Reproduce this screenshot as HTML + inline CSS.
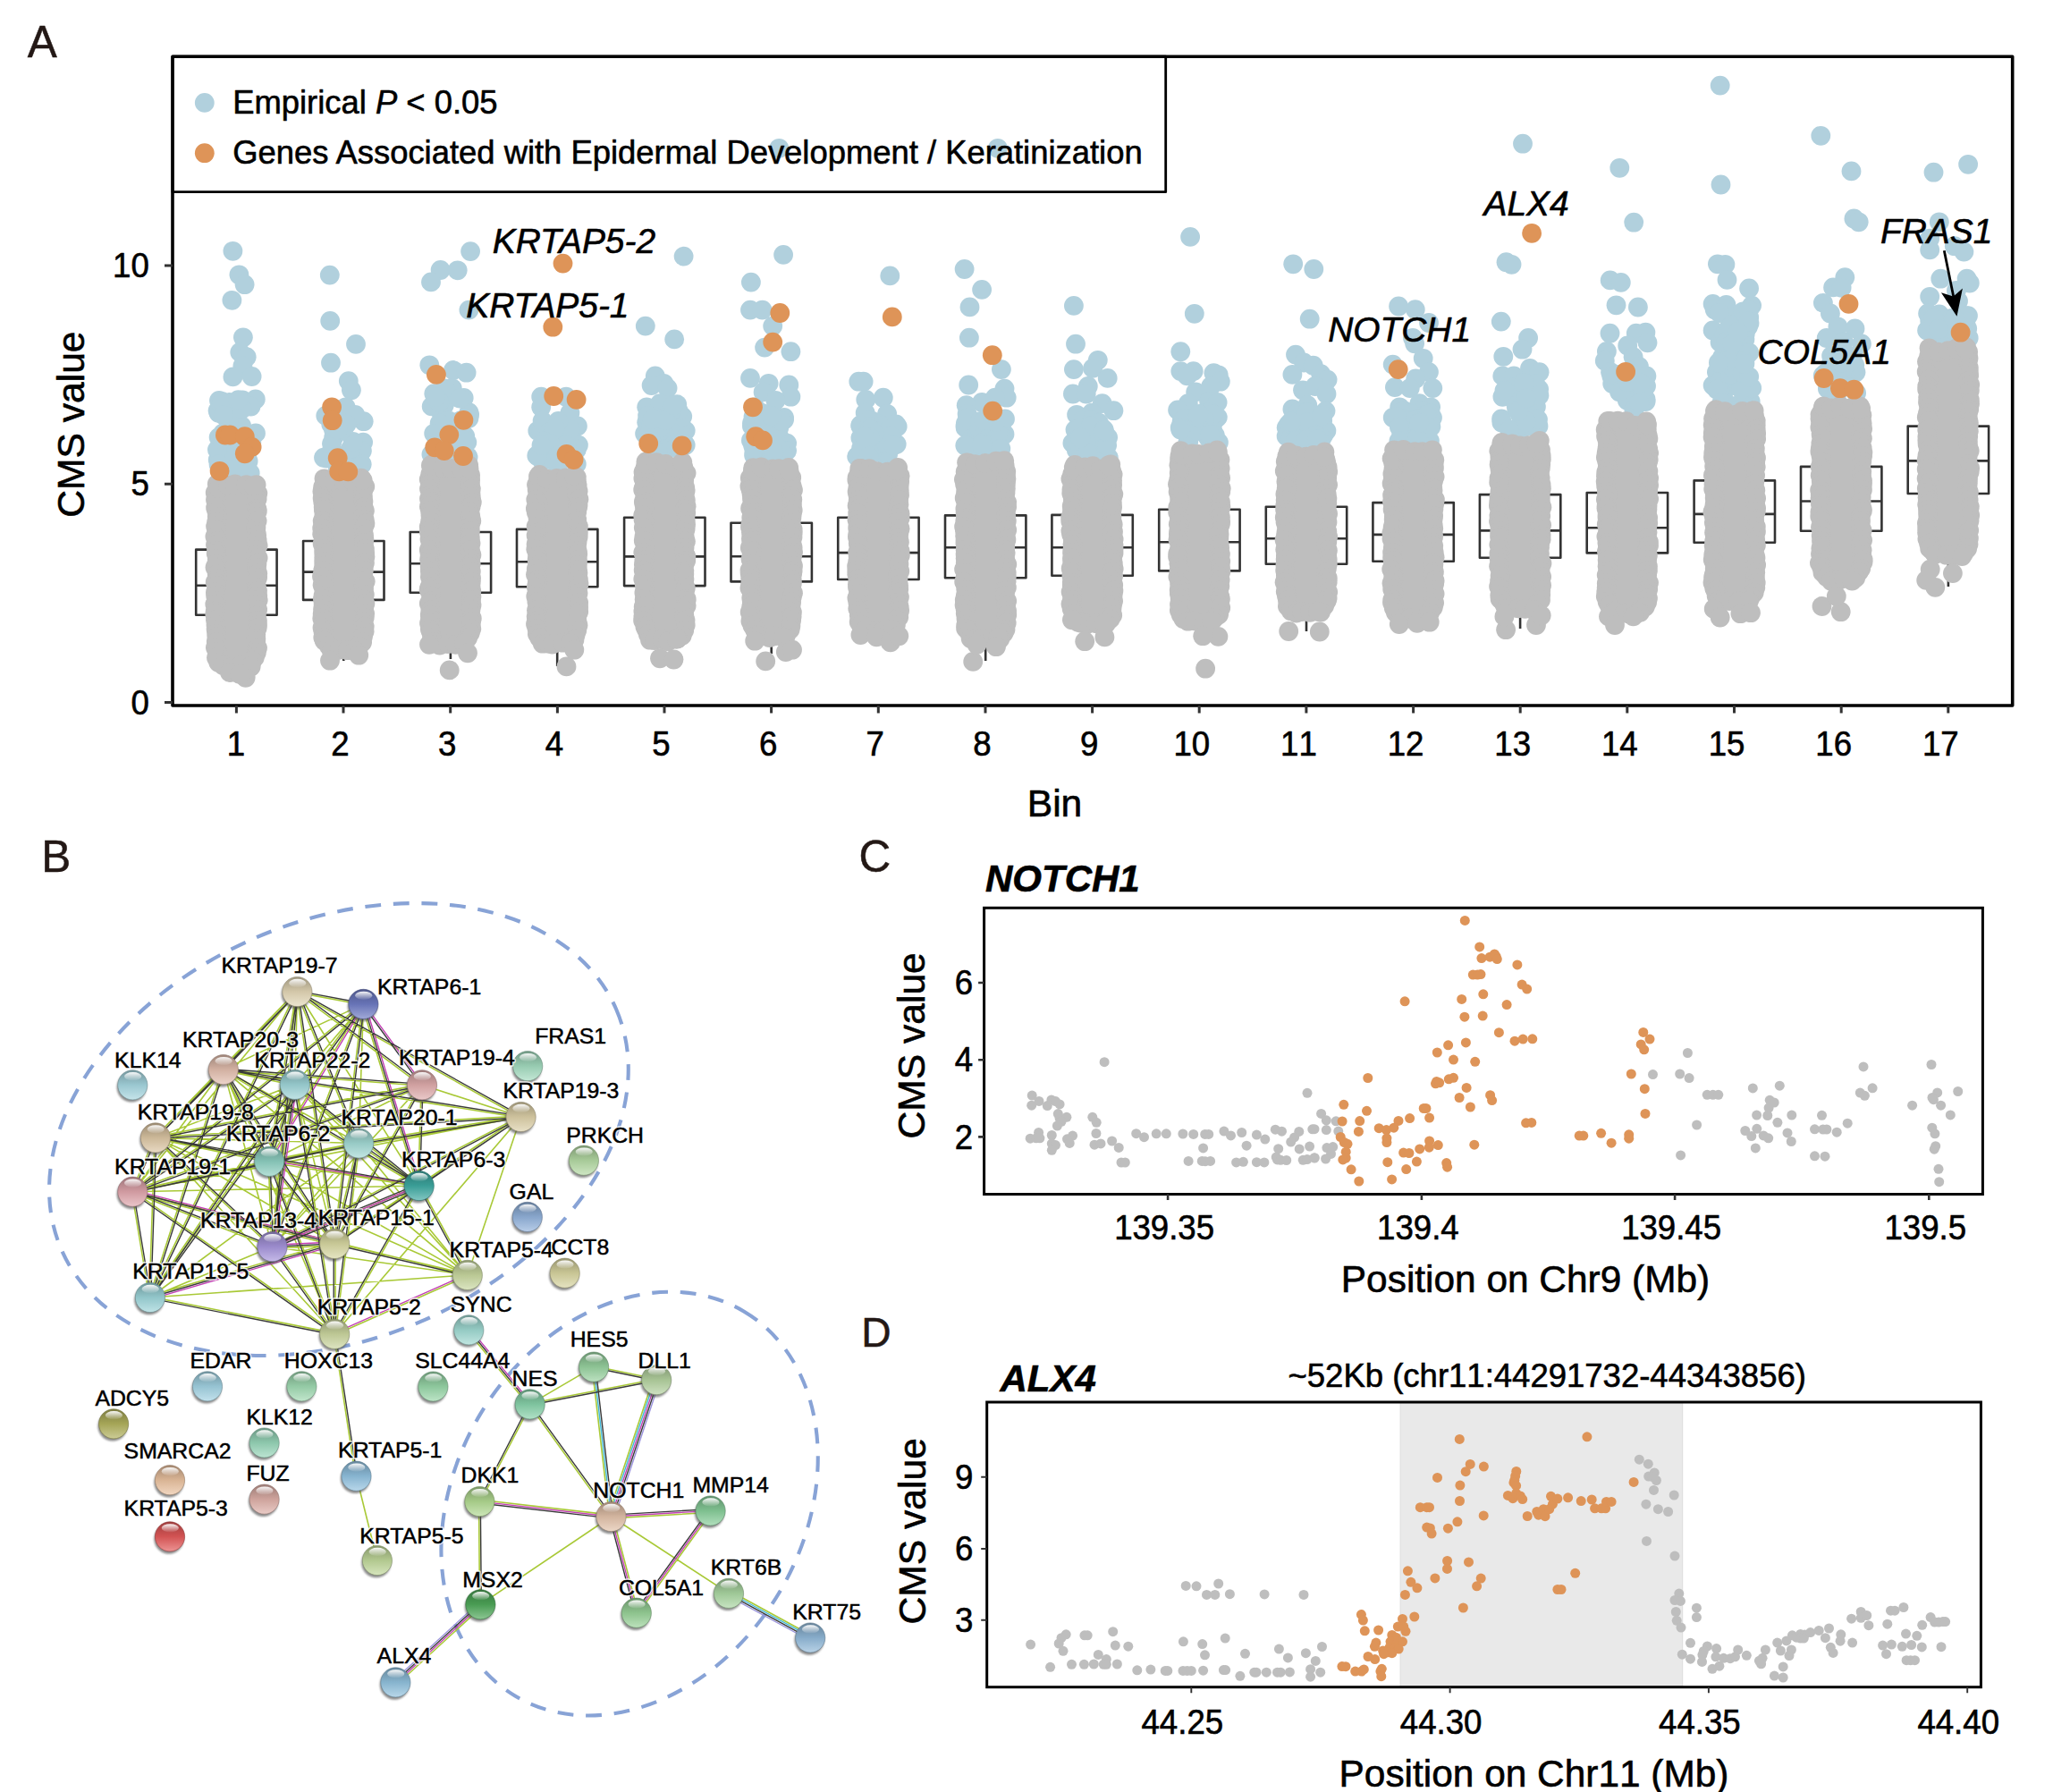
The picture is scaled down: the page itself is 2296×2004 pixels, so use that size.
<!DOCTYPE html>
<html><head><meta charset="utf-8"><title>Figure</title><style>html,body{margin:0;padding:0;background:#fff}svg{display:block}</style></head><body>
<svg width="2296" height="2004" viewBox="0 0 2296 2004" font-family='"Liberation Sans", sans-serif'>
<rect width="100%" height="100%" fill="#fff"/>
<g id="panelA" stroke-linejoin="round">
<g fill="none" stroke="#333333" stroke-width="2.6">
<rect x="219.2" y="614.6" width="90.4" height="73.2"/><path d="M219.2 654.7H309.6"/>
<path d="M264.4 687.8V760"/>
<rect x="339.1" y="605" width="90.4" height="65.9"/><path d="M339.1 639.6H429.5"/>
<path d="M384.3 670.9V739"/>
<rect x="458.7" y="595" width="90.4" height="67.8"/><path d="M458.7 630.3H549.1"/>
<path d="M503.9 662.8V737"/>
<rect x="578" y="591.9" width="90.4" height="64.4"/><path d="M578 628.2H668.4"/>
<path d="M623.2 656.3V745"/>
<rect x="698.1" y="578.8" width="90.4" height="76.3"/><path d="M698.1 622.4H788.5"/>
<rect x="817.5" y="584.7" width="90.4" height="65.7"/><path d="M817.5 622.2H907.9"/>
<path d="M862.7 650.4V731"/>
<rect x="937.2" y="578.8" width="90.4" height="69.2"/><path d="M937.2 618.1H1027.6"/>
<rect x="1057" y="576.4" width="90.4" height="69.9"/><path d="M1057 612.2H1147.4"/>
<path d="M1102.2 646.3V739"/>
<rect x="1176.4" y="575.9" width="90.4" height="67.8"/><path d="M1176.4 612.2H1266.8"/>
<rect x="1296.2" y="569.7" width="90.4" height="68.7"/><path d="M1296.2 606.2H1386.6"/>
<rect x="1415.8" y="566.8" width="90.4" height="64"/><path d="M1415.8 602.2H1506.2"/>
<path d="M1461 630.8V706"/>
<rect x="1535.4" y="562.1" width="90.4" height="65.6"/><path d="M1535.4 597.9H1625.8"/>
<rect x="1654.9" y="553.1" width="90.4" height="70.6"/><path d="M1654.9 593.4H1745.3"/>
<path d="M1700.1 623.7V703"/>
<rect x="1774.7" y="551" width="90.4" height="67.4"/><path d="M1774.7 590.2H1865.1"/>
<path d="M1819.9 618.4V697"/>
<rect x="1894.6" y="537.4" width="90.4" height="69.3"/><path d="M1894.6 574.9H1985"/>
<rect x="2014" y="521.9" width="90.4" height="71.9"/><path d="M2014 560.5H2104.4"/>
<rect x="2133.7" y="476.6" width="90.4" height="75.4"/><path d="M2133.7 515.4H2224.1"/>
<path d="M2178.9 552V656"/>
</g>
<g fill="#b1d0dd"><circle cx="260.4" cy="280.8" r="10.9"/><circle cx="267.4" cy="307.3" r="10.9"/><circle cx="273.6" cy="318.2" r="10.9"/><circle cx="259.4" cy="335.8" r="10.9"/><circle cx="271.9" cy="377.3" r="10.9"/><circle cx="268.3" cy="393.9" r="10.9"/><circle cx="275.7" cy="399.2" r="10.9"/><circle cx="271.4" cy="409.3" r="10.9"/><circle cx="260.4" cy="421.4" r="10.9"/><circle cx="281.6" cy="421" r="10.9"/><circle cx="368.8" cy="307.6" r="10.9"/><circle cx="369.2" cy="358.9" r="10.9"/><circle cx="398" cy="384.9" r="10.9"/><circle cx="370" cy="405.7" r="10.9"/><circle cx="389.8" cy="426.1" r="10.9"/><circle cx="392.9" cy="436.3" r="10.9"/><circle cx="386.6" cy="455.3" r="10.9"/><circle cx="364.3" cy="464.9" r="10.9"/><circle cx="406.7" cy="471.2" r="10.9"/><circle cx="397.2" cy="463.8" r="10.9"/><circle cx="382.3" cy="476.5" r="10.9"/><circle cx="406.1" cy="494.6" r="10.9"/><circle cx="526.1" cy="281.1" r="10.9"/><circle cx="492.6" cy="302" r="10.9"/><circle cx="511.7" cy="302.3" r="10.9"/><circle cx="482" cy="315.4" r="10.9"/><circle cx="524.4" cy="346.6" r="10.9"/><circle cx="480.3" cy="408.3" r="10.9"/><circle cx="507" cy="414" r="10.9"/><circle cx="521.6" cy="416.7" r="10.9"/><circle cx="605.2" cy="443.7" r="10.9"/><circle cx="633.1" cy="443.7" r="10.9"/><circle cx="605.2" cy="455.3" r="10.9"/><circle cx="637.4" cy="461.7" r="10.9"/><circle cx="645.9" cy="476.5" r="10.9"/><circle cx="623.6" cy="477.6" r="10.9"/><circle cx="601.3" cy="481.8" r="10.9"/><circle cx="605.6" cy="482.9" r="10.9"/><circle cx="646.9" cy="497.7" r="10.9"/><circle cx="610.9" cy="495.6" r="10.9"/><circle cx="627.8" cy="493.5" r="10.9"/><circle cx="600.3" cy="509.4" r="10.9"/><circle cx="615.1" cy="512.6" r="10.9"/><circle cx="644.8" cy="518.9" r="10.9"/><circle cx="764.6" cy="286.6" r="10.9"/><circle cx="721.8" cy="364.6" r="10.9"/><circle cx="754.2" cy="379.4" r="10.9"/><circle cx="732.8" cy="420.4" r="10.9"/><circle cx="742.3" cy="428.8" r="10.9"/><circle cx="728.6" cy="431" r="10.9"/><circle cx="746.6" cy="434.1" r="10.9"/><circle cx="723.2" cy="455.3" r="10.9"/><circle cx="738.1" cy="451.1" r="10.9"/><circle cx="757.2" cy="452.2" r="10.9"/><circle cx="729.6" cy="470.2" r="10.9"/><circle cx="757.2" cy="470.2" r="10.9"/><circle cx="723.2" cy="472.3" r="10.9"/><circle cx="766.7" cy="481.8" r="10.9"/><circle cx="721.1" cy="485" r="10.9"/><circle cx="742.3" cy="487.1" r="10.9"/><circle cx="766.7" cy="497.7" r="10.9"/><circle cx="876.1" cy="284.9" r="10.9"/><circle cx="839.9" cy="315.6" r="10.9"/><circle cx="839" cy="346.6" r="10.9"/><circle cx="852.6" cy="346.6" r="10.9"/><circle cx="864.2" cy="364.6" r="10.9"/><circle cx="855.1" cy="388.6" r="10.9"/><circle cx="884.4" cy="393.2" r="10.9"/><circle cx="839" cy="422.9" r="10.9"/><circle cx="859.6" cy="428.8" r="10.9"/><circle cx="882.3" cy="430.5" r="10.9"/><circle cx="853.6" cy="438.4" r="10.9"/><circle cx="884.4" cy="443.7" r="10.9"/><circle cx="867.4" cy="447.9" r="10.9"/><circle cx="844.1" cy="455.3" r="10.9"/><circle cx="877" cy="467" r="10.9"/><circle cx="840.9" cy="476.5" r="10.9"/><circle cx="863.2" cy="478.7" r="10.9"/><circle cx="871.7" cy="489.3" r="10.9"/><circle cx="839.9" cy="492.4" r="10.9"/><circle cx="880.1" cy="495.6" r="10.9"/><circle cx="844.1" cy="504.1" r="10.9"/><circle cx="865.3" cy="506.2" r="10.9"/><circle cx="880.1" cy="504.1" r="10.9"/><circle cx="995.3" cy="308.4" r="10.9"/><circle cx="960.3" cy="426.7" r="10.9"/><circle cx="965.6" cy="426.7" r="10.9"/><circle cx="968.3" cy="446.9" r="10.9"/><circle cx="987.8" cy="444.7" r="10.9"/><circle cx="967.7" cy="461.7" r="10.9"/><circle cx="992.1" cy="462.8" r="10.9"/><circle cx="962.4" cy="476.5" r="10.9"/><circle cx="983.6" cy="474.4" r="10.9"/><circle cx="1003.7" cy="477" r="10.9"/><circle cx="962.4" cy="489.7" r="10.9"/><circle cx="983.6" cy="489.3" r="10.9"/><circle cx="1002.7" cy="496.7" r="10.9"/><circle cx="958.2" cy="510.5" r="10.9"/><circle cx="975.1" cy="499.9" r="10.9"/><circle cx="993.1" cy="508.3" r="10.9"/><circle cx="1078.6" cy="301" r="10.9"/><circle cx="1098.1" cy="323.9" r="10.9"/><circle cx="1084.5" cy="343.4" r="10.9"/><circle cx="1083.9" cy="377.7" r="10.9"/><circle cx="1119.9" cy="413.1" r="10.9"/><circle cx="1083.2" cy="430.5" r="10.9"/><circle cx="1123.5" cy="434.6" r="10.9"/><circle cx="1125.7" cy="444.7" r="10.9"/><circle cx="1098.1" cy="450" r="10.9"/><circle cx="1080.7" cy="453.2" r="10.9"/><circle cx="1112.9" cy="444.7" r="10.9"/><circle cx="1200.9" cy="341.9" r="10.9"/><circle cx="1203" cy="384.7" r="10.9"/><circle cx="1227.8" cy="402.8" r="10.9"/><circle cx="1200.9" cy="413.1" r="10.9"/><circle cx="1222.1" cy="411.9" r="10.9"/><circle cx="1238.7" cy="422.9" r="10.9"/><circle cx="1216.8" cy="432" r="10.9"/><circle cx="1199.9" cy="440.5" r="10.9"/><circle cx="1214.7" cy="440.5" r="10.9"/><circle cx="1232.7" cy="451.1" r="10.9"/><circle cx="1245.4" cy="459.2" r="10.9"/><circle cx="1204.1" cy="463.8" r="10.9"/><circle cx="1221.1" cy="461.7" r="10.9"/><circle cx="1331.1" cy="264.9" r="10.9"/><circle cx="1335.8" cy="350.8" r="10.9"/><circle cx="1320.3" cy="393.2" r="10.9"/><circle cx="1320.3" cy="415.1" r="10.9"/><circle cx="1334.7" cy="415.1" r="10.9"/><circle cx="1327.7" cy="420.4" r="10.9"/><circle cx="1357.4" cy="417.2" r="10.9"/><circle cx="1362.7" cy="419.3" r="10.9"/><circle cx="1364.8" cy="426.7" r="10.9"/><circle cx="1337.2" cy="438.4" r="10.9"/><circle cx="1354.2" cy="432" r="10.9"/><circle cx="1328.8" cy="451.1" r="10.9"/><circle cx="1352.1" cy="449" r="10.9"/><circle cx="1361.6" cy="450" r="10.9"/><circle cx="1317.1" cy="458.5" r="10.9"/><circle cx="1446.2" cy="295.3" r="10.9"/><circle cx="1469.3" cy="301" r="10.9"/><circle cx="1464.7" cy="356.7" r="10.9"/><circle cx="1449" cy="396.6" r="10.9"/><circle cx="1458.1" cy="405.5" r="10.9"/><circle cx="1468.7" cy="408.7" r="10.9"/><circle cx="1445.4" cy="418.9" r="10.9"/><circle cx="1477.2" cy="418.2" r="10.9"/><circle cx="1484.6" cy="424.6" r="10.9"/><circle cx="1457" cy="436.3" r="10.9"/><circle cx="1470.8" cy="432" r="10.9"/><circle cx="1483.5" cy="440.5" r="10.9"/><circle cx="1445.4" cy="457.5" r="10.9"/><circle cx="1462.3" cy="453.2" r="10.9"/><circle cx="1482.5" cy="459.6" r="10.9"/><circle cx="1441.1" cy="474.4" r="10.9"/><circle cx="1564.1" cy="342.5" r="10.9"/><circle cx="1582.8" cy="346.1" r="10.9"/><circle cx="1598" cy="361" r="10.9"/><circle cx="1580" cy="377.9" r="10.9"/><circle cx="1582.1" cy="384.3" r="10.9"/><circle cx="1591.7" cy="400.8" r="10.9"/><circle cx="1557.7" cy="407.6" r="10.9"/><circle cx="1598" cy="416.1" r="10.9"/><circle cx="1583.2" cy="423.5" r="10.9"/><circle cx="1602.3" cy="434.1" r="10.9"/><circle cx="1559.9" cy="433.1" r="10.9"/><circle cx="1576.8" cy="434.1" r="10.9"/><circle cx="1565.2" cy="455.3" r="10.9"/><circle cx="1587.4" cy="451.1" r="10.9"/><circle cx="1600.1" cy="455.3" r="10.9"/><circle cx="1557.7" cy="467" r="10.9"/><circle cx="1703" cy="160.7" r="10.9"/><circle cx="1684.5" cy="293.2" r="10.9"/><circle cx="1690.5" cy="295.8" r="10.9"/><circle cx="1678.8" cy="359.6" r="10.9"/><circle cx="1709.1" cy="378" r="10.9"/><circle cx="1702.5" cy="390.7" r="10.9"/><circle cx="1681.3" cy="398.8" r="10.9"/><circle cx="1711" cy="411.9" r="10.9"/><circle cx="1721.6" cy="416.2" r="10.9"/><circle cx="1680.3" cy="420.4" r="10.9"/><circle cx="1693" cy="420.4" r="10.9"/><circle cx="1703.6" cy="428.9" r="10.9"/><circle cx="1811.3" cy="187.8" r="10.9"/><circle cx="1827.2" cy="248.7" r="10.9"/><circle cx="1800.7" cy="313.4" r="10.9"/><circle cx="1812.8" cy="315.9" r="10.9"/><circle cx="1807.5" cy="341.3" r="10.9"/><circle cx="1831.9" cy="343.5" r="10.9"/><circle cx="1800.5" cy="372.7" r="10.9"/><circle cx="1829.8" cy="372.7" r="10.9"/><circle cx="1840.4" cy="371.7" r="10.9"/><circle cx="1842.5" cy="383.3" r="10.9"/><circle cx="1820.2" cy="386.5" r="10.9"/><circle cx="1796.9" cy="392.9" r="10.9"/><circle cx="1826.6" cy="399.2" r="10.9"/><circle cx="1794.8" cy="403.5" r="10.9"/><circle cx="1801.1" cy="416.2" r="10.9"/><circle cx="1832.9" cy="409.8" r="10.9"/><circle cx="1841.4" cy="420.4" r="10.9"/><circle cx="1923.7" cy="95.6" r="10.9"/><circle cx="1924.5" cy="206.5" r="10.9"/><circle cx="1920.9" cy="295.3" r="10.9"/><circle cx="1929.4" cy="295.8" r="10.9"/><circle cx="1931.5" cy="312.9" r="10.9"/><circle cx="1956.1" cy="322.5" r="10.9"/><circle cx="1915.6" cy="339.9" r="10.9"/><circle cx="1930.5" cy="340.9" r="10.9"/><circle cx="1959.1" cy="341.6" r="10.9"/><circle cx="1917.7" cy="346.2" r="10.9"/><circle cx="1932.6" cy="353.6" r="10.9"/><circle cx="1949.5" cy="357.9" r="10.9"/><circle cx="1915.6" cy="369.5" r="10.9"/><circle cx="1951.7" cy="373.8" r="10.9"/><circle cx="1926.2" cy="384.4" r="10.9"/><circle cx="1947.4" cy="386.5" r="10.9"/><circle cx="1926.2" cy="399.2" r="10.9"/><circle cx="1947.4" cy="401.3" r="10.9"/><circle cx="1919.9" cy="416.2" r="10.9"/><circle cx="1936.8" cy="414.1" r="10.9"/><circle cx="1951.7" cy="418.3" r="10.9"/><circle cx="1915.6" cy="431" r="10.9"/><circle cx="1936.8" cy="431" r="10.9"/><circle cx="1955.9" cy="433.1" r="10.9"/><circle cx="2036.3" cy="151.8" r="10.9"/><circle cx="2070.5" cy="191.4" r="10.9"/><circle cx="2073.4" cy="244.5" r="10.9"/><circle cx="2078.7" cy="248.3" r="10.9"/><circle cx="2063.3" cy="310.2" r="10.9"/><circle cx="2050.1" cy="321.4" r="10.9"/><circle cx="2059.6" cy="321.8" r="10.9"/><circle cx="2038.9" cy="338.8" r="10.9"/><circle cx="2046.9" cy="350.5" r="10.9"/><circle cx="2055.4" cy="365.3" r="10.9"/><circle cx="2074.5" cy="367.4" r="10.9"/><circle cx="2042.7" cy="378" r="10.9"/><circle cx="2061.8" cy="382.3" r="10.9"/><circle cx="2081.9" cy="384.4" r="10.9"/><circle cx="2075.5" cy="416.2" r="10.9"/><circle cx="2066" cy="399.2" r="10.9"/><circle cx="2162.5" cy="192.7" r="10.9"/><circle cx="2201.1" cy="183.8" r="10.9"/><circle cx="2168.8" cy="248.3" r="10.9"/><circle cx="2158.2" cy="266.7" r="10.9"/><circle cx="2158.2" cy="279.4" r="10.9"/><circle cx="2185.8" cy="275.2" r="10.9"/><circle cx="2196.4" cy="281.6" r="10.9"/><circle cx="2170.3" cy="311.7" r="10.9"/><circle cx="2199.6" cy="311.7" r="10.9"/><circle cx="2202.8" cy="316.5" r="10.9"/><circle cx="2158.2" cy="331.8" r="10.9"/><circle cx="2187.9" cy="325" r="10.9"/><circle cx="2190" cy="336.7" r="10.9"/><circle cx="2156.1" cy="350.5" r="10.9"/><circle cx="2168.8" cy="351.5" r="10.9"/><circle cx="2182.6" cy="355.8" r="10.9"/><circle cx="2197.5" cy="364.2" r="10.9"/><circle cx="2155.1" cy="369.5" r="10.9"/><circle cx="2169.9" cy="367.4" r="10.9"/><circle cx="2201.7" cy="378" r="10.9"/><circle cx="256.5" cy="450" r="10.9"/><circle cx="271.2" cy="447.4" r="10.9"/><circle cx="266" cy="457.1" r="10.9"/><circle cx="244.5" cy="461.7" r="10.9"/><circle cx="243.6" cy="459.3" r="10.9"/><circle cx="245" cy="448" r="10.9"/><circle cx="261" cy="472.3" r="10.9"/><circle cx="247.5" cy="452.4" r="10.9"/><circle cx="270.1" cy="476.3" r="10.9"/><circle cx="267.9" cy="458.1" r="10.9"/><circle cx="285.8" cy="446.5" r="10.9"/><circle cx="280.5" cy="454.6" r="10.9"/><circle cx="248.4" cy="448.9" r="10.9"/><circle cx="255.8" cy="471.9" r="10.9"/><circle cx="250" cy="464.2" r="10.9"/><circle cx="270.7" cy="457.3" r="10.9"/><circle cx="266.5" cy="447.1" r="10.9"/><circle cx="244.6" cy="489.1" r="10.9"/><circle cx="272.5" cy="501.1" r="10.9"/><circle cx="256" cy="509.6" r="10.9"/><circle cx="262.3" cy="494.2" r="10.9"/><circle cx="277.6" cy="515.7" r="10.9"/><circle cx="252.9" cy="509" r="10.9"/><circle cx="265.5" cy="525.3" r="10.9"/><circle cx="274.7" cy="493.5" r="10.9"/><circle cx="286" cy="484.4" r="10.9"/><circle cx="260.7" cy="518.9" r="10.9"/><circle cx="248.7" cy="504.4" r="10.9"/><circle cx="243.7" cy="514.1" r="10.9"/><circle cx="276.3" cy="508.9" r="10.9"/><circle cx="281.3" cy="494.9" r="10.9"/><circle cx="273.2" cy="510.1" r="10.9"/><circle cx="268" cy="502.6" r="10.9"/><circle cx="279.7" cy="529" r="10.9"/><circle cx="263.2" cy="513.9" r="10.9"/><circle cx="244.6" cy="515.9" r="10.9"/><circle cx="271" cy="531.6" r="10.9"/><circle cx="278.9" cy="493.4" r="10.9"/><circle cx="259.3" cy="514.1" r="10.9"/><circle cx="242.9" cy="502.9" r="10.9"/><circle cx="249.5" cy="484.3" r="10.9"/><circle cx="244.6" cy="519.5" r="10.9"/><circle cx="247.7" cy="491.4" r="10.9"/><circle cx="259.5" cy="525.1" r="10.9"/><circle cx="365.4" cy="512.6" r="10.9"/><circle cx="386.5" cy="524.7" r="10.9"/><circle cx="398.7" cy="524.2" r="10.9"/><circle cx="374.3" cy="511.6" r="10.9"/><circle cx="377.9" cy="524.8" r="10.9"/><circle cx="404.9" cy="504.2" r="10.9"/><circle cx="369.7" cy="506.5" r="10.9"/><circle cx="372.3" cy="513.6" r="10.9"/><circle cx="388.3" cy="507.4" r="10.9"/><circle cx="362" cy="511.7" r="10.9"/><circle cx="378.4" cy="515.9" r="10.9"/><circle cx="404.7" cy="519.3" r="10.9"/><circle cx="385" cy="517.3" r="10.9"/><circle cx="392.2" cy="501.5" r="10.9"/><circle cx="402.3" cy="521.8" r="10.9"/><circle cx="394.8" cy="493.9" r="10.9"/><circle cx="381.3" cy="482" r="10.9"/><circle cx="373.2" cy="489" r="10.9"/><circle cx="372" cy="472" r="10.9"/><circle cx="376.1" cy="474.9" r="10.9"/><circle cx="379.8" cy="471.6" r="10.9"/><circle cx="370.3" cy="474.5" r="10.9"/><circle cx="373.1" cy="480.9" r="10.9"/><circle cx="371" cy="496.2" r="10.9"/><circle cx="387.5" cy="474.5" r="10.9"/><circle cx="377.4" cy="480.4" r="10.9"/><circle cx="497.8" cy="441.8" r="10.9"/><circle cx="519.6" cy="511.4" r="10.9"/><circle cx="502.4" cy="470.7" r="10.9"/><circle cx="485.3" cy="440.2" r="10.9"/><circle cx="496.8" cy="453.2" r="10.9"/><circle cx="518.7" cy="444.9" r="10.9"/><circle cx="482.4" cy="508.1" r="10.9"/><circle cx="505.2" cy="443.7" r="10.9"/><circle cx="505.8" cy="434.2" r="10.9"/><circle cx="505.2" cy="510.3" r="10.9"/><circle cx="520.2" cy="487.7" r="10.9"/><circle cx="493.2" cy="461.3" r="10.9"/><circle cx="488.9" cy="493.8" r="10.9"/><circle cx="505.4" cy="494.3" r="10.9"/><circle cx="496.2" cy="449.8" r="10.9"/><circle cx="517.9" cy="510.8" r="10.9"/><circle cx="519.8" cy="496.5" r="10.9"/><circle cx="518.2" cy="491.2" r="10.9"/><circle cx="491.6" cy="473.4" r="10.9"/><circle cx="497.4" cy="434.3" r="10.9"/><circle cx="482.7" cy="454.4" r="10.9"/><circle cx="493.1" cy="487.4" r="10.9"/><circle cx="524.4" cy="467.8" r="10.9"/><circle cx="523.6" cy="511" r="10.9"/><circle cx="524.4" cy="461.2" r="10.9"/><circle cx="491.3" cy="450.1" r="10.9"/><circle cx="490.3" cy="448.3" r="10.9"/><circle cx="509.5" cy="504" r="10.9"/><circle cx="519.2" cy="470.4" r="10.9"/><circle cx="510.8" cy="496" r="10.9"/><circle cx="485.2" cy="484.8" r="10.9"/><circle cx="522.3" cy="494.6" r="10.9"/><circle cx="515.2" cy="470.2" r="10.9"/><circle cx="489.4" cy="495.1" r="10.9"/><circle cx="496.4" cy="496.1" r="10.9"/><circle cx="525.1" cy="463.7" r="10.9"/><circle cx="499.5" cy="507.7" r="10.9"/><circle cx="514" cy="445.6" r="10.9"/><circle cx="487.1" cy="444.1" r="10.9"/><circle cx="641.4" cy="510.3" r="10.9"/><circle cx="607.3" cy="511.3" r="10.9"/><circle cx="644.8" cy="502.9" r="10.9"/><circle cx="616.5" cy="497.4" r="10.9"/><circle cx="606.6" cy="470.7" r="10.9"/><circle cx="644.4" cy="502.5" r="10.9"/><circle cx="624.4" cy="516.7" r="10.9"/><circle cx="620.2" cy="513.6" r="10.9"/><circle cx="637.9" cy="480.6" r="10.9"/><circle cx="612" cy="484.6" r="10.9"/><circle cx="611.5" cy="499.3" r="10.9"/><circle cx="612.4" cy="491" r="10.9"/><circle cx="606.6" cy="515.5" r="10.9"/><circle cx="616.6" cy="492.9" r="10.9"/><circle cx="627" cy="515.2" r="10.9"/><circle cx="619.6" cy="515.9" r="10.9"/><circle cx="623.3" cy="496.6" r="10.9"/><circle cx="624.3" cy="470.9" r="10.9"/><circle cx="620.5" cy="479.2" r="10.9"/><circle cx="600.9" cy="510" r="10.9"/><circle cx="608.5" cy="493.7" r="10.9"/><circle cx="633.3" cy="497.8" r="10.9"/><circle cx="615.4" cy="495.9" r="10.9"/><circle cx="625.7" cy="509.2" r="10.9"/><circle cx="605.5" cy="498" r="10.9"/><circle cx="732" cy="466.7" r="10.9"/><circle cx="755.6" cy="478.9" r="10.9"/><circle cx="746.1" cy="492.3" r="10.9"/><circle cx="761.9" cy="475.5" r="10.9"/><circle cx="748.4" cy="478.8" r="10.9"/><circle cx="743.8" cy="488.7" r="10.9"/><circle cx="741.2" cy="480.3" r="10.9"/><circle cx="742.3" cy="501.9" r="10.9"/><circle cx="752.3" cy="498.5" r="10.9"/><circle cx="763.2" cy="465.8" r="10.9"/><circle cx="746" cy="502" r="10.9"/><circle cx="758.6" cy="459.3" r="10.9"/><circle cx="726.3" cy="475.4" r="10.9"/><circle cx="724.1" cy="464.8" r="10.9"/><circle cx="724.1" cy="487.5" r="10.9"/><circle cx="756.1" cy="499.5" r="10.9"/><circle cx="727.8" cy="490" r="10.9"/><circle cx="750.5" cy="459.6" r="10.9"/><circle cx="760.5" cy="503.3" r="10.9"/><circle cx="730.7" cy="502.5" r="10.9"/><circle cx="738.7" cy="477.8" r="10.9"/><circle cx="765.3" cy="496.1" r="10.9"/><circle cx="728.1" cy="474.9" r="10.9"/><circle cx="744" cy="470" r="10.9"/><circle cx="729.6" cy="468.9" r="10.9"/><circle cx="753.3" cy="453" r="10.9"/><circle cx="865.1" cy="479.2" r="10.9"/><circle cx="841" cy="473.2" r="10.9"/><circle cx="868.3" cy="483.2" r="10.9"/><circle cx="843.1" cy="509.2" r="10.9"/><circle cx="875.7" cy="508.4" r="10.9"/><circle cx="844.9" cy="469.6" r="10.9"/><circle cx="842" cy="497.8" r="10.9"/><circle cx="852.4" cy="462.1" r="10.9"/><circle cx="859.2" cy="505.1" r="10.9"/><circle cx="877.1" cy="469.2" r="10.9"/><circle cx="846.9" cy="505.6" r="10.9"/><circle cx="865.9" cy="493.5" r="10.9"/><circle cx="844.2" cy="458.2" r="10.9"/><circle cx="871.2" cy="478.4" r="10.9"/><circle cx="843.5" cy="506.6" r="10.9"/><circle cx="868.7" cy="499.1" r="10.9"/><circle cx="844" cy="502.1" r="10.9"/><circle cx="843.2" cy="502.5" r="10.9"/><circle cx="860.6" cy="473.7" r="10.9"/><circle cx="865.1" cy="506" r="10.9"/><circle cx="852.3" cy="462.1" r="10.9"/><circle cx="863.9" cy="468.1" r="10.9"/><circle cx="845.1" cy="463.9" r="10.9"/><circle cx="842.5" cy="466.1" r="10.9"/><circle cx="854.2" cy="471.8" r="10.9"/><circle cx="874.4" cy="470.9" r="10.9"/><circle cx="862.7" cy="464.8" r="10.9"/><circle cx="975.5" cy="470.8" r="10.9"/><circle cx="971.2" cy="470.6" r="10.9"/><circle cx="992.9" cy="493.1" r="10.9"/><circle cx="968.4" cy="489.9" r="10.9"/><circle cx="1002" cy="474.5" r="10.9"/><circle cx="996.8" cy="488.2" r="10.9"/><circle cx="982.2" cy="505.1" r="10.9"/><circle cx="977.6" cy="491.3" r="10.9"/><circle cx="990.8" cy="511.3" r="10.9"/><circle cx="975.3" cy="505" r="10.9"/><circle cx="991.7" cy="496.7" r="10.9"/><circle cx="978.1" cy="484.6" r="10.9"/><circle cx="962.3" cy="475.5" r="10.9"/><circle cx="963.1" cy="501.1" r="10.9"/><circle cx="971.4" cy="476.9" r="10.9"/><circle cx="963.7" cy="505.3" r="10.9"/><circle cx="999.1" cy="498.2" r="10.9"/><circle cx="972.6" cy="480.2" r="10.9"/><circle cx="973.1" cy="489.3" r="10.9"/><circle cx="967" cy="488.7" r="10.9"/><circle cx="971.7" cy="510.4" r="10.9"/><circle cx="1123.5" cy="485.5" r="10.9"/><circle cx="1090.7" cy="503.5" r="10.9"/><circle cx="1093.6" cy="477.3" r="10.9"/><circle cx="1079.7" cy="478.4" r="10.9"/><circle cx="1101.1" cy="483.6" r="10.9"/><circle cx="1088.7" cy="483.7" r="10.9"/><circle cx="1079.9" cy="473.4" r="10.9"/><circle cx="1083.7" cy="479.2" r="10.9"/><circle cx="1081.6" cy="463" r="10.9"/><circle cx="1093.4" cy="472" r="10.9"/><circle cx="1106.1" cy="484.8" r="10.9"/><circle cx="1113.5" cy="490.3" r="10.9"/><circle cx="1111.9" cy="499.8" r="10.9"/><circle cx="1097.2" cy="476" r="10.9"/><circle cx="1124" cy="468.4" r="10.9"/><circle cx="1112.3" cy="489.7" r="10.9"/><circle cx="1081.7" cy="497.9" r="10.9"/><circle cx="1119.8" cy="489" r="10.9"/><circle cx="1112.7" cy="496.9" r="10.9"/><circle cx="1086" cy="484.5" r="10.9"/><circle cx="1102.4" cy="497.9" r="10.9"/><circle cx="1115.9" cy="497.5" r="10.9"/><circle cx="1225.4" cy="505.7" r="10.9"/><circle cx="1229.8" cy="497.7" r="10.9"/><circle cx="1209.4" cy="471.2" r="10.9"/><circle cx="1205.1" cy="484.4" r="10.9"/><circle cx="1203.8" cy="503.4" r="10.9"/><circle cx="1224.2" cy="495.1" r="10.9"/><circle cx="1227.3" cy="497.2" r="10.9"/><circle cx="1221.1" cy="470.1" r="10.9"/><circle cx="1235" cy="499.9" r="10.9"/><circle cx="1221.7" cy="491.4" r="10.9"/><circle cx="1228.8" cy="472.6" r="10.9"/><circle cx="1232.3" cy="480.1" r="10.9"/><circle cx="1202.5" cy="480.6" r="10.9"/><circle cx="1231.9" cy="478.2" r="10.9"/><circle cx="1232.4" cy="509" r="10.9"/><circle cx="1221.3" cy="485.3" r="10.9"/><circle cx="1220.7" cy="497.3" r="10.9"/><circle cx="1233.6" cy="494.7" r="10.9"/><circle cx="1228" cy="473.1" r="10.9"/><circle cx="1205.7" cy="480.2" r="10.9"/><circle cx="1232.5" cy="482.2" r="10.9"/><circle cx="1344.4" cy="462.4" r="10.9"/><circle cx="1321.6" cy="471.4" r="10.9"/><circle cx="1349.1" cy="486.2" r="10.9"/><circle cx="1349.3" cy="472.2" r="10.9"/><circle cx="1342.1" cy="478.3" r="10.9"/><circle cx="1339.9" cy="466.1" r="10.9"/><circle cx="1359.1" cy="469" r="10.9"/><circle cx="1362.9" cy="494.8" r="10.9"/><circle cx="1319.7" cy="478.1" r="10.9"/><circle cx="1355.8" cy="495.9" r="10.9"/><circle cx="1339.1" cy="471.4" r="10.9"/><circle cx="1328.3" cy="495.1" r="10.9"/><circle cx="1328.4" cy="482.4" r="10.9"/><circle cx="1325.3" cy="480.3" r="10.9"/><circle cx="1361.8" cy="466.6" r="10.9"/><circle cx="1355.8" cy="479.8" r="10.9"/><circle cx="1358.8" cy="486.6" r="10.9"/><circle cx="1329.3" cy="493.4" r="10.9"/><circle cx="1460.4" cy="460.9" r="10.9"/><circle cx="1438.7" cy="478.2" r="10.9"/><circle cx="1458.8" cy="471.2" r="10.9"/><circle cx="1444.8" cy="472.7" r="10.9"/><circle cx="1452.7" cy="491.1" r="10.9"/><circle cx="1438.6" cy="487.8" r="10.9"/><circle cx="1476.3" cy="464.4" r="10.9"/><circle cx="1480.2" cy="486.4" r="10.9"/><circle cx="1479.1" cy="470.7" r="10.9"/><circle cx="1455.2" cy="474.5" r="10.9"/><circle cx="1483.4" cy="481.8" r="10.9"/><circle cx="1454.7" cy="475.8" r="10.9"/><circle cx="1450.9" cy="461.8" r="10.9"/><circle cx="1443.1" cy="490.9" r="10.9"/><circle cx="1451.4" cy="494.6" r="10.9"/><circle cx="1449.7" cy="469.8" r="10.9"/><circle cx="1461.5" cy="467" r="10.9"/><circle cx="1455.3" cy="495.4" r="10.9"/><circle cx="1478.3" cy="490" r="10.9"/><circle cx="1586.5" cy="490" r="10.9"/><circle cx="1600.4" cy="477.2" r="10.9"/><circle cx="1590.5" cy="459.7" r="10.9"/><circle cx="1591.1" cy="473.8" r="10.9"/><circle cx="1592" cy="480.6" r="10.9"/><circle cx="1571" cy="459.7" r="10.9"/><circle cx="1599.8" cy="462.5" r="10.9"/><circle cx="1579.3" cy="470" r="10.9"/><circle cx="1571.5" cy="483.9" r="10.9"/><circle cx="1602" cy="467.1" r="10.9"/><circle cx="1587.6" cy="468.5" r="10.9"/><circle cx="1583.2" cy="471.8" r="10.9"/><circle cx="1565.6" cy="463.7" r="10.9"/><circle cx="1567.5" cy="489.7" r="10.9"/><circle cx="1580.5" cy="465.7" r="10.9"/><circle cx="1598.9" cy="492.9" r="10.9"/><circle cx="1578.3" cy="462.9" r="10.9"/><circle cx="1566.8" cy="461.2" r="10.9"/><circle cx="1693" cy="433.2" r="10.9"/><circle cx="1688.4" cy="442.7" r="10.9"/><circle cx="1703.2" cy="478.6" r="10.9"/><circle cx="1711.3" cy="451.5" r="10.9"/><circle cx="1696.2" cy="457.9" r="10.9"/><circle cx="1694.6" cy="447.3" r="10.9"/><circle cx="1680.4" cy="443.8" r="10.9"/><circle cx="1721.1" cy="435.2" r="10.9"/><circle cx="1700.3" cy="463.9" r="10.9"/><circle cx="1716.4" cy="440.3" r="10.9"/><circle cx="1689.8" cy="442.2" r="10.9"/><circle cx="1695.6" cy="453.4" r="10.9"/><circle cx="1720.5" cy="476.4" r="10.9"/><circle cx="1716.9" cy="429.2" r="10.9"/><circle cx="1679.1" cy="468.4" r="10.9"/><circle cx="1717.9" cy="455" r="10.9"/><circle cx="1704" cy="428" r="10.9"/><circle cx="1695.2" cy="480.8" r="10.9"/><circle cx="1714.8" cy="476.8" r="10.9"/><circle cx="1721.4" cy="442.2" r="10.9"/><circle cx="1682.5" cy="436.8" r="10.9"/><circle cx="1701.1" cy="466.9" r="10.9"/><circle cx="1720" cy="469.1" r="10.9"/><circle cx="1706.7" cy="471.6" r="10.9"/><circle cx="1698.2" cy="459.4" r="10.9"/><circle cx="1679.4" cy="472.6" r="10.9"/><circle cx="1688.1" cy="480.4" r="10.9"/><circle cx="1706.6" cy="445.3" r="10.9"/><circle cx="1803.2" cy="429.1" r="10.9"/><circle cx="1826" cy="448.7" r="10.9"/><circle cx="1802.4" cy="421.1" r="10.9"/><circle cx="1821" cy="443.6" r="10.9"/><circle cx="1814.9" cy="427.8" r="10.9"/><circle cx="1824.4" cy="418.5" r="10.9"/><circle cx="1811" cy="438.3" r="10.9"/><circle cx="1840.6" cy="446.4" r="10.9"/><circle cx="1837.2" cy="438.9" r="10.9"/><circle cx="1808" cy="428.9" r="10.9"/><circle cx="1840.6" cy="449" r="10.9"/><circle cx="1811.2" cy="419" r="10.9"/><circle cx="1819.8" cy="447.7" r="10.9"/><circle cx="1816.3" cy="429.3" r="10.9"/><circle cx="1827.4" cy="458.7" r="10.9"/><circle cx="1807.6" cy="419.5" r="10.9"/><circle cx="1812.6" cy="436.5" r="10.9"/><circle cx="1828.1" cy="426.7" r="10.9"/><circle cx="1833.3" cy="450.5" r="10.9"/><circle cx="1820.1" cy="427" r="10.9"/><circle cx="1841" cy="431.7" r="10.9"/><circle cx="1834.3" cy="428.2" r="10.9"/><circle cx="1927.3" cy="445.5" r="10.9"/><circle cx="1930.6" cy="450.7" r="10.9"/><circle cx="1939.6" cy="430.1" r="10.9"/><circle cx="1927.3" cy="436.3" r="10.9"/><circle cx="1947.2" cy="450.6" r="10.9"/><circle cx="1923.9" cy="435.6" r="10.9"/><circle cx="1926.9" cy="451.3" r="10.9"/><circle cx="1923.7" cy="426.4" r="10.9"/><circle cx="1920" cy="435.6" r="10.9"/><circle cx="1957.7" cy="448.9" r="10.9"/><circle cx="1950.3" cy="451.9" r="10.9"/><circle cx="1959.2" cy="433.9" r="10.9"/><circle cx="1925.6" cy="450.3" r="10.9"/><circle cx="1950.9" cy="425.9" r="10.9"/><circle cx="1947.2" cy="435.2" r="10.9"/><circle cx="1935.3" cy="371.5" r="10.9"/><circle cx="1927.9" cy="345.2" r="10.9"/><circle cx="1931.9" cy="373.1" r="10.9"/><circle cx="1956.2" cy="354.9" r="10.9"/><circle cx="1956.5" cy="361.6" r="10.9"/><circle cx="1934.6" cy="410.7" r="10.9"/><circle cx="1951.4" cy="379.6" r="10.9"/><circle cx="1923.6" cy="382.9" r="10.9"/><circle cx="1935.2" cy="418.6" r="10.9"/><circle cx="1928.7" cy="374.1" r="10.9"/><circle cx="1954.1" cy="347.4" r="10.9"/><circle cx="1936.6" cy="409.9" r="10.9"/><circle cx="1949.4" cy="348.3" r="10.9"/><circle cx="1923.1" cy="350" r="10.9"/><circle cx="1954.9" cy="365.6" r="10.9"/><circle cx="1948.7" cy="416.9" r="10.9"/><circle cx="1934" cy="366.8" r="10.9"/><circle cx="1956.3" cy="394.4" r="10.9"/><circle cx="1931.2" cy="402.3" r="10.9"/><circle cx="1933.2" cy="367.1" r="10.9"/><circle cx="1921.9" cy="405.5" r="10.9"/><circle cx="1954.8" cy="395.7" r="10.9"/><circle cx="1955.8" cy="346.9" r="10.9"/><circle cx="1930.2" cy="383" r="10.9"/><circle cx="1956.2" cy="421.3" r="10.9"/><circle cx="1935.7" cy="365.1" r="10.9"/><circle cx="1937.3" cy="384.5" r="10.9"/><circle cx="1955.2" cy="359.6" r="10.9"/><circle cx="1950.7" cy="404.1" r="10.9"/><circle cx="1951.4" cy="406.8" r="10.9"/><circle cx="1943.7" cy="371.2" r="10.9"/><circle cx="2051.3" cy="411.3" r="10.9"/><circle cx="2071.6" cy="398.6" r="10.9"/><circle cx="2045.9" cy="428.9" r="10.9"/><circle cx="2048.1" cy="397.9" r="10.9"/><circle cx="2038.7" cy="419.9" r="10.9"/><circle cx="2051.5" cy="439.1" r="10.9"/><circle cx="2076.1" cy="439.5" r="10.9"/><circle cx="2048.9" cy="398.8" r="10.9"/><circle cx="2041.4" cy="417.4" r="10.9"/><circle cx="2068.4" cy="415.1" r="10.9"/><circle cx="2047.5" cy="413.8" r="10.9"/><circle cx="2064.5" cy="425.3" r="10.9"/><circle cx="2070.1" cy="433.1" r="10.9"/><circle cx="2066.4" cy="400.5" r="10.9"/><circle cx="2074.2" cy="408.2" r="10.9"/><circle cx="2062.1" cy="411.8" r="10.9"/><circle cx="2069.7" cy="404" r="10.9"/><circle cx="2048.1" cy="406" r="10.9"/><circle cx="2043.9" cy="434.8" r="10.9"/><circle cx="2062.6" cy="409.7" r="10.9"/><circle cx="2054.6" cy="439.7" r="10.9"/><circle cx="2059.5" cy="405.4" r="10.9"/><circle cx="2192.8" cy="369.6" r="10.9"/><circle cx="2201" cy="353.1" r="10.9"/><circle cx="2177.8" cy="374.6" r="10.9"/><circle cx="2194.2" cy="377.4" r="10.9"/><circle cx="2158.2" cy="358.8" r="10.9"/><circle cx="2161.8" cy="355.7" r="10.9"/><circle cx="2200.2" cy="367.5" r="10.9"/><circle cx="2198.3" cy="361.2" r="10.9"/><circle cx="2195.4" cy="363.5" r="10.9"/><circle cx="2168.1" cy="373.3" r="10.9"/><circle cx="2199" cy="353.2" r="10.9"/><circle cx="2183.2" cy="368.6" r="10.9"/><circle cx="2166.2" cy="361.1" r="10.9"/><circle cx="2162.8" cy="356.1" r="10.9"/><circle cx="2167.9" cy="368" r="10.9"/><circle cx="2185.7" cy="356.1" r="10.9"/><circle cx="1079.5" cy="476.3" r="10.9"/><circle cx="1110.6" cy="470.9" r="10.9"/><circle cx="1093.6" cy="471.6" r="10.9"/><circle cx="1116.1" cy="484.7" r="10.9"/><circle cx="1082" cy="467.7" r="10.9"/><circle cx="1097.4" cy="484.8" r="10.9"/><circle cx="1108.8" cy="467.3" r="10.9"/><circle cx="1086.6" cy="490.4" r="10.9"/><circle cx="1098.1" cy="474.6" r="10.9"/><circle cx="1093.4" cy="500.2" r="10.9"/><circle cx="1093.6" cy="485.4" r="10.9"/><circle cx="1095.7" cy="479.7" r="10.9"/><circle cx="1119.3" cy="501.8" r="10.9"/><circle cx="1096" cy="471.3" r="10.9"/><circle cx="1113" cy="471.6" r="10.9"/><circle cx="1079.3" cy="498.2" r="10.9"/><circle cx="1098.8" cy="495.1" r="10.9"/><circle cx="1098" cy="497.5" r="10.9"/><circle cx="1100.5" cy="470" r="10.9"/><circle cx="1199.4" cy="495.5" r="10.9"/><circle cx="1226.6" cy="509.1" r="10.9"/><circle cx="1202.7" cy="498.2" r="10.9"/><circle cx="1214.9" cy="493.7" r="10.9"/><circle cx="1205.1" cy="485.2" r="10.9"/><circle cx="1221.4" cy="509.7" r="10.9"/><circle cx="1203.5" cy="493.1" r="10.9"/><circle cx="1233.8" cy="511.3" r="10.9"/><circle cx="1207.4" cy="479.2" r="10.9"/><circle cx="1239.8" cy="511.6" r="10.9"/><circle cx="1219.8" cy="476.5" r="10.9"/><circle cx="1239.1" cy="489.2" r="10.9"/><circle cx="1238.1" cy="498.1" r="10.9"/><circle cx="1234.6" cy="480.5" r="10.9"/><circle cx="1233" cy="482.9" r="10.9"/><circle cx="1216.4" cy="506.7" r="10.9"/><circle cx="1234.8" cy="481.4" r="10.9"/><circle cx="1208.3" cy="489.7" r="10.9"/><circle cx="1342.3" cy="472.6" r="10.9"/><circle cx="1324.7" cy="468" r="10.9"/><circle cx="1351.5" cy="490" r="10.9"/><circle cx="1321.1" cy="478.7" r="10.9"/><circle cx="1352.9" cy="460.9" r="10.9"/><circle cx="1356.5" cy="463.6" r="10.9"/><circle cx="1345.9" cy="478.2" r="10.9"/><circle cx="1347.1" cy="470" r="10.9"/><circle cx="1337.9" cy="479.3" r="10.9"/><circle cx="1338.2" cy="481.9" r="10.9"/><circle cx="1339.1" cy="474.4" r="10.9"/><circle cx="1320.3" cy="480.6" r="10.9"/><circle cx="1341" cy="467.6" r="10.9"/><circle cx="1353.2" cy="486" r="10.9"/><circle cx="1339.6" cy="465.7" r="10.9"/><circle cx="1340.3" cy="463.2" r="10.9"/><circle cx="1446.3" cy="474.2" r="10.9"/><circle cx="1444.8" cy="474.6" r="10.9"/><circle cx="1461.7" cy="461" r="10.9"/><circle cx="1466.8" cy="462.4" r="10.9"/><circle cx="1470.7" cy="486" r="10.9"/><circle cx="1461.7" cy="461.4" r="10.9"/><circle cx="1461.4" cy="472.4" r="10.9"/><circle cx="1479.4" cy="464.2" r="10.9"/><circle cx="1475.7" cy="493.4" r="10.9"/><circle cx="1470.6" cy="487.2" r="10.9"/><circle cx="1448.9" cy="492.9" r="10.9"/><circle cx="1460.9" cy="492" r="10.9"/><circle cx="1478" cy="465.2" r="10.9"/><circle cx="1472.9" cy="491.1" r="10.9"/><circle cx="1443.8" cy="471.5" r="10.9"/><circle cx="1592.7" cy="465" r="10.9"/><circle cx="1598.8" cy="468.9" r="10.9"/><circle cx="1595.3" cy="464.4" r="10.9"/><circle cx="1581.7" cy="490.8" r="10.9"/><circle cx="1568.9" cy="468.5" r="10.9"/><circle cx="1581.8" cy="470.4" r="10.9"/><circle cx="1561.5" cy="465.8" r="10.9"/><circle cx="1566.9" cy="491.3" r="10.9"/><circle cx="1589.4" cy="489.9" r="10.9"/><circle cx="1567.2" cy="486.2" r="10.9"/><circle cx="1564.9" cy="477.6" r="10.9"/><circle cx="1587.5" cy="471.8" r="10.9"/><circle cx="1597.8" cy="478.4" r="10.9"/><circle cx="1585.1" cy="489.5" r="10.9"/><circle cx="1564.4" cy="493.3" r="10.9"/><circle cx="1587.2" cy="472.9" r="10.9"/><circle cx="871.3" cy="165.8" r="10.9"/><circle cx="1115.9" cy="165.8" r="10.9"/></g>
<g fill="#bebebe"><rect x="239.4" y="537.9" width="50" height="208.2"/><circle cx="242.8" cy="541.2" r="10.9"/><circle cx="286.6" cy="542.1" r="10.9"/><circle cx="244" cy="547.9" r="10.9"/><circle cx="285" cy="546.1" r="10.9"/><circle cx="240.7" cy="550.9" r="10.9"/><circle cx="288.3" cy="551.6" r="10.9"/><circle cx="241" cy="559" r="10.9"/><circle cx="287.6" cy="558" r="10.9"/><circle cx="241.9" cy="561.2" r="10.9"/><circle cx="286.1" cy="561.6" r="10.9"/><circle cx="241.1" cy="567.7" r="10.9"/><circle cx="287.4" cy="569.1" r="10.9"/><circle cx="242.4" cy="572.3" r="10.9"/><circle cx="287.8" cy="571.7" r="10.9"/><circle cx="242.8" cy="577.9" r="10.9"/><circle cx="286.3" cy="577.9" r="10.9"/><circle cx="242.2" cy="583.8" r="10.9"/><circle cx="287.6" cy="582.6" r="10.9"/><circle cx="241.1" cy="588.6" r="10.9"/><circle cx="286.4" cy="590" r="10.9"/><circle cx="242.1" cy="592.8" r="10.9"/><circle cx="286.3" cy="594.3" r="10.9"/><circle cx="240.4" cy="599.9" r="10.9"/><circle cx="287.1" cy="598.4" r="10.9"/><circle cx="242.8" cy="604.7" r="10.9"/><circle cx="287.6" cy="603.9" r="10.9"/><circle cx="241" cy="609.3" r="10.9"/><circle cx="288.6" cy="610.2" r="10.9"/><circle cx="242.1" cy="615.9" r="10.9"/><circle cx="286.1" cy="614.8" r="10.9"/><circle cx="241.7" cy="619.1" r="10.9"/><circle cx="286.2" cy="620.7" r="10.9"/><circle cx="242.8" cy="625.3" r="10.9"/><circle cx="288.6" cy="624" r="10.9"/><circle cx="242.2" cy="630.6" r="10.9"/><circle cx="287.4" cy="630.7" r="10.9"/><circle cx="240.5" cy="634.5" r="10.9"/><circle cx="286.9" cy="634.9" r="10.9"/><circle cx="242.7" cy="641.9" r="10.9"/><circle cx="288.2" cy="641.3" r="10.9"/><circle cx="242.8" cy="646.9" r="10.9"/><circle cx="288.1" cy="645.8" r="10.9"/><circle cx="240.7" cy="651" r="10.9"/><circle cx="286.6" cy="649.9" r="10.9"/><circle cx="242.1" cy="654.9" r="10.9"/><circle cx="286.9" cy="657" r="10.9"/><circle cx="240.9" cy="662.5" r="10.9"/><circle cx="288" cy="660.8" r="10.9"/><circle cx="241.2" cy="666.5" r="10.9"/><circle cx="288.2" cy="666.8" r="10.9"/><circle cx="242.1" cy="672.3" r="10.9"/><circle cx="288.7" cy="671.1" r="10.9"/><circle cx="240.3" cy="675.6" r="10.9"/><circle cx="286.7" cy="676.3" r="10.9"/><circle cx="240.7" cy="683.6" r="10.9"/><circle cx="288.1" cy="681.8" r="10.9"/><circle cx="240.3" cy="687" r="10.9"/><circle cx="286.7" cy="688.7" r="10.9"/><circle cx="241" cy="693.3" r="10.9"/><circle cx="287.9" cy="694.1" r="10.9"/><circle cx="241.5" cy="698.9" r="10.9"/><circle cx="288" cy="699" r="10.9"/><circle cx="241.6" cy="703.8" r="10.9"/><circle cx="287.6" cy="702.5" r="10.9"/><circle cx="242.2" cy="708.7" r="10.9"/><circle cx="286.2" cy="709.5" r="10.9"/><circle cx="242.4" cy="712.1" r="10.9"/><circle cx="286.3" cy="714.8" r="10.9"/><circle cx="241.8" cy="717.6" r="10.9"/><circle cx="286.1" cy="717.3" r="10.9"/><circle cx="240.9" cy="724.3" r="10.9"/><circle cx="288" cy="724.6" r="10.9"/><circle cx="242.8" cy="729.4" r="10.9"/><circle cx="286.8" cy="730.1" r="10.9"/><circle cx="242" cy="735.5" r="10.9"/><circle cx="284.7" cy="735.4" r="10.9"/><circle cx="244.3" cy="740.8" r="10.9"/><circle cx="282.3" cy="738.6" r="10.9"/><circle cx="250.3" cy="743.3" r="10.9"/><circle cx="280.6" cy="745.6" r="10.9"/><circle cx="244.9" cy="545.9" r="10.9"/><circle cx="254.9" cy="542.6" r="10.9"/><circle cx="262.8" cy="541.5" r="10.9"/><circle cx="275.4" cy="542.1" r="10.9"/><circle cx="283.7" cy="543.4" r="10.9"/><circle cx="249.5" cy="744.1" r="10.9"/><circle cx="259.5" cy="746" r="10.9"/><circle cx="268.9" cy="744.4" r="10.9"/><circle cx="280.3" cy="745.1" r="10.9"/><circle cx="274.7" cy="757.8" r="10.9"/><circle cx="257" cy="752" r="10.9"/><circle cx="268" cy="754" r="10.9"/><rect x="359.3" y="530.9" width="50" height="196.2"/><circle cx="362.5" cy="535.3" r="10.9"/><circle cx="403.8" cy="534.6" r="10.9"/><circle cx="363.7" cy="540.9" r="10.9"/><circle cx="404.7" cy="540.7" r="10.9"/><circle cx="361.2" cy="544.4" r="10.9"/><circle cx="408.3" cy="544.1" r="10.9"/><circle cx="360.4" cy="549.5" r="10.9"/><circle cx="405.9" cy="549.6" r="10.9"/><circle cx="360.6" cy="557.1" r="10.9"/><circle cx="405.9" cy="555.7" r="10.9"/><circle cx="361.3" cy="561.8" r="10.9"/><circle cx="406.4" cy="560.9" r="10.9"/><circle cx="361.7" cy="567.1" r="10.9"/><circle cx="406.6" cy="567.4" r="10.9"/><circle cx="361.9" cy="570.4" r="10.9"/><circle cx="407.9" cy="571.3" r="10.9"/><circle cx="362.4" cy="576.9" r="10.9"/><circle cx="406.1" cy="577.4" r="10.9"/><circle cx="360.7" cy="582.6" r="10.9"/><circle cx="407.7" cy="581.3" r="10.9"/><circle cx="361.6" cy="586.6" r="10.9"/><circle cx="408.4" cy="585.7" r="10.9"/><circle cx="360.2" cy="590.7" r="10.9"/><circle cx="406.5" cy="591.4" r="10.9"/><circle cx="360.2" cy="597.3" r="10.9"/><circle cx="407" cy="598.5" r="10.9"/><circle cx="362" cy="602.4" r="10.9"/><circle cx="407.4" cy="603.3" r="10.9"/><circle cx="360.6" cy="608.1" r="10.9"/><circle cx="406.9" cy="607.2" r="10.9"/><circle cx="362.3" cy="613.9" r="10.9"/><circle cx="407.8" cy="613.6" r="10.9"/><circle cx="362.2" cy="617.9" r="10.9"/><circle cx="408.1" cy="618.3" r="10.9"/><circle cx="362.3" cy="623.2" r="10.9"/><circle cx="408.4" cy="622.5" r="10.9"/><circle cx="362.2" cy="627.9" r="10.9"/><circle cx="407.9" cy="629.5" r="10.9"/><circle cx="362.3" cy="632.7" r="10.9"/><circle cx="406.6" cy="633.2" r="10.9"/><circle cx="361.2" cy="637.9" r="10.9"/><circle cx="406.8" cy="638" r="10.9"/><circle cx="360" cy="644.8" r="10.9"/><circle cx="406.2" cy="645.5" r="10.9"/><circle cx="362.4" cy="649" r="10.9"/><circle cx="408.7" cy="650.2" r="10.9"/><circle cx="360.6" cy="654.3" r="10.9"/><circle cx="406.4" cy="654.9" r="10.9"/><circle cx="362.4" cy="658.8" r="10.9"/><circle cx="407" cy="658.3" r="10.9"/><circle cx="361.6" cy="665.8" r="10.9"/><circle cx="407.8" cy="664.9" r="10.9"/><circle cx="360.9" cy="670" r="10.9"/><circle cx="406.3" cy="670.4" r="10.9"/><circle cx="361.6" cy="676" r="10.9"/><circle cx="408.4" cy="675.1" r="10.9"/><circle cx="361.1" cy="681.2" r="10.9"/><circle cx="407.1" cy="679.7" r="10.9"/><circle cx="360.7" cy="686.8" r="10.9"/><circle cx="408.1" cy="686.3" r="10.9"/><circle cx="360.3" cy="691.4" r="10.9"/><circle cx="407.7" cy="690.8" r="10.9"/><circle cx="361.8" cy="696.5" r="10.9"/><circle cx="406.2" cy="695.9" r="10.9"/><circle cx="360.5" cy="701.9" r="10.9"/><circle cx="407.7" cy="700.6" r="10.9"/><circle cx="361.5" cy="706.4" r="10.9"/><circle cx="407.6" cy="706.2" r="10.9"/><circle cx="361.3" cy="713" r="10.9"/><circle cx="405.9" cy="712.2" r="10.9"/><circle cx="362.7" cy="716.6" r="10.9"/><circle cx="405.1" cy="718.3" r="10.9"/><circle cx="367.7" cy="722.2" r="10.9"/><circle cx="401.3" cy="722.9" r="10.9"/><circle cx="366.1" cy="537" r="10.9"/><circle cx="372.7" cy="537.3" r="10.9"/><circle cx="384.5" cy="538.2" r="10.9"/><circle cx="394.3" cy="537.7" r="10.9"/><circle cx="405.6" cy="537" r="10.9"/><circle cx="370.9" cy="727.9" r="10.9"/><circle cx="379.1" cy="726.8" r="10.9"/><circle cx="388.9" cy="727.2" r="10.9"/><circle cx="396.8" cy="728" r="10.9"/><circle cx="369" cy="738.7" r="10.9"/><circle cx="401.2" cy="732.7" r="10.9"/><rect x="478.9" y="516.4" width="50" height="205.7"/><circle cx="483.5" cy="519.1" r="10.9"/><circle cx="524.1" cy="520.1" r="10.9"/><circle cx="484.5" cy="525.4" r="10.9"/><circle cx="524.5" cy="526.2" r="10.9"/><circle cx="481.3" cy="530.1" r="10.9"/><circle cx="526.1" cy="531.5" r="10.9"/><circle cx="479.7" cy="536.1" r="10.9"/><circle cx="526.1" cy="536.9" r="10.9"/><circle cx="481.2" cy="540.3" r="10.9"/><circle cx="525.9" cy="542" r="10.9"/><circle cx="480" cy="546.8" r="10.9"/><circle cx="526.8" cy="546.6" r="10.9"/><circle cx="481.7" cy="553" r="10.9"/><circle cx="526.5" cy="552" r="10.9"/><circle cx="480" cy="557.7" r="10.9"/><circle cx="526.8" cy="556.2" r="10.9"/><circle cx="480.8" cy="560.9" r="10.9"/><circle cx="527.8" cy="561.6" r="10.9"/><circle cx="479.9" cy="566.5" r="10.9"/><circle cx="526.6" cy="566.5" r="10.9"/><circle cx="481.1" cy="571.5" r="10.9"/><circle cx="525.5" cy="573.1" r="10.9"/><circle cx="481.5" cy="576.8" r="10.9"/><circle cx="526.3" cy="577.5" r="10.9"/><circle cx="481.1" cy="583.2" r="10.9"/><circle cx="527.3" cy="582.4" r="10.9"/><circle cx="479.7" cy="589.1" r="10.9"/><circle cx="525.7" cy="589" r="10.9"/><circle cx="479.8" cy="594.1" r="10.9"/><circle cx="525.9" cy="594.2" r="10.9"/><circle cx="480.5" cy="596.9" r="10.9"/><circle cx="525.5" cy="599.8" r="10.9"/><circle cx="480.5" cy="602.9" r="10.9"/><circle cx="525.8" cy="602.5" r="10.9"/><circle cx="481.6" cy="609.6" r="10.9"/><circle cx="526.5" cy="607.8" r="10.9"/><circle cx="479.8" cy="614.9" r="10.9"/><circle cx="526" cy="615.2" r="10.9"/><circle cx="480.6" cy="620" r="10.9"/><circle cx="527.4" cy="620.4" r="10.9"/><circle cx="480.1" cy="625.4" r="10.9"/><circle cx="526.1" cy="625" r="10.9"/><circle cx="480.8" cy="630.3" r="10.9"/><circle cx="526.7" cy="630.7" r="10.9"/><circle cx="480.7" cy="634.1" r="10.9"/><circle cx="526.2" cy="633.7" r="10.9"/><circle cx="480.9" cy="638.7" r="10.9"/><circle cx="526.8" cy="638.9" r="10.9"/><circle cx="480.9" cy="645.2" r="10.9"/><circle cx="527" cy="646.3" r="10.9"/><circle cx="482.3" cy="651.4" r="10.9"/><circle cx="526.8" cy="650.6" r="10.9"/><circle cx="480.4" cy="656.6" r="10.9"/><circle cx="526.5" cy="655.4" r="10.9"/><circle cx="479.6" cy="659.5" r="10.9"/><circle cx="527.3" cy="661.2" r="10.9"/><circle cx="482.2" cy="666.3" r="10.9"/><circle cx="527.4" cy="667.3" r="10.9"/><circle cx="481.4" cy="672.6" r="10.9"/><circle cx="526.9" cy="671.2" r="10.9"/><circle cx="479.8" cy="675" r="10.9"/><circle cx="527.5" cy="676.8" r="10.9"/><circle cx="481.4" cy="682.7" r="10.9"/><circle cx="526.5" cy="681.5" r="10.9"/><circle cx="480.8" cy="687.6" r="10.9"/><circle cx="526.1" cy="686.6" r="10.9"/><circle cx="481.1" cy="692.2" r="10.9"/><circle cx="527.8" cy="691.4" r="10.9"/><circle cx="480" cy="696.9" r="10.9"/><circle cx="526.9" cy="696.5" r="10.9"/><circle cx="480.9" cy="703.8" r="10.9"/><circle cx="527.3" cy="703.3" r="10.9"/><circle cx="482.1" cy="707.1" r="10.9"/><circle cx="525.7" cy="707.9" r="10.9"/><circle cx="483.1" cy="713.7" r="10.9"/><circle cx="523" cy="713.5" r="10.9"/><circle cx="485.5" cy="718.1" r="10.9"/><circle cx="520" cy="717.4" r="10.9"/><circle cx="481.9" cy="520.5" r="10.9"/><circle cx="495.6" cy="523.1" r="10.9"/><circle cx="504.5" cy="524.1" r="10.9"/><circle cx="515.5" cy="523.1" r="10.9"/><circle cx="524.4" cy="523.2" r="10.9"/><circle cx="491.7" cy="721.5" r="10.9"/><circle cx="500.6" cy="720" r="10.9"/><circle cx="509.6" cy="720.9" r="10.9"/><circle cx="519" cy="719.5" r="10.9"/><circle cx="502.7" cy="749.4" r="10.9"/><circle cx="480" cy="720.8" r="10.9"/><circle cx="523" cy="730.3" r="10.9"/><rect x="598.2" y="528.4" width="50" height="192.7"/><circle cx="603.3" cy="531" r="10.9"/><circle cx="644.8" cy="533.6" r="10.9"/><circle cx="602" cy="537.2" r="10.9"/><circle cx="644.9" cy="538.5" r="10.9"/><circle cx="600" cy="542.1" r="10.9"/><circle cx="645.6" cy="542.6" r="10.9"/><circle cx="600.7" cy="547.8" r="10.9"/><circle cx="646.6" cy="549.3" r="10.9"/><circle cx="601.4" cy="553.4" r="10.9"/><circle cx="644.9" cy="552.1" r="10.9"/><circle cx="599.3" cy="558.6" r="10.9"/><circle cx="647.4" cy="558.2" r="10.9"/><circle cx="601.6" cy="563.3" r="10.9"/><circle cx="646.5" cy="564.9" r="10.9"/><circle cx="598.9" cy="568.7" r="10.9"/><circle cx="646" cy="567.6" r="10.9"/><circle cx="599.8" cy="573.1" r="10.9"/><circle cx="645.2" cy="572.5" r="10.9"/><circle cx="601.6" cy="579.8" r="10.9"/><circle cx="645.1" cy="580.6" r="10.9"/><circle cx="601.4" cy="585.5" r="10.9"/><circle cx="645.2" cy="583" r="10.9"/><circle cx="599.6" cy="588.8" r="10.9"/><circle cx="646.9" cy="588.7" r="10.9"/><circle cx="601.5" cy="595.6" r="10.9"/><circle cx="646.8" cy="595.9" r="10.9"/><circle cx="599.6" cy="598.8" r="10.9"/><circle cx="646.6" cy="600.6" r="10.9"/><circle cx="600.3" cy="606.5" r="10.9"/><circle cx="645.5" cy="606.6" r="10.9"/><circle cx="599.6" cy="608.9" r="10.9"/><circle cx="644.8" cy="610.9" r="10.9"/><circle cx="599.3" cy="614.3" r="10.9"/><circle cx="645.7" cy="616.3" r="10.9"/><circle cx="601.1" cy="621.9" r="10.9"/><circle cx="646.2" cy="619.5" r="10.9"/><circle cx="600.6" cy="626.2" r="10.9"/><circle cx="646" cy="626.5" r="10.9"/><circle cx="601.2" cy="632.1" r="10.9"/><circle cx="645.8" cy="631.6" r="10.9"/><circle cx="599.8" cy="636.2" r="10.9"/><circle cx="645.9" cy="637.3" r="10.9"/><circle cx="599" cy="642.5" r="10.9"/><circle cx="646.4" cy="641" r="10.9"/><circle cx="601.4" cy="648.2" r="10.9"/><circle cx="646.8" cy="647.8" r="10.9"/><circle cx="600.7" cy="652.3" r="10.9"/><circle cx="647.5" cy="653" r="10.9"/><circle cx="599.9" cy="656.6" r="10.9"/><circle cx="646" cy="658.4" r="10.9"/><circle cx="600.5" cy="663" r="10.9"/><circle cx="646.5" cy="663.6" r="10.9"/><circle cx="599.3" cy="666.9" r="10.9"/><circle cx="644.8" cy="666.9" r="10.9"/><circle cx="600.4" cy="673.1" r="10.9"/><circle cx="647.1" cy="674" r="10.9"/><circle cx="601.5" cy="679" r="10.9"/><circle cx="647.1" cy="679.1" r="10.9"/><circle cx="600" cy="682.5" r="10.9"/><circle cx="647.2" cy="684.1" r="10.9"/><circle cx="599.7" cy="689.6" r="10.9"/><circle cx="645.8" cy="687.2" r="10.9"/><circle cx="600" cy="694.5" r="10.9"/><circle cx="645.4" cy="694.4" r="10.9"/><circle cx="599" cy="698" r="10.9"/><circle cx="646.5" cy="699.3" r="10.9"/><circle cx="600.5" cy="703.1" r="10.9"/><circle cx="645.3" cy="704.8" r="10.9"/><circle cx="600.9" cy="709.1" r="10.9"/><circle cx="643.6" cy="710.1" r="10.9"/><circle cx="603.4" cy="713.6" r="10.9"/><circle cx="642.4" cy="715.6" r="10.9"/><circle cx="606.8" cy="719.7" r="10.9"/><circle cx="638.4" cy="719.9" r="10.9"/><circle cx="602" cy="532.6" r="10.9"/><circle cx="611.9" cy="535.6" r="10.9"/><circle cx="622.7" cy="534.8" r="10.9"/><circle cx="632.8" cy="534.5" r="10.9"/><circle cx="641.8" cy="531.7" r="10.9"/><circle cx="612.2" cy="719.6" r="10.9"/><circle cx="617.6" cy="720.6" r="10.9"/><circle cx="629.3" cy="718.7" r="10.9"/><circle cx="637.6" cy="719.5" r="10.9"/><circle cx="633.5" cy="745.4" r="10.9"/><circle cx="642.3" cy="726.7" r="10.9"/><rect x="718.3" y="513.9" width="50" height="203.2"/><circle cx="722.4" cy="516.5" r="10.9"/><circle cx="762.8" cy="519.4" r="10.9"/><circle cx="721.5" cy="523.1" r="10.9"/><circle cx="764.3" cy="522.4" r="10.9"/><circle cx="719.5" cy="528.1" r="10.9"/><circle cx="767.6" cy="529.1" r="10.9"/><circle cx="719.4" cy="534.9" r="10.9"/><circle cx="765.6" cy="532.1" r="10.9"/><circle cx="721.1" cy="537.7" r="10.9"/><circle cx="765.1" cy="537.4" r="10.9"/><circle cx="720.1" cy="545" r="10.9"/><circle cx="766.2" cy="545.2" r="10.9"/><circle cx="719.2" cy="547.8" r="10.9"/><circle cx="766.6" cy="548.8" r="10.9"/><circle cx="721.4" cy="555.7" r="10.9"/><circle cx="765.6" cy="554.5" r="10.9"/><circle cx="719.9" cy="560.9" r="10.9"/><circle cx="766.8" cy="559.2" r="10.9"/><circle cx="720.4" cy="563.7" r="10.9"/><circle cx="767.6" cy="566.2" r="10.9"/><circle cx="721.1" cy="568.5" r="10.9"/><circle cx="765.6" cy="569.5" r="10.9"/><circle cx="719.2" cy="576.3" r="10.9"/><circle cx="767.2" cy="573.7" r="10.9"/><circle cx="719.5" cy="580.9" r="10.9"/><circle cx="766.7" cy="581.8" r="10.9"/><circle cx="721.5" cy="584.4" r="10.9"/><circle cx="767" cy="586.8" r="10.9"/><circle cx="719.8" cy="590.1" r="10.9"/><circle cx="766.6" cy="591.5" r="10.9"/><circle cx="721.4" cy="595.4" r="10.9"/><circle cx="765.6" cy="594.8" r="10.9"/><circle cx="720.4" cy="600.1" r="10.9"/><circle cx="765.6" cy="600" r="10.9"/><circle cx="719.8" cy="604.8" r="10.9"/><circle cx="766.9" cy="605.4" r="10.9"/><circle cx="721.6" cy="612.8" r="10.9"/><circle cx="765.5" cy="612.8" r="10.9"/><circle cx="719.3" cy="617.9" r="10.9"/><circle cx="765.3" cy="616.5" r="10.9"/><circle cx="721.4" cy="623.2" r="10.9"/><circle cx="767.3" cy="622.3" r="10.9"/><circle cx="720.4" cy="626.6" r="10.9"/><circle cx="767.2" cy="627" r="10.9"/><circle cx="719.9" cy="631.2" r="10.9"/><circle cx="765.5" cy="631" r="10.9"/><circle cx="719.7" cy="637.7" r="10.9"/><circle cx="765.3" cy="638.6" r="10.9"/><circle cx="721" cy="642.4" r="10.9"/><circle cx="765.3" cy="642" r="10.9"/><circle cx="719.3" cy="647.4" r="10.9"/><circle cx="765.4" cy="647.9" r="10.9"/><circle cx="720.8" cy="654.3" r="10.9"/><circle cx="765.2" cy="654.5" r="10.9"/><circle cx="721.5" cy="659.5" r="10.9"/><circle cx="766.8" cy="657.4" r="10.9"/><circle cx="720.4" cy="662.9" r="10.9"/><circle cx="765.6" cy="662.6" r="10.9"/><circle cx="720.7" cy="670.2" r="10.9"/><circle cx="767.7" cy="670" r="10.9"/><circle cx="721.4" cy="673.3" r="10.9"/><circle cx="767.4" cy="672.6" r="10.9"/><circle cx="719.7" cy="678.5" r="10.9"/><circle cx="767.6" cy="677.6" r="10.9"/><circle cx="719.4" cy="683.8" r="10.9"/><circle cx="765.3" cy="682.8" r="10.9"/><circle cx="719.4" cy="689.6" r="10.9"/><circle cx="765.4" cy="689.3" r="10.9"/><circle cx="719.1" cy="693.9" r="10.9"/><circle cx="766.5" cy="693.6" r="10.9"/><circle cx="721.4" cy="700.7" r="10.9"/><circle cx="766.7" cy="699" r="10.9"/><circle cx="722.9" cy="703.9" r="10.9"/><circle cx="765.2" cy="705.1" r="10.9"/><circle cx="724.9" cy="709.4" r="10.9"/><circle cx="762.7" cy="710.9" r="10.9"/><circle cx="727" cy="715.7" r="10.9"/><circle cx="757.8" cy="714.2" r="10.9"/><circle cx="724.2" cy="519.3" r="10.9"/><circle cx="734.2" cy="517.2" r="10.9"/><circle cx="744.5" cy="518.9" r="10.9"/><circle cx="754.7" cy="522.1" r="10.9"/><circle cx="763.3" cy="517" r="10.9"/><circle cx="731.9" cy="716" r="10.9"/><circle cx="740.8" cy="715.2" r="10.9"/><circle cx="747" cy="717.4" r="10.9"/><circle cx="756.8" cy="714.8" r="10.9"/><circle cx="738" cy="736.3" r="10.9"/><circle cx="753.5" cy="737.5" r="10.9"/><rect x="837.7" y="518.9" width="50" height="194.2"/><circle cx="842.3" cy="523.2" r="10.9"/><circle cx="882.1" cy="523" r="10.9"/><circle cx="842.1" cy="528.1" r="10.9"/><circle cx="882.4" cy="528.7" r="10.9"/><circle cx="838.8" cy="534.4" r="10.9"/><circle cx="885.2" cy="533.9" r="10.9"/><circle cx="840" cy="539.3" r="10.9"/><circle cx="884.5" cy="539.6" r="10.9"/><circle cx="838.4" cy="543.7" r="10.9"/><circle cx="885.7" cy="543.8" r="10.9"/><circle cx="839.6" cy="547.5" r="10.9"/><circle cx="887" cy="548.1" r="10.9"/><circle cx="840.6" cy="552.9" r="10.9"/><circle cx="885" cy="555.1" r="10.9"/><circle cx="841" cy="558.1" r="10.9"/><circle cx="886.3" cy="558.4" r="10.9"/><circle cx="841.1" cy="564.8" r="10.9"/><circle cx="885.9" cy="564.6" r="10.9"/><circle cx="839.1" cy="568.5" r="10.9"/><circle cx="886.7" cy="570.4" r="10.9"/><circle cx="841" cy="573.8" r="10.9"/><circle cx="885.7" cy="574.9" r="10.9"/><circle cx="840.3" cy="579" r="10.9"/><circle cx="885.4" cy="579" r="10.9"/><circle cx="839.4" cy="586.4" r="10.9"/><circle cx="884.7" cy="585.5" r="10.9"/><circle cx="839" cy="589.5" r="10.9"/><circle cx="886.6" cy="591.8" r="10.9"/><circle cx="840" cy="595.5" r="10.9"/><circle cx="886.7" cy="595.8" r="10.9"/><circle cx="840" cy="602.2" r="10.9"/><circle cx="886.5" cy="600.4" r="10.9"/><circle cx="840.4" cy="605.6" r="10.9"/><circle cx="885.5" cy="607.5" r="10.9"/><circle cx="838.8" cy="612.5" r="10.9"/><circle cx="886.6" cy="612.3" r="10.9"/><circle cx="841" cy="616.6" r="10.9"/><circle cx="887" cy="617.8" r="10.9"/><circle cx="840.4" cy="621.5" r="10.9"/><circle cx="886.1" cy="621.3" r="10.9"/><circle cx="839.6" cy="625.6" r="10.9"/><circle cx="885.5" cy="626.9" r="10.9"/><circle cx="841" cy="631" r="10.9"/><circle cx="887" cy="632.9" r="10.9"/><circle cx="838.5" cy="637.7" r="10.9"/><circle cx="886.6" cy="638.5" r="10.9"/><circle cx="838.6" cy="641.1" r="10.9"/><circle cx="886.1" cy="641.8" r="10.9"/><circle cx="839.2" cy="647" r="10.9"/><circle cx="885.8" cy="649" r="10.9"/><circle cx="839.4" cy="652.2" r="10.9"/><circle cx="885.8" cy="652.7" r="10.9"/><circle cx="838.4" cy="657.5" r="10.9"/><circle cx="885.2" cy="658.5" r="10.9"/><circle cx="840.8" cy="663.6" r="10.9"/><circle cx="887" cy="663.3" r="10.9"/><circle cx="840.3" cy="668.4" r="10.9"/><circle cx="885.8" cy="667.4" r="10.9"/><circle cx="840.8" cy="672.6" r="10.9"/><circle cx="885.1" cy="673.4" r="10.9"/><circle cx="840.3" cy="678.1" r="10.9"/><circle cx="884.5" cy="679" r="10.9"/><circle cx="838.7" cy="684.4" r="10.9"/><circle cx="885.9" cy="684.6" r="10.9"/><circle cx="840.5" cy="689.9" r="10.9"/><circle cx="885.6" cy="689.4" r="10.9"/><circle cx="839.4" cy="694.4" r="10.9"/><circle cx="885.1" cy="693.7" r="10.9"/><circle cx="841.5" cy="699.7" r="10.9"/><circle cx="884.4" cy="700" r="10.9"/><circle cx="844.2" cy="704.5" r="10.9"/><circle cx="883.6" cy="704.1" r="10.9"/><circle cx="846" cy="710.1" r="10.9"/><circle cx="878.6" cy="711.6" r="10.9"/><circle cx="841.9" cy="526.5" r="10.9"/><circle cx="851.3" cy="522.3" r="10.9"/><circle cx="864.2" cy="524.5" r="10.9"/><circle cx="870.9" cy="524.2" r="10.9"/><circle cx="882.5" cy="526.3" r="10.9"/><circle cx="848.1" cy="711" r="10.9"/><circle cx="860.5" cy="713.1" r="10.9"/><circle cx="866.3" cy="711.4" r="10.9"/><circle cx="876.1" cy="712.8" r="10.9"/><circle cx="844.2" cy="716.7" r="10.9"/><circle cx="856.2" cy="739.4" r="10.9"/><circle cx="878.8" cy="729.1" r="10.9"/><circle cx="886" cy="726.7" r="10.9"/><rect x="957.4" y="518.9" width="50" height="187.2"/><circle cx="961.3" cy="523.9" r="10.9"/><circle cx="1004.1" cy="523" r="10.9"/><circle cx="960.9" cy="528.8" r="10.9"/><circle cx="1003.9" cy="528" r="10.9"/><circle cx="958.6" cy="533.9" r="10.9"/><circle cx="1006.6" cy="532.2" r="10.9"/><circle cx="958.4" cy="537" r="10.9"/><circle cx="1006.1" cy="538.8" r="10.9"/><circle cx="959.4" cy="545.1" r="10.9"/><circle cx="1005.6" cy="543.5" r="10.9"/><circle cx="958.6" cy="550" r="10.9"/><circle cx="1005.7" cy="548.5" r="10.9"/><circle cx="959.5" cy="554" r="10.9"/><circle cx="1006" cy="553.5" r="10.9"/><circle cx="959.7" cy="559.5" r="10.9"/><circle cx="1005.1" cy="558.8" r="10.9"/><circle cx="958.6" cy="565.5" r="10.9"/><circle cx="1005.4" cy="564.3" r="10.9"/><circle cx="960.3" cy="569.1" r="10.9"/><circle cx="1004.4" cy="569.9" r="10.9"/><circle cx="959.2" cy="573.7" r="10.9"/><circle cx="1006.6" cy="574.4" r="10.9"/><circle cx="958.4" cy="581.1" r="10.9"/><circle cx="1006.7" cy="579.2" r="10.9"/><circle cx="959.6" cy="586.5" r="10.9"/><circle cx="1004" cy="583.9" r="10.9"/><circle cx="959.2" cy="590.5" r="10.9"/><circle cx="1006.6" cy="591.3" r="10.9"/><circle cx="959.3" cy="597.2" r="10.9"/><circle cx="1005.4" cy="595.8" r="10.9"/><circle cx="958.9" cy="600.6" r="10.9"/><circle cx="1005" cy="601.2" r="10.9"/><circle cx="959.8" cy="607.4" r="10.9"/><circle cx="1005.9" cy="606.2" r="10.9"/><circle cx="960.5" cy="610.9" r="10.9"/><circle cx="1005.1" cy="611.5" r="10.9"/><circle cx="959.2" cy="617.6" r="10.9"/><circle cx="1006.7" cy="616.5" r="10.9"/><circle cx="959.6" cy="622.1" r="10.9"/><circle cx="1006.8" cy="621.2" r="10.9"/><circle cx="959.3" cy="627.8" r="10.9"/><circle cx="1004.5" cy="626.4" r="10.9"/><circle cx="958.1" cy="633.1" r="10.9"/><circle cx="1005.4" cy="630.9" r="10.9"/><circle cx="958.3" cy="637.9" r="10.9"/><circle cx="1006.3" cy="638.8" r="10.9"/><circle cx="958.3" cy="642.3" r="10.9"/><circle cx="1004.4" cy="641.9" r="10.9"/><circle cx="959.4" cy="647.7" r="10.9"/><circle cx="1004.5" cy="646.7" r="10.9"/><circle cx="959" cy="653.2" r="10.9"/><circle cx="1005" cy="654.4" r="10.9"/><circle cx="959" cy="656.7" r="10.9"/><circle cx="1005.2" cy="659" r="10.9"/><circle cx="959.9" cy="663.9" r="10.9"/><circle cx="1004" cy="662.7" r="10.9"/><circle cx="958.4" cy="668.8" r="10.9"/><circle cx="1005.9" cy="667.6" r="10.9"/><circle cx="959.4" cy="673.9" r="10.9"/><circle cx="1004.7" cy="674.1" r="10.9"/><circle cx="959.3" cy="680.4" r="10.9"/><circle cx="1005.6" cy="678.6" r="10.9"/><circle cx="960.5" cy="683.1" r="10.9"/><circle cx="1006.1" cy="682.9" r="10.9"/><circle cx="960.8" cy="688.3" r="10.9"/><circle cx="1005.2" cy="690.3" r="10.9"/><circle cx="960.7" cy="695.4" r="10.9"/><circle cx="1002.6" cy="693" r="10.9"/><circle cx="962.8" cy="699.2" r="10.9"/><circle cx="1001.8" cy="699.3" r="10.9"/><circle cx="968.3" cy="704.2" r="10.9"/><circle cx="996.3" cy="706.1" r="10.9"/><circle cx="962.7" cy="524" r="10.9"/><circle cx="972.2" cy="524.2" r="10.9"/><circle cx="980.6" cy="527.2" r="10.9"/><circle cx="992.7" cy="527.7" r="10.9"/><circle cx="1002.2" cy="525.6" r="10.9"/><circle cx="968.4" cy="703.3" r="10.9"/><circle cx="980.1" cy="706.5" r="10.9"/><circle cx="986.7" cy="706.7" r="10.9"/><circle cx="997.7" cy="704.3" r="10.9"/><circle cx="962.4" cy="710" r="10.9"/><circle cx="980.3" cy="712.4" r="10.9"/><circle cx="995.8" cy="718.4" r="10.9"/><circle cx="1005.3" cy="711.2" r="10.9"/><rect x="1077.2" y="511.9" width="50" height="203.2"/><circle cx="1081.1" cy="517.3" r="10.9"/><circle cx="1123" cy="517.2" r="10.9"/><circle cx="1082.1" cy="520.8" r="10.9"/><circle cx="1123.6" cy="520.3" r="10.9"/><circle cx="1079.7" cy="527.4" r="10.9"/><circle cx="1125.2" cy="527.2" r="10.9"/><circle cx="1079.9" cy="530.5" r="10.9"/><circle cx="1124.8" cy="530.6" r="10.9"/><circle cx="1077.9" cy="536.1" r="10.9"/><circle cx="1125.4" cy="535.5" r="10.9"/><circle cx="1079.1" cy="541.6" r="10.9"/><circle cx="1124.9" cy="540.6" r="10.9"/><circle cx="1080.3" cy="548.1" r="10.9"/><circle cx="1124.8" cy="546.3" r="10.9"/><circle cx="1080.1" cy="551.7" r="10.9"/><circle cx="1124.5" cy="550.9" r="10.9"/><circle cx="1078.7" cy="557" r="10.9"/><circle cx="1124.2" cy="558.1" r="10.9"/><circle cx="1080.3" cy="562" r="10.9"/><circle cx="1126.1" cy="561.6" r="10.9"/><circle cx="1079.4" cy="568.9" r="10.9"/><circle cx="1126.1" cy="566.9" r="10.9"/><circle cx="1079.6" cy="573.8" r="10.9"/><circle cx="1124.9" cy="574.5" r="10.9"/><circle cx="1080" cy="579.7" r="10.9"/><circle cx="1125.2" cy="577.5" r="10.9"/><circle cx="1079.3" cy="582.4" r="10.9"/><circle cx="1125.8" cy="582.8" r="10.9"/><circle cx="1078.1" cy="589" r="10.9"/><circle cx="1124.8" cy="587.9" r="10.9"/><circle cx="1078.9" cy="593" r="10.9"/><circle cx="1126.2" cy="592.8" r="10.9"/><circle cx="1079.2" cy="599.2" r="10.9"/><circle cx="1124.6" cy="599.9" r="10.9"/><circle cx="1079.5" cy="604.8" r="10.9"/><circle cx="1125.4" cy="603.7" r="10.9"/><circle cx="1079.5" cy="608.3" r="10.9"/><circle cx="1124.3" cy="610.6" r="10.9"/><circle cx="1079.7" cy="615.2" r="10.9"/><circle cx="1124.1" cy="614.9" r="10.9"/><circle cx="1079.6" cy="619.9" r="10.9"/><circle cx="1124.6" cy="618.6" r="10.9"/><circle cx="1079.7" cy="624.3" r="10.9"/><circle cx="1124.2" cy="625.8" r="10.9"/><circle cx="1079.8" cy="630" r="10.9"/><circle cx="1126.3" cy="631.1" r="10.9"/><circle cx="1078.1" cy="636.6" r="10.9"/><circle cx="1124.2" cy="634.8" r="10.9"/><circle cx="1080.5" cy="641.2" r="10.9"/><circle cx="1125.7" cy="640.3" r="10.9"/><circle cx="1079.4" cy="646.4" r="10.9"/><circle cx="1125.8" cy="645.1" r="10.9"/><circle cx="1078.2" cy="650.7" r="10.9"/><circle cx="1125.6" cy="650.1" r="10.9"/><circle cx="1080.3" cy="657.5" r="10.9"/><circle cx="1125.9" cy="656.9" r="10.9"/><circle cx="1080.5" cy="660.1" r="10.9"/><circle cx="1124.3" cy="660.6" r="10.9"/><circle cx="1079.8" cy="666.3" r="10.9"/><circle cx="1123.9" cy="666.1" r="10.9"/><circle cx="1078.8" cy="670.9" r="10.9"/><circle cx="1126.2" cy="672.1" r="10.9"/><circle cx="1078.6" cy="676.4" r="10.9"/><circle cx="1125" cy="677.7" r="10.9"/><circle cx="1079.6" cy="680.8" r="10.9"/><circle cx="1126.1" cy="683.1" r="10.9"/><circle cx="1079.8" cy="686.1" r="10.9"/><circle cx="1126.2" cy="687.8" r="10.9"/><circle cx="1080.5" cy="691.9" r="10.9"/><circle cx="1124.1" cy="693.6" r="10.9"/><circle cx="1080.2" cy="699.1" r="10.9"/><circle cx="1125.7" cy="696.7" r="10.9"/><circle cx="1080.1" cy="702.8" r="10.9"/><circle cx="1124.5" cy="704.1" r="10.9"/><circle cx="1083.7" cy="707.1" r="10.9"/><circle cx="1122.5" cy="708.1" r="10.9"/><circle cx="1085.6" cy="714.1" r="10.9"/><circle cx="1118.3" cy="714.5" r="10.9"/><circle cx="1082.7" cy="517.6" r="10.9"/><circle cx="1090.4" cy="519.1" r="10.9"/><circle cx="1101.9" cy="518" r="10.9"/><circle cx="1113.9" cy="515.7" r="10.9"/><circle cx="1123.2" cy="515.2" r="10.9"/><circle cx="1090" cy="715.3" r="10.9"/><circle cx="1097.2" cy="714.3" r="10.9"/><circle cx="1109.1" cy="714.7" r="10.9"/><circle cx="1116.4" cy="713.1" r="10.9"/><circle cx="1088.2" cy="739.9" r="10.9"/><circle cx="1092.5" cy="720.8" r="10.9"/><circle cx="1114" cy="723.2" r="10.9"/><rect x="1196.6" y="516.4" width="50" height="181.7"/><circle cx="1202" cy="520" r="10.9"/><circle cx="1242.2" cy="519.5" r="10.9"/><circle cx="1201.3" cy="524.5" r="10.9"/><circle cx="1243" cy="526.1" r="10.9"/><circle cx="1199.3" cy="530" r="10.9"/><circle cx="1244.6" cy="530.6" r="10.9"/><circle cx="1197.4" cy="535.6" r="10.9"/><circle cx="1244" cy="537.2" r="10.9"/><circle cx="1199.6" cy="541.4" r="10.9"/><circle cx="1244.1" cy="542.1" r="10.9"/><circle cx="1198.5" cy="547.2" r="10.9"/><circle cx="1243.7" cy="546.9" r="10.9"/><circle cx="1198.3" cy="551.5" r="10.9"/><circle cx="1245.3" cy="552.6" r="10.9"/><circle cx="1199.7" cy="556.2" r="10.9"/><circle cx="1244.2" cy="555.9" r="10.9"/><circle cx="1199.8" cy="561.3" r="10.9"/><circle cx="1243.8" cy="562.6" r="10.9"/><circle cx="1198.7" cy="566" r="10.9"/><circle cx="1244.1" cy="567.1" r="10.9"/><circle cx="1199" cy="571.4" r="10.9"/><circle cx="1243.4" cy="570.9" r="10.9"/><circle cx="1197.2" cy="578.4" r="10.9"/><circle cx="1243.4" cy="578.3" r="10.9"/><circle cx="1197.3" cy="583" r="10.9"/><circle cx="1243.5" cy="582.8" r="10.9"/><circle cx="1198.8" cy="587.1" r="10.9"/><circle cx="1244.7" cy="586.5" r="10.9"/><circle cx="1197.4" cy="593.6" r="10.9"/><circle cx="1245" cy="594.5" r="10.9"/><circle cx="1198.2" cy="597.7" r="10.9"/><circle cx="1243.9" cy="597.3" r="10.9"/><circle cx="1199.9" cy="604.4" r="10.9"/><circle cx="1245.6" cy="603" r="10.9"/><circle cx="1199.5" cy="609.2" r="10.9"/><circle cx="1245.6" cy="610.1" r="10.9"/><circle cx="1199.5" cy="614.9" r="10.9"/><circle cx="1245.5" cy="614.7" r="10.9"/><circle cx="1199.1" cy="618.3" r="10.9"/><circle cx="1245.5" cy="618.7" r="10.9"/><circle cx="1199" cy="624.6" r="10.9"/><circle cx="1244.2" cy="625.4" r="10.9"/><circle cx="1199.3" cy="628.2" r="10.9"/><circle cx="1244.8" cy="630" r="10.9"/><circle cx="1197.7" cy="635.4" r="10.9"/><circle cx="1245.7" cy="636.1" r="10.9"/><circle cx="1198.6" cy="640" r="10.9"/><circle cx="1243.6" cy="639.4" r="10.9"/><circle cx="1198.4" cy="643.9" r="10.9"/><circle cx="1245.1" cy="644.2" r="10.9"/><circle cx="1198.8" cy="651.8" r="10.9"/><circle cx="1243.5" cy="649" r="10.9"/><circle cx="1198.8" cy="654.7" r="10.9"/><circle cx="1245.2" cy="654.1" r="10.9"/><circle cx="1197.6" cy="661.9" r="10.9"/><circle cx="1245.4" cy="660.6" r="10.9"/><circle cx="1199.2" cy="666.5" r="10.9"/><circle cx="1244.6" cy="665.8" r="10.9"/><circle cx="1199.1" cy="671" r="10.9"/><circle cx="1245.1" cy="672.2" r="10.9"/><circle cx="1197.5" cy="675.4" r="10.9"/><circle cx="1244" cy="676.2" r="10.9"/><circle cx="1198.7" cy="681.1" r="10.9"/><circle cx="1243.5" cy="680.4" r="10.9"/><circle cx="1200.8" cy="686.7" r="10.9"/><circle cx="1244.2" cy="688" r="10.9"/><circle cx="1201.9" cy="693.4" r="10.9"/><circle cx="1241.5" cy="692.4" r="10.9"/><circle cx="1205.9" cy="695.9" r="10.9"/><circle cx="1236.9" cy="697.5" r="10.9"/><circle cx="1200.8" cy="522.8" r="10.9"/><circle cx="1213.4" cy="522.3" r="10.9"/><circle cx="1222.2" cy="521.2" r="10.9"/><circle cx="1231" cy="524.7" r="10.9"/><circle cx="1239.7" cy="520.5" r="10.9"/><circle cx="1209.3" cy="696.9" r="10.9"/><circle cx="1215.9" cy="697.7" r="10.9"/><circle cx="1226.1" cy="697.4" r="10.9"/><circle cx="1235.3" cy="697.2" r="10.9"/><circle cx="1213.2" cy="717.2" r="10.9"/><circle cx="1235.4" cy="712.4" r="10.9"/><circle cx="1198.9" cy="693.3" r="10.9"/><rect x="1316.4" y="500.4" width="50" height="195.7"/><circle cx="1320.4" cy="504.1" r="10.9"/><circle cx="1361.1" cy="503.4" r="10.9"/><circle cx="1319.5" cy="509.7" r="10.9"/><circle cx="1361.1" cy="510.7" r="10.9"/><circle cx="1319.1" cy="513.6" r="10.9"/><circle cx="1364.5" cy="514.1" r="10.9"/><circle cx="1318.4" cy="520.2" r="10.9"/><circle cx="1363.6" cy="520.2" r="10.9"/><circle cx="1319.5" cy="525.2" r="10.9"/><circle cx="1364.6" cy="523.9" r="10.9"/><circle cx="1318.7" cy="529.1" r="10.9"/><circle cx="1364.2" cy="531.5" r="10.9"/><circle cx="1318.3" cy="536.2" r="10.9"/><circle cx="1365.1" cy="534.4" r="10.9"/><circle cx="1317" cy="541.5" r="10.9"/><circle cx="1363.3" cy="541.8" r="10.9"/><circle cx="1318.7" cy="545" r="10.9"/><circle cx="1365.7" cy="546.2" r="10.9"/><circle cx="1317.6" cy="550.1" r="10.9"/><circle cx="1365.2" cy="549.9" r="10.9"/><circle cx="1319.1" cy="556" r="10.9"/><circle cx="1363" cy="556.7" r="10.9"/><circle cx="1319.2" cy="561" r="10.9"/><circle cx="1365" cy="561.4" r="10.9"/><circle cx="1317.3" cy="567.2" r="10.9"/><circle cx="1365.4" cy="567" r="10.9"/><circle cx="1317.2" cy="573.1" r="10.9"/><circle cx="1363.5" cy="572.7" r="10.9"/><circle cx="1318.8" cy="578" r="10.9"/><circle cx="1364.9" cy="578.2" r="10.9"/><circle cx="1319.5" cy="582" r="10.9"/><circle cx="1365.1" cy="583.7" r="10.9"/><circle cx="1317.8" cy="586.2" r="10.9"/><circle cx="1364.7" cy="586.4" r="10.9"/><circle cx="1318.3" cy="593.7" r="10.9"/><circle cx="1363.3" cy="594.1" r="10.9"/><circle cx="1317.9" cy="597.3" r="10.9"/><circle cx="1363.5" cy="597.8" r="10.9"/><circle cx="1317.5" cy="603.4" r="10.9"/><circle cx="1363.3" cy="601.8" r="10.9"/><circle cx="1319.5" cy="609.3" r="10.9"/><circle cx="1363.5" cy="608.6" r="10.9"/><circle cx="1319" cy="614.2" r="10.9"/><circle cx="1364.1" cy="612.5" r="10.9"/><circle cx="1317.3" cy="618.9" r="10.9"/><circle cx="1364.9" cy="619.7" r="10.9"/><circle cx="1317.1" cy="622.5" r="10.9"/><circle cx="1364" cy="623" r="10.9"/><circle cx="1318.4" cy="630.3" r="10.9"/><circle cx="1365.2" cy="627.8" r="10.9"/><circle cx="1319.3" cy="635.4" r="10.9"/><circle cx="1364.9" cy="634.1" r="10.9"/><circle cx="1318.5" cy="638.6" r="10.9"/><circle cx="1365.4" cy="639.3" r="10.9"/><circle cx="1317.4" cy="645.1" r="10.9"/><circle cx="1363.2" cy="644.3" r="10.9"/><circle cx="1319.2" cy="651.2" r="10.9"/><circle cx="1364.6" cy="648.6" r="10.9"/><circle cx="1319.3" cy="654.8" r="10.9"/><circle cx="1364.3" cy="655.4" r="10.9"/><circle cx="1318.7" cy="660" r="10.9"/><circle cx="1363" cy="660.6" r="10.9"/><circle cx="1318.9" cy="664.2" r="10.9"/><circle cx="1364.3" cy="667.1" r="10.9"/><circle cx="1319.7" cy="669.7" r="10.9"/><circle cx="1364.9" cy="670.1" r="10.9"/><circle cx="1319" cy="676" r="10.9"/><circle cx="1363.7" cy="676.2" r="10.9"/><circle cx="1318.9" cy="682.6" r="10.9"/><circle cx="1365.2" cy="679.8" r="10.9"/><circle cx="1320.6" cy="687.2" r="10.9"/><circle cx="1363.1" cy="687.2" r="10.9"/><circle cx="1323.4" cy="692" r="10.9"/><circle cx="1358.6" cy="690.9" r="10.9"/><circle cx="1322.6" cy="508.6" r="10.9"/><circle cx="1333.2" cy="507.5" r="10.9"/><circle cx="1340.6" cy="508" r="10.9"/><circle cx="1352.4" cy="506.5" r="10.9"/><circle cx="1361.9" cy="505.5" r="10.9"/><circle cx="1328.6" cy="694.7" r="10.9"/><circle cx="1335.6" cy="694.4" r="10.9"/><circle cx="1345.7" cy="697.1" r="10.9"/><circle cx="1355.3" cy="694.6" r="10.9"/><circle cx="1348.1" cy="747.7" r="10.9"/><circle cx="1362.4" cy="711.9" r="10.9"/><circle cx="1345.2" cy="711.2" r="10.9"/><rect x="1436" y="502.5" width="50" height="183.6"/><circle cx="1440.9" cy="505.7" r="10.9"/><circle cx="1481.4" cy="505.4" r="10.9"/><circle cx="1441.6" cy="512.8" r="10.9"/><circle cx="1481.7" cy="511.5" r="10.9"/><circle cx="1437.8" cy="516.3" r="10.9"/><circle cx="1483.1" cy="515.6" r="10.9"/><circle cx="1438.6" cy="521.5" r="10.9"/><circle cx="1484.6" cy="522.3" r="10.9"/><circle cx="1436.8" cy="526.8" r="10.9"/><circle cx="1485.2" cy="527.6" r="10.9"/><circle cx="1439.2" cy="531.5" r="10.9"/><circle cx="1484.2" cy="534" r="10.9"/><circle cx="1438.4" cy="538.5" r="10.9"/><circle cx="1483.8" cy="538.8" r="10.9"/><circle cx="1439.2" cy="542.9" r="10.9"/><circle cx="1485.1" cy="542.2" r="10.9"/><circle cx="1438.7" cy="546.7" r="10.9"/><circle cx="1483.1" cy="547.4" r="10.9"/><circle cx="1437.4" cy="552.5" r="10.9"/><circle cx="1483.7" cy="552.4" r="10.9"/><circle cx="1437.7" cy="559.6" r="10.9"/><circle cx="1484.4" cy="557.6" r="10.9"/><circle cx="1437.3" cy="565.1" r="10.9"/><circle cx="1484.3" cy="562.4" r="10.9"/><circle cx="1437.1" cy="570" r="10.9"/><circle cx="1483.6" cy="567.8" r="10.9"/><circle cx="1438.9" cy="574.2" r="10.9"/><circle cx="1485.1" cy="574.5" r="10.9"/><circle cx="1436.8" cy="578.4" r="10.9"/><circle cx="1483.5" cy="580" r="10.9"/><circle cx="1437.6" cy="584.2" r="10.9"/><circle cx="1484.5" cy="584" r="10.9"/><circle cx="1439.2" cy="589.4" r="10.9"/><circle cx="1482.7" cy="590.1" r="10.9"/><circle cx="1438.5" cy="594.9" r="10.9"/><circle cx="1484.3" cy="594.2" r="10.9"/><circle cx="1438.1" cy="598.6" r="10.9"/><circle cx="1485.2" cy="600.3" r="10.9"/><circle cx="1436.6" cy="604" r="10.9"/><circle cx="1484.3" cy="606" r="10.9"/><circle cx="1438.5" cy="609.3" r="10.9"/><circle cx="1483" cy="609.4" r="10.9"/><circle cx="1437.3" cy="614.5" r="10.9"/><circle cx="1484.9" cy="615.5" r="10.9"/><circle cx="1437.9" cy="621.2" r="10.9"/><circle cx="1484.2" cy="621.4" r="10.9"/><circle cx="1437.7" cy="625.6" r="10.9"/><circle cx="1484.7" cy="625.4" r="10.9"/><circle cx="1437.4" cy="632.1" r="10.9"/><circle cx="1484.8" cy="630.7" r="10.9"/><circle cx="1437.2" cy="637.9" r="10.9"/><circle cx="1483.9" cy="635.8" r="10.9"/><circle cx="1437.9" cy="643" r="10.9"/><circle cx="1483" cy="640.2" r="10.9"/><circle cx="1438.1" cy="647.4" r="10.9"/><circle cx="1484.8" cy="646.5" r="10.9"/><circle cx="1436.6" cy="651.3" r="10.9"/><circle cx="1484.7" cy="650.9" r="10.9"/><circle cx="1439.3" cy="656.2" r="10.9"/><circle cx="1482.8" cy="657.3" r="10.9"/><circle cx="1437.8" cy="661.5" r="10.9"/><circle cx="1485.2" cy="662.1" r="10.9"/><circle cx="1439" cy="666.7" r="10.9"/><circle cx="1484.6" cy="669" r="10.9"/><circle cx="1440" cy="671.5" r="10.9"/><circle cx="1483.7" cy="672.1" r="10.9"/><circle cx="1439.9" cy="678.1" r="10.9"/><circle cx="1481.1" cy="677.6" r="10.9"/><circle cx="1443.8" cy="683.2" r="10.9"/><circle cx="1476.9" cy="684.5" r="10.9"/><circle cx="1439.4" cy="509.9" r="10.9"/><circle cx="1449.3" cy="509.4" r="10.9"/><circle cx="1460.6" cy="510.7" r="10.9"/><circle cx="1469.2" cy="508.9" r="10.9"/><circle cx="1480.6" cy="511" r="10.9"/><circle cx="1449.8" cy="685.6" r="10.9"/><circle cx="1455.9" cy="684.1" r="10.9"/><circle cx="1465" cy="684.8" r="10.9"/><circle cx="1473.9" cy="683.9" r="10.9"/><circle cx="1441.2" cy="706" r="10.9"/><circle cx="1475.8" cy="706.5" r="10.9"/><rect x="1555.6" y="498.9" width="50" height="193.2"/><circle cx="1559.1" cy="503.3" r="10.9"/><circle cx="1600.8" cy="504.4" r="10.9"/><circle cx="1560.6" cy="508.3" r="10.9"/><circle cx="1600.4" cy="509.2" r="10.9"/><circle cx="1556.6" cy="512.6" r="10.9"/><circle cx="1604.3" cy="514.3" r="10.9"/><circle cx="1558.2" cy="518" r="10.9"/><circle cx="1603.6" cy="519.7" r="10.9"/><circle cx="1558.5" cy="524.2" r="10.9"/><circle cx="1603.9" cy="523.6" r="10.9"/><circle cx="1557.4" cy="530" r="10.9"/><circle cx="1602.8" cy="530.1" r="10.9"/><circle cx="1558" cy="534.9" r="10.9"/><circle cx="1604.6" cy="533.1" r="10.9"/><circle cx="1556.6" cy="540.8" r="10.9"/><circle cx="1603" cy="537.9" r="10.9"/><circle cx="1558.7" cy="545.9" r="10.9"/><circle cx="1602.2" cy="545.7" r="10.9"/><circle cx="1558.6" cy="550.4" r="10.9"/><circle cx="1602.5" cy="548.7" r="10.9"/><circle cx="1557.1" cy="553.7" r="10.9"/><circle cx="1603.2" cy="556.2" r="10.9"/><circle cx="1557" cy="561.2" r="10.9"/><circle cx="1604.9" cy="558.7" r="10.9"/><circle cx="1558.3" cy="566.2" r="10.9"/><circle cx="1604.1" cy="563.9" r="10.9"/><circle cx="1557.6" cy="569.7" r="10.9"/><circle cx="1603.4" cy="569.3" r="10.9"/><circle cx="1558.9" cy="577.2" r="10.9"/><circle cx="1603.1" cy="576.8" r="10.9"/><circle cx="1558.7" cy="580.9" r="10.9"/><circle cx="1602.6" cy="580.7" r="10.9"/><circle cx="1558.5" cy="586.7" r="10.9"/><circle cx="1602.6" cy="586.8" r="10.9"/><circle cx="1557.6" cy="590.1" r="10.9"/><circle cx="1603.2" cy="591.3" r="10.9"/><circle cx="1556.4" cy="596" r="10.9"/><circle cx="1602.8" cy="597.9" r="10.9"/><circle cx="1556.5" cy="602.4" r="10.9"/><circle cx="1603" cy="600.7" r="10.9"/><circle cx="1558.3" cy="605.6" r="10.9"/><circle cx="1602.3" cy="606.9" r="10.9"/><circle cx="1557.9" cy="612.3" r="10.9"/><circle cx="1603.2" cy="610.6" r="10.9"/><circle cx="1557.1" cy="617.8" r="10.9"/><circle cx="1603.7" cy="617.4" r="10.9"/><circle cx="1557.1" cy="623.9" r="10.9"/><circle cx="1604.6" cy="623.2" r="10.9"/><circle cx="1557.9" cy="627.2" r="10.9"/><circle cx="1603.4" cy="629.1" r="10.9"/><circle cx="1557.9" cy="632.6" r="10.9"/><circle cx="1603.3" cy="631.8" r="10.9"/><circle cx="1556.2" cy="636.6" r="10.9"/><circle cx="1603.9" cy="639.4" r="10.9"/><circle cx="1558.3" cy="643.6" r="10.9"/><circle cx="1603.3" cy="642.5" r="10.9"/><circle cx="1558.4" cy="647.3" r="10.9"/><circle cx="1604.6" cy="649.4" r="10.9"/><circle cx="1556.5" cy="652.3" r="10.9"/><circle cx="1604.1" cy="653.2" r="10.9"/><circle cx="1557.2" cy="659" r="10.9"/><circle cx="1603.1" cy="660.3" r="10.9"/><circle cx="1559" cy="664.8" r="10.9"/><circle cx="1604.6" cy="664.1" r="10.9"/><circle cx="1557.3" cy="670.8" r="10.9"/><circle cx="1602.9" cy="669.7" r="10.9"/><circle cx="1557" cy="674.1" r="10.9"/><circle cx="1604.1" cy="674.2" r="10.9"/><circle cx="1558.8" cy="680" r="10.9"/><circle cx="1602.8" cy="679.2" r="10.9"/><circle cx="1560.9" cy="685" r="10.9"/><circle cx="1599.1" cy="685.2" r="10.9"/><circle cx="1565.5" cy="691.3" r="10.9"/><circle cx="1596.2" cy="690.8" r="10.9"/><circle cx="1560.7" cy="504.8" r="10.9"/><circle cx="1569.5" cy="502.8" r="10.9"/><circle cx="1582.3" cy="505.1" r="10.9"/><circle cx="1590.7" cy="505.1" r="10.9"/><circle cx="1601.9" cy="503.3" r="10.9"/><circle cx="1566.3" cy="692.4" r="10.9"/><circle cx="1576.4" cy="691.7" r="10.9"/><circle cx="1586.9" cy="692.7" r="10.9"/><circle cx="1596.1" cy="689.3" r="10.9"/><circle cx="1564.8" cy="698.1" r="10.9"/><circle cx="1584.9" cy="696.9" r="10.9"/><circle cx="1598.7" cy="695.7" r="10.9"/><rect x="1675.1" y="489.9" width="50" height="193.2"/><circle cx="1679.6" cy="494.9" r="10.9"/><circle cx="1721.8" cy="492.8" r="10.9"/><circle cx="1680.3" cy="498.4" r="10.9"/><circle cx="1719.8" cy="498.7" r="10.9"/><circle cx="1676.3" cy="504.4" r="10.9"/><circle cx="1723" cy="503.1" r="10.9"/><circle cx="1677.4" cy="511" r="10.9"/><circle cx="1723.6" cy="509.3" r="10.9"/><circle cx="1677.2" cy="515.6" r="10.9"/><circle cx="1723.8" cy="513.6" r="10.9"/><circle cx="1676.6" cy="519.5" r="10.9"/><circle cx="1723.2" cy="519.1" r="10.9"/><circle cx="1677.5" cy="524.6" r="10.9"/><circle cx="1722.8" cy="523.7" r="10.9"/><circle cx="1677.9" cy="530.5" r="10.9"/><circle cx="1721.9" cy="529.3" r="10.9"/><circle cx="1676.5" cy="534.8" r="10.9"/><circle cx="1722.6" cy="534.7" r="10.9"/><circle cx="1676.2" cy="539.5" r="10.9"/><circle cx="1723.5" cy="541.8" r="10.9"/><circle cx="1677.9" cy="545.7" r="10.9"/><circle cx="1723.9" cy="546.3" r="10.9"/><circle cx="1677.5" cy="549.7" r="10.9"/><circle cx="1722.9" cy="550.7" r="10.9"/><circle cx="1676.5" cy="555.7" r="10.9"/><circle cx="1722.8" cy="556.7" r="10.9"/><circle cx="1676.2" cy="561.1" r="10.9"/><circle cx="1722.8" cy="561.7" r="10.9"/><circle cx="1675.9" cy="565.8" r="10.9"/><circle cx="1724.4" cy="567.3" r="10.9"/><circle cx="1677.5" cy="572.4" r="10.9"/><circle cx="1722.6" cy="570.6" r="10.9"/><circle cx="1676.4" cy="576.7" r="10.9"/><circle cx="1723.2" cy="577.1" r="10.9"/><circle cx="1676" cy="583.1" r="10.9"/><circle cx="1721.8" cy="582.6" r="10.9"/><circle cx="1677.2" cy="587.4" r="10.9"/><circle cx="1724.1" cy="587.2" r="10.9"/><circle cx="1677.2" cy="593.9" r="10.9"/><circle cx="1722.9" cy="592.7" r="10.9"/><circle cx="1677.1" cy="598.9" r="10.9"/><circle cx="1723.6" cy="598.6" r="10.9"/><circle cx="1677.4" cy="601.7" r="10.9"/><circle cx="1723.6" cy="603.3" r="10.9"/><circle cx="1676.3" cy="609.1" r="10.9"/><circle cx="1722" cy="607.5" r="10.9"/><circle cx="1678.3" cy="614.5" r="10.9"/><circle cx="1722" cy="612.3" r="10.9"/><circle cx="1676.4" cy="618.9" r="10.9"/><circle cx="1721.9" cy="619.2" r="10.9"/><circle cx="1676.5" cy="623.8" r="10.9"/><circle cx="1721.9" cy="624.5" r="10.9"/><circle cx="1677.3" cy="629.4" r="10.9"/><circle cx="1724.5" cy="630.1" r="10.9"/><circle cx="1676.1" cy="633.2" r="10.9"/><circle cx="1722.6" cy="634.4" r="10.9"/><circle cx="1678.5" cy="641" r="10.9"/><circle cx="1722.5" cy="638.8" r="10.9"/><circle cx="1677.6" cy="644" r="10.9"/><circle cx="1724.1" cy="644.9" r="10.9"/><circle cx="1677.1" cy="649.7" r="10.9"/><circle cx="1721.8" cy="649.3" r="10.9"/><circle cx="1676.1" cy="656" r="10.9"/><circle cx="1724.1" cy="654.4" r="10.9"/><circle cx="1677.9" cy="659" r="10.9"/><circle cx="1723.2" cy="659.9" r="10.9"/><circle cx="1677.3" cy="665.5" r="10.9"/><circle cx="1723.2" cy="665.1" r="10.9"/><circle cx="1677.6" cy="669.8" r="10.9"/><circle cx="1723" cy="670.9" r="10.9"/><circle cx="1682" cy="675.3" r="10.9"/><circle cx="1719.5" cy="675.6" r="10.9"/><circle cx="1684.2" cy="680.6" r="10.9"/><circle cx="1715.2" cy="682" r="10.9"/><circle cx="1679.3" cy="497.2" r="10.9"/><circle cx="1691.3" cy="496.5" r="10.9"/><circle cx="1699.9" cy="498.5" r="10.9"/><circle cx="1709.9" cy="498.2" r="10.9"/><circle cx="1718.3" cy="495.5" r="10.9"/><circle cx="1687.7" cy="680.3" r="10.9"/><circle cx="1697.6" cy="680.4" r="10.9"/><circle cx="1705.5" cy="680.8" r="10.9"/><circle cx="1715.8" cy="682.3" r="10.9"/><circle cx="1684.1" cy="704.2" r="10.9"/><circle cx="1718" cy="699" r="10.9"/><circle cx="1682.4" cy="689.4" r="10.9"/><circle cx="1723.7" cy="688.3" r="10.9"/><rect x="1794.9" y="466.9" width="50" height="218.2"/><circle cx="1798.3" cy="470.9" r="10.9"/><circle cx="1841.2" cy="471.4" r="10.9"/><circle cx="1799.7" cy="475.2" r="10.9"/><circle cx="1841.6" cy="475" r="10.9"/><circle cx="1795.7" cy="480.4" r="10.9"/><circle cx="1841.8" cy="480.1" r="10.9"/><circle cx="1796.1" cy="487.9" r="10.9"/><circle cx="1842.7" cy="487" r="10.9"/><circle cx="1797.6" cy="492.9" r="10.9"/><circle cx="1843.4" cy="490.7" r="10.9"/><circle cx="1798.1" cy="497.5" r="10.9"/><circle cx="1841.6" cy="497.9" r="10.9"/><circle cx="1797.5" cy="501.3" r="10.9"/><circle cx="1843.1" cy="501.6" r="10.9"/><circle cx="1796.7" cy="506.3" r="10.9"/><circle cx="1844.1" cy="506.8" r="10.9"/><circle cx="1795.9" cy="511.5" r="10.9"/><circle cx="1843.7" cy="513.9" r="10.9"/><circle cx="1797.2" cy="516.3" r="10.9"/><circle cx="1842.6" cy="518.1" r="10.9"/><circle cx="1797.7" cy="523" r="10.9"/><circle cx="1841.8" cy="522.8" r="10.9"/><circle cx="1796.3" cy="527.9" r="10.9"/><circle cx="1843.4" cy="526.9" r="10.9"/><circle cx="1796" cy="532.2" r="10.9"/><circle cx="1844.1" cy="534.8" r="10.9"/><circle cx="1795.7" cy="538.6" r="10.9"/><circle cx="1842.3" cy="538" r="10.9"/><circle cx="1796.2" cy="543.7" r="10.9"/><circle cx="1844.1" cy="542.5" r="10.9"/><circle cx="1796.9" cy="550" r="10.9"/><circle cx="1843.2" cy="549" r="10.9"/><circle cx="1798.1" cy="553" r="10.9"/><circle cx="1842.3" cy="555.3" r="10.9"/><circle cx="1795.9" cy="558.5" r="10.9"/><circle cx="1844.1" cy="557.9" r="10.9"/><circle cx="1796.6" cy="565.9" r="10.9"/><circle cx="1842.5" cy="565.8" r="10.9"/><circle cx="1796.5" cy="568.4" r="10.9"/><circle cx="1842.4" cy="569.5" r="10.9"/><circle cx="1797.6" cy="575.6" r="10.9"/><circle cx="1842" cy="575.8" r="10.9"/><circle cx="1797.5" cy="578.8" r="10.9"/><circle cx="1843.1" cy="578.9" r="10.9"/><circle cx="1796.8" cy="586.2" r="10.9"/><circle cx="1843.2" cy="585.2" r="10.9"/><circle cx="1798.2" cy="590.5" r="10.9"/><circle cx="1841.8" cy="590.9" r="10.9"/><circle cx="1797.9" cy="595.9" r="10.9"/><circle cx="1842.5" cy="595.3" r="10.9"/><circle cx="1796.4" cy="599.9" r="10.9"/><circle cx="1842" cy="602.2" r="10.9"/><circle cx="1797.4" cy="607.1" r="10.9"/><circle cx="1843.9" cy="606" r="10.9"/><circle cx="1797.9" cy="610.1" r="10.9"/><circle cx="1844" cy="610.2" r="10.9"/><circle cx="1796.9" cy="616.6" r="10.9"/><circle cx="1841.8" cy="616.4" r="10.9"/><circle cx="1797.8" cy="621.8" r="10.9"/><circle cx="1842.9" cy="621.3" r="10.9"/><circle cx="1797.7" cy="626.6" r="10.9"/><circle cx="1842.1" cy="625.8" r="10.9"/><circle cx="1797.6" cy="633.2" r="10.9"/><circle cx="1842.9" cy="633.3" r="10.9"/><circle cx="1798.3" cy="638.6" r="10.9"/><circle cx="1842.9" cy="638.2" r="10.9"/><circle cx="1796.7" cy="643.1" r="10.9"/><circle cx="1842.1" cy="643.3" r="10.9"/><circle cx="1797.9" cy="647" r="10.9"/><circle cx="1841.6" cy="647.4" r="10.9"/><circle cx="1796.8" cy="652.3" r="10.9"/><circle cx="1844" cy="651.7" r="10.9"/><circle cx="1796.7" cy="657.3" r="10.9"/><circle cx="1843.2" cy="659" r="10.9"/><circle cx="1796.3" cy="662" r="10.9"/><circle cx="1842.2" cy="663.6" r="10.9"/><circle cx="1795.8" cy="667.1" r="10.9"/><circle cx="1843" cy="669.1" r="10.9"/><circle cx="1797.7" cy="673.2" r="10.9"/><circle cx="1842.1" cy="673.6" r="10.9"/><circle cx="1800" cy="677.4" r="10.9"/><circle cx="1839.8" cy="678.6" r="10.9"/><circle cx="1805.3" cy="682.9" r="10.9"/><circle cx="1834.1" cy="684.8" r="10.9"/><circle cx="1800.6" cy="470.8" r="10.9"/><circle cx="1809.3" cy="470.7" r="10.9"/><circle cx="1818.7" cy="471.2" r="10.9"/><circle cx="1829.2" cy="475.8" r="10.9"/><circle cx="1841.9" cy="474.6" r="10.9"/><circle cx="1806.8" cy="684.1" r="10.9"/><circle cx="1817" cy="685.7" r="10.9"/><circle cx="1825.9" cy="684.6" r="10.9"/><circle cx="1832.7" cy="684.6" r="10.9"/><circle cx="1799" cy="689.4" r="10.9"/><circle cx="1806" cy="699" r="10.9"/><circle cx="1826.6" cy="689.4" r="10.9"/><rect x="1914.8" y="454.9" width="50" height="219.2"/><circle cx="1918" cy="459.8" r="10.9"/><circle cx="1959.5" cy="459.6" r="10.9"/><circle cx="1919.4" cy="463.1" r="10.9"/><circle cx="1961.9" cy="464.6" r="10.9"/><circle cx="1916.1" cy="468.2" r="10.9"/><circle cx="1963.7" cy="470.6" r="10.9"/><circle cx="1915.7" cy="475.2" r="10.9"/><circle cx="1963.7" cy="475.4" r="10.9"/><circle cx="1916.5" cy="479.5" r="10.9"/><circle cx="1963.7" cy="480.6" r="10.9"/><circle cx="1915.8" cy="484.3" r="10.9"/><circle cx="1964.1" cy="485" r="10.9"/><circle cx="1915.6" cy="488.9" r="10.9"/><circle cx="1964.1" cy="491" r="10.9"/><circle cx="1917.5" cy="496.3" r="10.9"/><circle cx="1962" cy="494.4" r="10.9"/><circle cx="1916.9" cy="499.7" r="10.9"/><circle cx="1962.8" cy="501.7" r="10.9"/><circle cx="1916.3" cy="506.3" r="10.9"/><circle cx="1962.5" cy="506.6" r="10.9"/><circle cx="1916" cy="511.4" r="10.9"/><circle cx="1964" cy="511.9" r="10.9"/><circle cx="1917.1" cy="514.9" r="10.9"/><circle cx="1963.2" cy="517.1" r="10.9"/><circle cx="1917.2" cy="521.6" r="10.9"/><circle cx="1963.7" cy="522.2" r="10.9"/><circle cx="1918.2" cy="526.5" r="10.9"/><circle cx="1961.4" cy="525.3" r="10.9"/><circle cx="1915.9" cy="531.5" r="10.9"/><circle cx="1963.1" cy="531.6" r="10.9"/><circle cx="1917.3" cy="536" r="10.9"/><circle cx="1962.4" cy="537.9" r="10.9"/><circle cx="1916.5" cy="541.5" r="10.9"/><circle cx="1961.6" cy="541.4" r="10.9"/><circle cx="1916.2" cy="547.1" r="10.9"/><circle cx="1963.3" cy="548.2" r="10.9"/><circle cx="1917.9" cy="553" r="10.9"/><circle cx="1961.5" cy="553.5" r="10.9"/><circle cx="1917.7" cy="557" r="10.9"/><circle cx="1964.1" cy="557.3" r="10.9"/><circle cx="1917.6" cy="564.1" r="10.9"/><circle cx="1963.1" cy="564.1" r="10.9"/><circle cx="1917.1" cy="568.1" r="10.9"/><circle cx="1964.1" cy="568.1" r="10.9"/><circle cx="1915.4" cy="572.4" r="10.9"/><circle cx="1963.7" cy="572.3" r="10.9"/><circle cx="1916.7" cy="577" r="10.9"/><circle cx="1961.9" cy="579.8" r="10.9"/><circle cx="1916.9" cy="584.6" r="10.9"/><circle cx="1962.1" cy="583.3" r="10.9"/><circle cx="1917.9" cy="589.1" r="10.9"/><circle cx="1963.8" cy="588.9" r="10.9"/><circle cx="1917.1" cy="595.4" r="10.9"/><circle cx="1963.9" cy="594.6" r="10.9"/><circle cx="1918" cy="599.7" r="10.9"/><circle cx="1962.6" cy="600.7" r="10.9"/><circle cx="1917.2" cy="605" r="10.9"/><circle cx="1963.2" cy="604.1" r="10.9"/><circle cx="1916.7" cy="610.2" r="10.9"/><circle cx="1963.9" cy="609.7" r="10.9"/><circle cx="1917.2" cy="616.3" r="10.9"/><circle cx="1961.6" cy="615.9" r="10.9"/><circle cx="1916.3" cy="620.3" r="10.9"/><circle cx="1962.7" cy="620.9" r="10.9"/><circle cx="1915.7" cy="626" r="10.9"/><circle cx="1963.5" cy="623.9" r="10.9"/><circle cx="1917.3" cy="629.4" r="10.9"/><circle cx="1964.1" cy="631.7" r="10.9"/><circle cx="1917.8" cy="636" r="10.9"/><circle cx="1963" cy="634.3" r="10.9"/><circle cx="1917.1" cy="641.6" r="10.9"/><circle cx="1963.2" cy="640.2" r="10.9"/><circle cx="1916.1" cy="645.5" r="10.9"/><circle cx="1962.9" cy="645.9" r="10.9"/><circle cx="1915.5" cy="651.7" r="10.9"/><circle cx="1963.7" cy="651.8" r="10.9"/><circle cx="1917.3" cy="657.9" r="10.9"/><circle cx="1963.3" cy="657.1" r="10.9"/><circle cx="1918.7" cy="660.7" r="10.9"/><circle cx="1961.7" cy="662.7" r="10.9"/><circle cx="1919.7" cy="666.4" r="10.9"/><circle cx="1958.1" cy="666.9" r="10.9"/><circle cx="1923" cy="671.1" r="10.9"/><circle cx="1956.2" cy="671.1" r="10.9"/><circle cx="1919" cy="458.2" r="10.9"/><circle cx="1929" cy="460.2" r="10.9"/><circle cx="1941.7" cy="463.7" r="10.9"/><circle cx="1948.5" cy="459.8" r="10.9"/><circle cx="1961.6" cy="459.1" r="10.9"/><circle cx="1926.1" cy="672.9" r="10.9"/><circle cx="1934.2" cy="672.1" r="10.9"/><circle cx="1944.4" cy="672.6" r="10.9"/><circle cx="1955.7" cy="672.2" r="10.9"/><circle cx="1916.7" cy="680.9" r="10.9"/><circle cx="1923.7" cy="690.5" r="10.9"/><circle cx="1946.4" cy="686.2" r="10.9"/><circle cx="1958" cy="685.2" r="10.9"/><rect x="2034.2" y="449.3" width="50" height="199.8"/><circle cx="2039.2" cy="454.5" r="10.9"/><circle cx="2079.9" cy="454.3" r="10.9"/><circle cx="2038" cy="459.3" r="10.9"/><circle cx="2079.5" cy="457.5" r="10.9"/><circle cx="2035.5" cy="463.6" r="10.9"/><circle cx="2082.4" cy="464.2" r="10.9"/><circle cx="2035.5" cy="468.2" r="10.9"/><circle cx="2081.8" cy="470.2" r="10.9"/><circle cx="2036.1" cy="473.5" r="10.9"/><circle cx="2082.6" cy="473.4" r="10.9"/><circle cx="2035.4" cy="477.9" r="10.9"/><circle cx="2083.1" cy="479.5" r="10.9"/><circle cx="2036.6" cy="485.8" r="10.9"/><circle cx="2081.5" cy="483.7" r="10.9"/><circle cx="2037.4" cy="489.8" r="10.9"/><circle cx="2082.9" cy="490.2" r="10.9"/><circle cx="2036.4" cy="495.8" r="10.9"/><circle cx="2081.1" cy="494.3" r="10.9"/><circle cx="2035.8" cy="501.5" r="10.9"/><circle cx="2082.6" cy="500.7" r="10.9"/><circle cx="2035.4" cy="505" r="10.9"/><circle cx="2083.4" cy="506" r="10.9"/><circle cx="2036.6" cy="510.2" r="10.9"/><circle cx="2083.1" cy="510" r="10.9"/><circle cx="2037.1" cy="516.8" r="10.9"/><circle cx="2082.3" cy="515.8" r="10.9"/><circle cx="2035.7" cy="522.1" r="10.9"/><circle cx="2081.2" cy="520.4" r="10.9"/><circle cx="2037.4" cy="525.8" r="10.9"/><circle cx="2082.2" cy="527.2" r="10.9"/><circle cx="2035.7" cy="531.5" r="10.9"/><circle cx="2081.9" cy="531.5" r="10.9"/><circle cx="2036.8" cy="537.5" r="10.9"/><circle cx="2083" cy="537.5" r="10.9"/><circle cx="2037.2" cy="542.2" r="10.9"/><circle cx="2082.9" cy="541.7" r="10.9"/><circle cx="2035.1" cy="548.1" r="10.9"/><circle cx="2082.9" cy="547.9" r="10.9"/><circle cx="2035.8" cy="553.2" r="10.9"/><circle cx="2081.2" cy="552.7" r="10.9"/><circle cx="2035.6" cy="557.6" r="10.9"/><circle cx="2081.6" cy="556" r="10.9"/><circle cx="2035.9" cy="563.5" r="10.9"/><circle cx="2081.6" cy="561.6" r="10.9"/><circle cx="2037" cy="566.5" r="10.9"/><circle cx="2082.7" cy="569.1" r="10.9"/><circle cx="2035.4" cy="572.5" r="10.9"/><circle cx="2082.8" cy="571.6" r="10.9"/><circle cx="2035.3" cy="577.6" r="10.9"/><circle cx="2080.8" cy="578.5" r="10.9"/><circle cx="2037.2" cy="582.6" r="10.9"/><circle cx="2081" cy="583.1" r="10.9"/><circle cx="2036" cy="589.4" r="10.9"/><circle cx="2080.9" cy="589.5" r="10.9"/><circle cx="2037.3" cy="592.9" r="10.9"/><circle cx="2082.6" cy="593.2" r="10.9"/><circle cx="2036.7" cy="599.1" r="10.9"/><circle cx="2081.4" cy="599.8" r="10.9"/><circle cx="2037" cy="605.1" r="10.9"/><circle cx="2083.1" cy="604.2" r="10.9"/><circle cx="2037.5" cy="610.1" r="10.9"/><circle cx="2080.9" cy="609.3" r="10.9"/><circle cx="2036.4" cy="613.2" r="10.9"/><circle cx="2082.6" cy="615.2" r="10.9"/><circle cx="2036" cy="619.4" r="10.9"/><circle cx="2082.2" cy="620" r="10.9"/><circle cx="2037" cy="626" r="10.9"/><circle cx="2083.6" cy="625.8" r="10.9"/><circle cx="2034.9" cy="629.6" r="10.9"/><circle cx="2083.5" cy="628.8" r="10.9"/><circle cx="2037.1" cy="634.2" r="10.9"/><circle cx="2081.2" cy="635.8" r="10.9"/><circle cx="2038.5" cy="640.4" r="10.9"/><circle cx="2078.8" cy="639.6" r="10.9"/><circle cx="2042.7" cy="645" r="10.9"/><circle cx="2075.1" cy="646.4" r="10.9"/><circle cx="2039.3" cy="454.9" r="10.9"/><circle cx="2048" cy="456.5" r="10.9"/><circle cx="2058" cy="453.9" r="10.9"/><circle cx="2069.4" cy="456.5" r="10.9"/><circle cx="2081.1" cy="456.8" r="10.9"/><circle cx="2048" cy="649.8" r="10.9"/><circle cx="2056.1" cy="649" r="10.9"/><circle cx="2062.5" cy="646.9" r="10.9"/><circle cx="2071.3" cy="649.6" r="10.9"/><circle cx="2037.5" cy="678" r="10.9"/><circle cx="2058.7" cy="684.2" r="10.9"/><circle cx="2053.8" cy="666.8" r="10.9"/><rect x="2153.9" y="384.9" width="50" height="236.2"/><circle cx="2157.5" cy="389.3" r="10.9"/><circle cx="2199" cy="388.5" r="10.9"/><circle cx="2159" cy="394.5" r="10.9"/><circle cx="2201.1" cy="393.5" r="10.9"/><circle cx="2157.2" cy="398.3" r="10.9"/><circle cx="2201.5" cy="400.5" r="10.9"/><circle cx="2155" cy="404.4" r="10.9"/><circle cx="2200.8" cy="403.3" r="10.9"/><circle cx="2156.9" cy="410.5" r="10.9"/><circle cx="2201.8" cy="411.2" r="10.9"/><circle cx="2154.7" cy="415.8" r="10.9"/><circle cx="2201.8" cy="415.9" r="10.9"/><circle cx="2156.9" cy="418.9" r="10.9"/><circle cx="2202.1" cy="420.1" r="10.9"/><circle cx="2156.7" cy="424.6" r="10.9"/><circle cx="2200.6" cy="426.5" r="10.9"/><circle cx="2155.3" cy="431.8" r="10.9"/><circle cx="2203.2" cy="430.3" r="10.9"/><circle cx="2155.2" cy="435.4" r="10.9"/><circle cx="2202.8" cy="436.7" r="10.9"/><circle cx="2156.9" cy="439.4" r="10.9"/><circle cx="2201.1" cy="441.2" r="10.9"/><circle cx="2156.2" cy="444.6" r="10.9"/><circle cx="2202.8" cy="447" r="10.9"/><circle cx="2156" cy="449.9" r="10.9"/><circle cx="2203" cy="451.4" r="10.9"/><circle cx="2157.1" cy="456" r="10.9"/><circle cx="2202.2" cy="457.7" r="10.9"/><circle cx="2155.9" cy="462.1" r="10.9"/><circle cx="2201.1" cy="460.9" r="10.9"/><circle cx="2154.8" cy="466.5" r="10.9"/><circle cx="2200.8" cy="467.2" r="10.9"/><circle cx="2156.9" cy="471.2" r="10.9"/><circle cx="2201.8" cy="472.4" r="10.9"/><circle cx="2155.5" cy="477.9" r="10.9"/><circle cx="2201.7" cy="476" r="10.9"/><circle cx="2155.3" cy="481.2" r="10.9"/><circle cx="2201.8" cy="482.2" r="10.9"/><circle cx="2155.4" cy="488.3" r="10.9"/><circle cx="2201.2" cy="488.1" r="10.9"/><circle cx="2155.4" cy="492.8" r="10.9"/><circle cx="2200.9" cy="494.1" r="10.9"/><circle cx="2155.6" cy="496.8" r="10.9"/><circle cx="2201.2" cy="499.6" r="10.9"/><circle cx="2156.7" cy="503" r="10.9"/><circle cx="2202.7" cy="504.3" r="10.9"/><circle cx="2155.5" cy="509.2" r="10.9"/><circle cx="2200.6" cy="507.3" r="10.9"/><circle cx="2154.6" cy="514.6" r="10.9"/><circle cx="2200.6" cy="512.3" r="10.9"/><circle cx="2156.6" cy="520.2" r="10.9"/><circle cx="2201.1" cy="519.4" r="10.9"/><circle cx="2154.7" cy="524.5" r="10.9"/><circle cx="2203.1" cy="523.4" r="10.9"/><circle cx="2156.9" cy="527.9" r="10.9"/><circle cx="2202.6" cy="528.1" r="10.9"/><circle cx="2154.6" cy="535.1" r="10.9"/><circle cx="2201" cy="535.4" r="10.9"/><circle cx="2156.8" cy="539.7" r="10.9"/><circle cx="2200.8" cy="540.6" r="10.9"/><circle cx="2154.8" cy="546.1" r="10.9"/><circle cx="2200.5" cy="546" r="10.9"/><circle cx="2155.7" cy="551.1" r="10.9"/><circle cx="2201.9" cy="550.5" r="10.9"/><circle cx="2155.6" cy="556.2" r="10.9"/><circle cx="2200.7" cy="554" r="10.9"/><circle cx="2155.8" cy="559.9" r="10.9"/><circle cx="2201.6" cy="559" r="10.9"/><circle cx="2155.2" cy="564.3" r="10.9"/><circle cx="2202.8" cy="566.6" r="10.9"/><circle cx="2156" cy="569.8" r="10.9"/><circle cx="2202.3" cy="570" r="10.9"/><circle cx="2156.1" cy="574.9" r="10.9"/><circle cx="2203.2" cy="576.2" r="10.9"/><circle cx="2156.3" cy="580.1" r="10.9"/><circle cx="2202.5" cy="582.3" r="10.9"/><circle cx="2154.9" cy="585.3" r="10.9"/><circle cx="2201.5" cy="585.9" r="10.9"/><circle cx="2155.2" cy="590.6" r="10.9"/><circle cx="2202.2" cy="593.1" r="10.9"/><circle cx="2155.1" cy="595.4" r="10.9"/><circle cx="2200.7" cy="595.7" r="10.9"/><circle cx="2155.4" cy="602.4" r="10.9"/><circle cx="2201.9" cy="602" r="10.9"/><circle cx="2157" cy="607.6" r="10.9"/><circle cx="2201.5" cy="608.5" r="10.9"/><circle cx="2158.2" cy="613.4" r="10.9"/><circle cx="2200.1" cy="613.5" r="10.9"/><circle cx="2161.5" cy="616.3" r="10.9"/><circle cx="2196.2" cy="618.7" r="10.9"/><circle cx="2158.6" cy="393.2" r="10.9"/><circle cx="2167.6" cy="393.6" r="10.9"/><circle cx="2178.7" cy="392.1" r="10.9"/><circle cx="2187.9" cy="389.7" r="10.9"/><circle cx="2198.3" cy="389.8" r="10.9"/><circle cx="2164.3" cy="619.9" r="10.9"/><circle cx="2176.8" cy="620.7" r="10.9"/><circle cx="2185.6" cy="621.1" r="10.9"/><circle cx="2194.2" cy="622.1" r="10.9"/><circle cx="2154.2" cy="648.9" r="10.9"/><circle cx="2164.3" cy="656.8" r="10.9"/><circle cx="2183.9" cy="641.1" r="10.9"/><circle cx="2158.7" cy="636.7" r="10.9"/></g>
<g fill="#de9458"><circle cx="251.9" cy="486.5" r="10.9"/><circle cx="257.2" cy="486.5" r="10.9"/><circle cx="273.8" cy="488.2" r="10.9"/><circle cx="281.6" cy="499.9" r="10.9"/><circle cx="273.8" cy="507.3" r="10.9"/><circle cx="245.6" cy="526.8" r="10.9"/><circle cx="371.1" cy="455.3" r="10.9"/><circle cx="371.7" cy="470.2" r="10.9"/><circle cx="377.7" cy="512.2" r="10.9"/><circle cx="379.2" cy="527.4" r="10.9"/><circle cx="389.3" cy="527.4" r="10.9"/><circle cx="487.9" cy="418.9" r="10.9"/><circle cx="518.4" cy="469.8" r="10.9"/><circle cx="502.3" cy="486.1" r="10.9"/><circle cx="486.2" cy="500.3" r="10.9"/><circle cx="496.8" cy="504.1" r="10.9"/><circle cx="518" cy="510" r="10.9"/><circle cx="629.5" cy="294.6" r="10.9"/><circle cx="618.3" cy="365.7" r="10.9"/><circle cx="619.2" cy="443" r="10.9"/><circle cx="644.6" cy="446.9" r="10.9"/><circle cx="633.6" cy="507.9" r="10.9"/><circle cx="641.6" cy="514.1" r="10.9"/><circle cx="725.2" cy="496" r="10.9"/><circle cx="762.7" cy="498.4" r="10.9"/><circle cx="872.3" cy="350" r="10.9"/><circle cx="864.2" cy="382.6" r="10.9"/><circle cx="842" cy="455.3" r="10.9"/><circle cx="845.2" cy="488.2" r="10.9"/><circle cx="853" cy="492.4" r="10.9"/><circle cx="997.8" cy="354.4" r="10.9"/><circle cx="1109.8" cy="397.2" r="10.9"/><circle cx="1110.2" cy="459.6" r="10.9"/><circle cx="1563.7" cy="413.1" r="10.9"/><circle cx="1713.1" cy="260.8" r="10.9"/><circle cx="1818.1" cy="415.8" r="10.9"/><circle cx="2067.5" cy="339.9" r="10.9"/><circle cx="2039.7" cy="423" r="10.9"/><circle cx="2057.9" cy="434.2" r="10.9"/><circle cx="2073.4" cy="435.7" r="10.9"/><circle cx="2192.6" cy="371.7" r="10.9"/></g>
<g stroke="#000" stroke-width="0.6">
<rect x="193.0" y="63.2" width="1110.7" height="151.5" fill="none" stroke="#000" stroke-width="2.8"/>
<circle cx="228.8" cy="114.9" r="10.9" fill="#b1d0dd" stroke="none"/><circle cx="228.8" cy="171.2" r="10.9" fill="#de9458" stroke="none"/>
<text x="260.2" y="126.6" font-size="36.4">Empirical <tspan font-style="italic">P</tspan> &lt; 0.05</text>
<text x="260.2" y="182.8" font-size="36.4">Genes Associated with Epidermal Development / Keratinization</text>
<rect x="193.0" y="63.2" width="2057.7" height="725.8" fill="none" stroke="#000" stroke-width="3.6"/>
<path d="M184 785.4H193M184 541.2H193M184 297H193M264.4 789V797.6M384 789V797.6M503.7 789V797.6M623.4 789V797.6M743 789V797.6M862.6 789V797.6M982.3 789V797.6M1102 789V797.6M1221.6 789V797.6M1341.2 789V797.6M1460.9 789V797.6M1580.6 789V797.6M1700.2 789V797.6M1819.8 789V797.6M1939.5 789V797.6M2059.2 789V797.6M2178.8 789V797.6" stroke="#333333" stroke-width="3" fill="none"/>
<text transform="translate(166.8 798.6) scale(1 1.05)" font-size="36.6" style="font-kerning:none" text-anchor="end">0</text>
<text transform="translate(166.8 554.4) scale(1 1.05)" font-size="36.6" style="font-kerning:none" text-anchor="end">5</text>
<text transform="translate(166.8 310.2) scale(1 1.05)" font-size="36.6" style="font-kerning:none" text-anchor="end">10</text>
<text transform="translate(263.9 845.4) scale(1 1.05)" font-size="36.6" style="font-kerning:none" text-anchor="middle">1</text>
<text transform="translate(380.5 845.4) scale(1 1.05)" font-size="36.6" style="font-kerning:none" text-anchor="middle">2</text>
<text transform="translate(500.2 845.4) scale(1 1.05)" font-size="36.6" style="font-kerning:none" text-anchor="middle">3</text>
<text transform="translate(619.9 845.4) scale(1 1.05)" font-size="36.6" style="font-kerning:none" text-anchor="middle">4</text>
<text transform="translate(739.5 845.4) scale(1 1.05)" font-size="36.6" style="font-kerning:none" text-anchor="middle">5</text>
<text transform="translate(859.1 845.4) scale(1 1.05)" font-size="36.6" style="font-kerning:none" text-anchor="middle">6</text>
<text transform="translate(978.8 845.4) scale(1 1.05)" font-size="36.6" style="font-kerning:none" text-anchor="middle">7</text>
<text transform="translate(1098.5 845.4) scale(1 1.05)" font-size="36.6" style="font-kerning:none" text-anchor="middle">8</text>
<text transform="translate(1218.1 845.4) scale(1 1.05)" font-size="36.6" style="font-kerning:none" text-anchor="middle">9</text>
<text transform="translate(1332.8 845.4) scale(1 1.05)" font-size="36.6" style="font-kerning:none" text-anchor="middle">10</text>
<text transform="translate(1452.4 845.4) scale(1 1.05)" font-size="36.6" style="font-kerning:none" text-anchor="middle">11</text>
<text transform="translate(1572.1 845.4) scale(1 1.05)" font-size="36.6" style="font-kerning:none" text-anchor="middle">12</text>
<text transform="translate(1691.7 845.4) scale(1 1.05)" font-size="36.6" style="font-kerning:none" text-anchor="middle">13</text>
<text transform="translate(1811.3 845.4) scale(1 1.05)" font-size="36.6" style="font-kerning:none" text-anchor="middle">14</text>
<text transform="translate(1931 845.4) scale(1 1.05)" font-size="36.6" style="font-kerning:none" text-anchor="middle">15</text>
<text transform="translate(2050.7 845.4) scale(1 1.05)" font-size="36.6" style="font-kerning:none" text-anchor="middle">16</text>
<text transform="translate(2170.3 845.4) scale(1 1.05)" font-size="36.6" style="font-kerning:none" text-anchor="middle">17</text>
<text x="1179.5" y="913" font-size="42.6" text-anchor="middle">Bin</text>
<text transform="translate(93.9 474.6) rotate(-90)" font-size="42.6" text-anchor="middle">CMS value</text>
<text x="550.8" y="282.5" font-size="38.9" font-style="italic">KRTAP5-2</text>
<text x="521.2" y="354.5" font-size="38.9" font-style="italic">KRTAP5-1</text>
<text x="1485.2" y="381.8" font-size="38.9" font-style="italic">NOTCH1</text>
<text x="1659.5" y="241.0" font-size="38.9" font-style="italic">ALX4</text>
<text x="1965.6" y="407.2" font-size="38.9" font-style="italic">COL5A1</text>
<text x="2103" y="271.6" font-size="38.9" font-style="italic">FRAS1</text>
</g>
<path d="M2174.3 280.3L2185 333" stroke="#000" stroke-width="2.8" fill="none"/>
<path d="M2188.5 353.7L2170.9 327.2L2184.6 331.5L2194.9 322.5Z" fill="#000"/>
</g>
<text x="30.7" y="63.9" font-size="49.5" fill="#231815" stroke="#231815" stroke-width="0.5">A</text>
<text x="46.2" y="975" font-size="49.5" fill="#231815" stroke="#231815" stroke-width="0.5">B</text>
<text x="960.4" y="975.2" font-size="49.5" fill="#231815" stroke="#231815" stroke-width="0.5">C</text>
<text x="963.3" y="1506" font-size="46.2" fill="#231815" stroke="#231815" stroke-width="0.5">D</text>
<g>
<g fill="#bebebe"><circle cx="1154.2" cy="1225.1" r="5.5"/><circle cx="1162" cy="1231.4" r="5.5"/><circle cx="1153.7" cy="1236.2" r="5.5"/><circle cx="1175.9" cy="1229.9" r="5.5"/><circle cx="1180.5" cy="1231.6" r="5.5"/><circle cx="1185.1" cy="1234.9" r="5.5"/><circle cx="1171.3" cy="1236.6" r="5.5"/><circle cx="1183.3" cy="1245.6" r="5.5"/><circle cx="1185.1" cy="1250.6" r="5.5"/><circle cx="1192.9" cy="1249.3" r="5.5"/><circle cx="1187" cy="1254.3" r="5.5"/><circle cx="1182.4" cy="1259" r="5.5"/><circle cx="1161.6" cy="1266.4" r="5.5"/><circle cx="1152.2" cy="1273.2" r="5.5"/><circle cx="1158.9" cy="1272.8" r="5.5"/><circle cx="1162.9" cy="1272.8" r="5.5"/><circle cx="1176.3" cy="1269.5" r="5.5"/><circle cx="1176.3" cy="1278.8" r="5.5"/><circle cx="1180.5" cy="1280.6" r="5.5"/><circle cx="1176.3" cy="1286.3" r="5.5"/><circle cx="1199.6" cy="1270.1" r="5.5"/><circle cx="1193.5" cy="1273.8" r="5.5"/><circle cx="1196.2" cy="1278.4" r="5.5"/><circle cx="1221.8" cy="1249.3" r="5.5"/><circle cx="1226.2" cy="1255.3" r="5.5"/><circle cx="1225.9" cy="1267.5" r="5.5"/><circle cx="1224" cy="1280.2" r="5.5"/><circle cx="1231" cy="1278.9" r="5.5"/><circle cx="1235.1" cy="1187.7" r="5.5"/><circle cx="1243.6" cy="1276" r="5.5"/><circle cx="1251.2" cy="1283.4" r="5.5"/><circle cx="1254" cy="1300" r="5.5"/><circle cx="1258.3" cy="1300" r="5.5"/><circle cx="1270.7" cy="1267.7" r="5.5"/><circle cx="1279.5" cy="1271.7" r="5.5"/><circle cx="1293.2" cy="1267.8" r="5.5"/><circle cx="1304.3" cy="1267.8" r="5.5"/><circle cx="1322.9" cy="1268" r="5.5"/><circle cx="1334.7" cy="1268.4" r="5.5"/><circle cx="1347.7" cy="1268.4" r="5.5"/><circle cx="1351.7" cy="1268.4" r="5.5"/><circle cx="1345.6" cy="1283.9" r="5.5"/><circle cx="1329.1" cy="1298.4" r="5.5"/><circle cx="1344.3" cy="1298.4" r="5.5"/><circle cx="1348" cy="1298.7" r="5.5"/><circle cx="1353.6" cy="1298.4" r="5.5"/><circle cx="1368.9" cy="1265.1" r="5.5"/><circle cx="1376.5" cy="1269.9" r="5.5"/><circle cx="1388.7" cy="1266.5" r="5.5"/><circle cx="1394.1" cy="1281.2" r="5.5"/><circle cx="1382.6" cy="1299.9" r="5.5"/><circle cx="1390.4" cy="1299.3" r="5.5"/><circle cx="1405.4" cy="1269.1" r="5.5"/><circle cx="1414.8" cy="1274.1" r="5.5"/><circle cx="1405.4" cy="1299.7" r="5.5"/><circle cx="1413.9" cy="1299.9" r="5.5"/><circle cx="1426.3" cy="1263.2" r="5.5"/><circle cx="1433.5" cy="1265.2" r="5.5"/><circle cx="1429.7" cy="1284.7" r="5.5"/><circle cx="1427.2" cy="1294.1" r="5.5"/><circle cx="1428.5" cy="1296.9" r="5.5"/><circle cx="1432.2" cy="1297.3" r="5.5"/><circle cx="1438.7" cy="1297.5" r="5.5"/><circle cx="1452.8" cy="1265.4" r="5.5"/><circle cx="1447.6" cy="1271.9" r="5.5"/><circle cx="1443.7" cy="1277.1" r="5.5"/><circle cx="1453.2" cy="1284.9" r="5.5"/><circle cx="1464.6" cy="1282.1" r="5.5"/><circle cx="1467.8" cy="1262.8" r="5.5"/><circle cx="1462" cy="1222.3" r="5.5"/><circle cx="1457.2" cy="1297.3" r="5.5"/><circle cx="1461.9" cy="1296.5" r="5.5"/><circle cx="1470.2" cy="1295" r="5.5"/><circle cx="1477.6" cy="1245.4" r="5.5"/><circle cx="1483.3" cy="1252.8" r="5.5"/><circle cx="1494.1" cy="1253.8" r="5.5"/><circle cx="1483.3" cy="1263.6" r="5.5"/><circle cx="1496.8" cy="1265.1" r="5.5"/><circle cx="1470" cy="1262.7" r="5.5"/><circle cx="1483.9" cy="1283.6" r="5.5"/><circle cx="1490.7" cy="1282.6" r="5.5"/><circle cx="1488.5" cy="1290.4" r="5.5"/><circle cx="1482.6" cy="1296" r="5.5"/><circle cx="1470" cy="1294.7" r="5.5"/><circle cx="1848.5" cy="1201.6" r="5.5"/><circle cx="1887.4" cy="1177.5" r="5.5"/><circle cx="1878.7" cy="1201" r="5.5"/><circle cx="1889.1" cy="1205.6" r="5.5"/><circle cx="1909.2" cy="1224.3" r="5.5"/><circle cx="1915.7" cy="1224.3" r="5.5"/><circle cx="1921.8" cy="1224.3" r="5.5"/><circle cx="1897.6" cy="1258" r="5.5"/><circle cx="1879.6" cy="1291.9" r="5.5"/><circle cx="1960.3" cy="1216.9" r="5.5"/><circle cx="1990.3" cy="1214.2" r="5.5"/><circle cx="1979.2" cy="1230.3" r="5.5"/><circle cx="1984.2" cy="1233" r="5.5"/><circle cx="1978.1" cy="1239" r="5.5"/><circle cx="1964.6" cy="1247.1" r="5.5"/><circle cx="1976.8" cy="1247.5" r="5.5"/><circle cx="2003.8" cy="1247.1" r="5.5"/><circle cx="1987.9" cy="1255.3" r="5.5"/><circle cx="1951.8" cy="1264.5" r="5.5"/><circle cx="1964.8" cy="1262.3" r="5.5"/><circle cx="1958.8" cy="1270.6" r="5.5"/><circle cx="1972.2" cy="1269.9" r="5.5"/><circle cx="1977.7" cy="1272.8" r="5.5"/><circle cx="1999" cy="1266.9" r="5.5"/><circle cx="2003.3" cy="1276.5" r="5.5"/><circle cx="1963.3" cy="1283.9" r="5.5"/><circle cx="2037.5" cy="1247.3" r="5.5"/><circle cx="2029.5" cy="1262.8" r="5.5"/><circle cx="2038.8" cy="1263" r="5.5"/><circle cx="2042.9" cy="1263" r="5.5"/><circle cx="2054.2" cy="1266.2" r="5.5"/><circle cx="2066.2" cy="1256.2" r="5.5"/><circle cx="2029.5" cy="1292.8" r="5.5"/><circle cx="2041" cy="1293.2" r="5.5"/><circle cx="2084" cy="1192.9" r="5.5"/><circle cx="2094.1" cy="1216.8" r="5.5"/><circle cx="2080.3" cy="1222.1" r="5.5"/><circle cx="2085.4" cy="1225.3" r="5.5"/><circle cx="2138.6" cy="1236.2" r="5.5"/><circle cx="2160" cy="1190.5" r="5.5"/><circle cx="2166.7" cy="1221.9" r="5.5"/><circle cx="2161" cy="1227.5" r="5.5"/><circle cx="2162.4" cy="1229.7" r="5.5"/><circle cx="2170.6" cy="1236.2" r="5.5"/><circle cx="2181.3" cy="1246.9" r="5.5"/><circle cx="2189.7" cy="1220.5" r="5.5"/><circle cx="2160.8" cy="1261.2" r="5.5"/><circle cx="2163.9" cy="1267.8" r="5.5"/><circle cx="2164.7" cy="1281.7" r="5.5"/><circle cx="2163.2" cy="1285.2" r="5.5"/><circle cx="2168" cy="1307.3" r="5.5"/><circle cx="2168.7" cy="1321.7" r="5.5"/></g>
<g fill="#de9458"><circle cx="1638.3" cy="1029.4" r="5.5"/><circle cx="1654.7" cy="1058.9" r="5.5"/><circle cx="1656.9" cy="1071.6" r="5.5"/><circle cx="1666.2" cy="1070.2" r="5.5"/><circle cx="1671.4" cy="1067" r="5.5"/><circle cx="1673.2" cy="1069.6" r="5.5"/><circle cx="1674.3" cy="1072.6" r="5.5"/><circle cx="1696.9" cy="1078.9" r="5.5"/><circle cx="1647.3" cy="1090.1" r="5.5"/><circle cx="1652.3" cy="1090" r="5.5"/><circle cx="1656" cy="1089.6" r="5.5"/><circle cx="1702.1" cy="1101.1" r="5.5"/><circle cx="1707.7" cy="1106.1" r="5.5"/><circle cx="1658.8" cy="1111.8" r="5.5"/><circle cx="1634.7" cy="1117.4" r="5.5"/><circle cx="1571.1" cy="1119.8" r="5.5"/><circle cx="1685.1" cy="1123.6" r="5.5"/><circle cx="1637.9" cy="1137.2" r="5.5"/><circle cx="1658.2" cy="1136.1" r="5.5"/><circle cx="1676.4" cy="1154.7" r="5.5"/><circle cx="1694" cy="1164.2" r="5.5"/><circle cx="1703.2" cy="1162.1" r="5.5"/><circle cx="1713.8" cy="1161.8" r="5.5"/><circle cx="1639.4" cy="1165.9" r="5.5"/><circle cx="1619.6" cy="1168.8" r="5.5"/><circle cx="1607.3" cy="1177" r="5.5"/><circle cx="1625.5" cy="1185.1" r="5.5"/><circle cx="1649.7" cy="1187.3" r="5.5"/><circle cx="1529.8" cy="1205.5" r="5.5"/><circle cx="1625.5" cy="1205.3" r="5.5"/><circle cx="1620.3" cy="1206.8" r="5.5"/><circle cx="1606.6" cy="1209.5" r="5.5"/><circle cx="1605.5" cy="1211.8" r="5.5"/><circle cx="1609.7" cy="1210.8" r="5.5"/><circle cx="1640.1" cy="1216.4" r="5.5"/><circle cx="1666.6" cy="1224.7" r="5.5"/><circle cx="1668.6" cy="1230.6" r="5.5"/><circle cx="1632.1" cy="1227.5" r="5.5"/><circle cx="1644.4" cy="1238" r="5.5"/><circle cx="1502.8" cy="1235.3" r="5.5"/><circle cx="1528.5" cy="1242.3" r="5.5"/><circle cx="1592.2" cy="1239.5" r="5.5"/><circle cx="1594.9" cy="1239.5" r="5.5"/><circle cx="1598.6" cy="1250.1" r="5.5"/><circle cx="1576.6" cy="1250.6" r="5.5"/><circle cx="1564" cy="1253.4" r="5.5"/><circle cx="1501.1" cy="1254" r="5.5"/><circle cx="1520.7" cy="1253.6" r="5.5"/><circle cx="1558.8" cy="1261.2" r="5.5"/><circle cx="1542.2" cy="1261.7" r="5.5"/><circle cx="1550.5" cy="1263.6" r="5.5"/><circle cx="1519.4" cy="1265.4" r="5.5"/><circle cx="1499.2" cy="1271.5" r="5.5"/><circle cx="1550.9" cy="1272.8" r="5.5"/><circle cx="1550.9" cy="1277.5" r="5.5"/><circle cx="1503.3" cy="1277.5" r="5.5"/><circle cx="1507" cy="1279.3" r="5.5"/><circle cx="1598.6" cy="1276" r="5.5"/><circle cx="1608.3" cy="1280.6" r="5.5"/><circle cx="1598.3" cy="1283.2" r="5.5"/><circle cx="1587.7" cy="1284.9" r="5.5"/><circle cx="1505.2" cy="1288.2" r="5.5"/><circle cx="1569.6" cy="1289.1" r="5.5"/><circle cx="1575.9" cy="1289.5" r="5.5"/><circle cx="1505.2" cy="1295" r="5.5"/><circle cx="1501.8" cy="1296.9" r="5.5"/><circle cx="1551.8" cy="1299.7" r="5.5"/><circle cx="1584.4" cy="1299.1" r="5.5"/><circle cx="1617.7" cy="1300.6" r="5.5"/><circle cx="1618.6" cy="1305.2" r="5.5"/><circle cx="1572.7" cy="1307.6" r="5.5"/><circle cx="1511.1" cy="1307.8" r="5.5"/><circle cx="1556.6" cy="1318.9" r="5.5"/><circle cx="1519.8" cy="1321" r="5.5"/><circle cx="1648.8" cy="1280.2" r="5.5"/><circle cx="1706.6" cy="1255.8" r="5.5"/><circle cx="1712.8" cy="1255.4" r="5.5"/><circle cx="1766.2" cy="1270.1" r="5.5"/><circle cx="1770.8" cy="1270.1" r="5.5"/><circle cx="1790.6" cy="1267.3" r="5.5"/><circle cx="1802.1" cy="1278.2" r="5.5"/><circle cx="1821.7" cy="1268.8" r="5.5"/><circle cx="1821.7" cy="1273.2" r="5.5"/><circle cx="1824.3" cy="1201" r="5.5"/><circle cx="1839.3" cy="1217.7" r="5.5"/><circle cx="1840" cy="1245.4" r="5.5"/><circle cx="1837.8" cy="1154.4" r="5.5"/><circle cx="1845" cy="1162.1" r="5.5"/><circle cx="1835.2" cy="1167.9" r="5.5"/><circle cx="1838.7" cy="1173.8" r="5.5"/></g>
<rect x="1100.6" y="1015.3" width="1116.8" height="320.2" fill="none" stroke="#000" stroke-width="3"/>
<path d="M1094.1 1099H1100.6M1094.1 1185.2H1100.6M1094.1 1271.4H1100.6M1306.1 1335.5V1342M1589.9 1335.5V1342M1873.1 1335.5V1342M2157.3 1335.5V1342" stroke="#333333" stroke-width="2.6" fill="none"/>
<g stroke="#000" stroke-width="0.6">
<text transform="translate(1088.2 1112.2) scale(1 1.05)" font-size="36.6" style="font-kerning:none" text-anchor="end">6</text>
<text transform="translate(1088.2 1198.4) scale(1 1.05)" font-size="36.6" style="font-kerning:none" text-anchor="end">4</text>
<text transform="translate(1088.2 1284.6) scale(1 1.05)" font-size="36.6" style="font-kerning:none" text-anchor="end">2</text>
<text transform="translate(1302.1 1386.3) scale(1 1.05)" font-size="36.6" style="font-kerning:none" text-anchor="middle">139.35</text>
<text transform="translate(1585.9 1386.3) scale(1 1.05)" font-size="36.6" style="font-kerning:none" text-anchor="middle">139.4</text>
<text transform="translate(1869.1 1386.3) scale(1 1.05)" font-size="36.6" style="font-kerning:none" text-anchor="middle">139.45</text>
<text transform="translate(2153.3 1386.3) scale(1 1.05)" font-size="36.6" style="font-kerning:none" text-anchor="middle">139.5</text>
<text x="1102" y="996.5" font-size="42" font-weight="bold" font-style="italic">NOTCH1</text>
<text x="1706" y="1445" font-size="42.4" style="font-kerning:none" text-anchor="middle">Position on Chr9 (Mb)</text>
<text transform="translate(1034 1169.4) rotate(-90)" font-size="42.6" text-anchor="middle">CMS value</text>
</g></g>
<g>
<rect x="1566.1" y="1568" width="315.6" height="318.7" fill="#e9e9e9" stroke="#dcdcdc" stroke-width="1"/>
<g fill="#bebebe"><circle cx="1152.6" cy="1839.1" r="5.5"/><circle cx="1174.6" cy="1864.3" r="5.5"/><circle cx="1187" cy="1831.7" r="5.5"/><circle cx="1192.2" cy="1827.8" r="5.5"/><circle cx="1184.2" cy="1838" r="5.5"/><circle cx="1189" cy="1846.3" r="5.5"/><circle cx="1198.5" cy="1861.3" r="5.5"/><circle cx="1212.4" cy="1861.3" r="5.5"/><circle cx="1212.9" cy="1828.8" r="5.5"/><circle cx="1216.2" cy="1828.8" r="5.5"/><circle cx="1223.3" cy="1861" r="5.5"/><circle cx="1228.3" cy="1850.4" r="5.5"/><circle cx="1237.3" cy="1855.6" r="5.5"/><circle cx="1234.2" cy="1861.3" r="5.5"/><circle cx="1237.3" cy="1861.3" r="5.5"/><circle cx="1244.7" cy="1824.7" r="5.5"/><circle cx="1247.3" cy="1840.1" r="5.5"/><circle cx="1249.4" cy="1861" r="5.5"/><circle cx="1261.8" cy="1841.2" r="5.5"/><circle cx="1271.8" cy="1867.8" r="5.5"/><circle cx="1286.9" cy="1867.1" r="5.5"/><circle cx="1303.2" cy="1868.4" r="5.5"/><circle cx="1305.8" cy="1868.4" r="5.5"/><circle cx="1323.4" cy="1835.8" r="5.5"/><circle cx="1326.2" cy="1773.4" r="5.5"/><circle cx="1338" cy="1773.8" r="5.5"/><circle cx="1349.5" cy="1783.4" r="5.5"/><circle cx="1358.8" cy="1783.4" r="5.5"/><circle cx="1362.7" cy="1771" r="5.5"/><circle cx="1375.4" cy="1782.7" r="5.5"/><circle cx="1344.7" cy="1838.6" r="5.5"/><circle cx="1347.5" cy="1850.8" r="5.5"/><circle cx="1323" cy="1868.4" r="5.5"/><circle cx="1327.7" cy="1868.4" r="5.5"/><circle cx="1332.3" cy="1868.4" r="5.5"/><circle cx="1345.6" cy="1868.2" r="5.5"/><circle cx="1370.2" cy="1832.1" r="5.5"/><circle cx="1368.4" cy="1867.6" r="5.5"/><circle cx="1370.6" cy="1867.6" r="5.5"/><circle cx="1386.9" cy="1874.3" r="5.5"/><circle cx="1392.5" cy="1849.3" r="5.5"/><circle cx="1402.8" cy="1870.2" r="5.5"/><circle cx="1405" cy="1870.2" r="5.5"/><circle cx="1416.3" cy="1870.2" r="5.5"/><circle cx="1414.1" cy="1782.9" r="5.5"/><circle cx="1428.5" cy="1870.2" r="5.5"/><circle cx="1432.2" cy="1870.2" r="5.5"/><circle cx="1442.4" cy="1869.9" r="5.5"/><circle cx="1430.4" cy="1844.1" r="5.5"/><circle cx="1440.4" cy="1853.9" r="5.5"/><circle cx="1458" cy="1783.4" r="5.5"/><circle cx="1460.4" cy="1848.7" r="5.5"/><circle cx="1471.3" cy="1857.4" r="5.5"/><circle cx="1465.6" cy="1866.7" r="5.5"/><circle cx="1465.6" cy="1875.2" r="5.5"/><circle cx="1476.7" cy="1870.2" r="5.5"/><circle cx="1478.5" cy="1841.5" r="5.5"/><circle cx="1833.3" cy="1632.2" r="5.5"/><circle cx="1843.3" cy="1637.2" r="5.5"/><circle cx="1850.2" cy="1647" r="5.5"/><circle cx="1843.7" cy="1651.1" r="5.5"/><circle cx="1848.3" cy="1651.6" r="5.5"/><circle cx="1852.4" cy="1655.5" r="5.5"/><circle cx="1849.5" cy="1666.4" r="5.5"/><circle cx="1840.9" cy="1682.2" r="5.5"/><circle cx="1854.4" cy="1687.7" r="5.5"/><circle cx="1841.5" cy="1723.4" r="5.5"/><circle cx="1872.2" cy="1672" r="5.5"/><circle cx="1865.6" cy="1690.5" r="5.5"/><circle cx="1873" cy="1740.1" r="5.5"/><circle cx="1877.8" cy="1782.1" r="5.5"/><circle cx="1873" cy="1789.5" r="5.5"/><circle cx="1879.4" cy="1790.4" r="5.5"/><circle cx="1874.3" cy="1802.5" r="5.5"/><circle cx="1875.2" cy="1812.3" r="5.5"/><circle cx="1880" cy="1820.1" r="5.5"/><circle cx="1897.4" cy="1798.2" r="5.5"/><circle cx="1897.4" cy="1808.6" r="5.5"/><circle cx="1890.5" cy="1837.3" r="5.5"/><circle cx="1881.3" cy="1850.2" r="5.5"/><circle cx="1890.5" cy="1855.2" r="5.5"/><circle cx="1909.4" cy="1841" r="5.5"/><circle cx="1905.3" cy="1846.5" r="5.5"/><circle cx="1903.9" cy="1850.6" r="5.5"/><circle cx="1903.5" cy="1858.4" r="5.5"/><circle cx="1919.6" cy="1843.6" r="5.5"/><circle cx="1918.9" cy="1852.8" r="5.5"/><circle cx="1922.9" cy="1863.2" r="5.5"/><circle cx="1915" cy="1866.3" r="5.5"/><circle cx="1927.6" cy="1854.3" r="5.5"/><circle cx="1935" cy="1854.7" r="5.5"/><circle cx="1940.5" cy="1852.8" r="5.5"/><circle cx="1943.7" cy="1845" r="5.5"/><circle cx="1953.3" cy="1851.3" r="5.5"/><circle cx="1974.4" cy="1845" r="5.5"/><circle cx="1971.1" cy="1854.3" r="5.5"/><circle cx="1967.4" cy="1857.3" r="5.5"/><circle cx="1969.6" cy="1860.8" r="5.5"/><circle cx="1987.7" cy="1837.1" r="5.5"/><circle cx="1991.4" cy="1846" r="5.5"/><circle cx="1997.9" cy="1834.9" r="5.5"/><circle cx="2003.4" cy="1845" r="5.5"/><circle cx="2001" cy="1851.5" r="5.5"/><circle cx="1994.2" cy="1863.9" r="5.5"/><circle cx="1984.4" cy="1874.1" r="5.5"/><circle cx="1994.2" cy="1876" r="5.5"/><circle cx="2004.4" cy="1828.8" r="5.5"/><circle cx="2009" cy="1831.2" r="5.5"/><circle cx="2013.6" cy="1827.5" r="5.5"/><circle cx="2013.6" cy="1832.1" r="5.5"/><circle cx="2018.3" cy="1828" r="5.5"/><circle cx="2017.3" cy="1832.1" r="5.5"/><circle cx="2024.7" cy="1825.6" r="5.5"/><circle cx="2034.2" cy="1823.4" r="5.5"/><circle cx="2041.4" cy="1831.7" r="5.5"/><circle cx="2045.5" cy="1821" r="5.5"/><circle cx="2047.3" cy="1842.3" r="5.5"/><circle cx="2050.1" cy="1848.4" r="5.5"/><circle cx="2058.8" cy="1827.8" r="5.5"/><circle cx="2058.1" cy="1835.2" r="5.5"/><circle cx="2070.6" cy="1810.2" r="5.5"/><circle cx="2071.6" cy="1837.1" r="5.5"/><circle cx="2081.2" cy="1802.5" r="5.5"/><circle cx="2081.2" cy="1809.3" r="5.5"/><circle cx="2087.7" cy="1806.5" r="5.5"/><circle cx="2089.9" cy="1817.7" r="5.5"/><circle cx="2110.8" cy="1816.2" r="5.5"/><circle cx="2105.6" cy="1840.1" r="5.5"/><circle cx="2109.5" cy="1849.7" r="5.5"/><circle cx="2115.4" cy="1839.1" r="5.5"/><circle cx="2114.5" cy="1801.2" r="5.5"/><circle cx="2119.1" cy="1801.2" r="5.5"/><circle cx="2128.9" cy="1797.5" r="5.5"/><circle cx="2127.3" cy="1841.3" r="5.5"/><circle cx="2131.5" cy="1827.1" r="5.5"/><circle cx="2137.6" cy="1839.5" r="5.5"/><circle cx="2132.1" cy="1856.7" r="5.5"/><circle cx="2136.7" cy="1856.7" r="5.5"/><circle cx="2141.5" cy="1856.7" r="5.5"/><circle cx="2143.8" cy="1829.3" r="5.5"/><circle cx="2149.3" cy="1841.9" r="5.5"/><circle cx="2149.7" cy="1817.3" r="5.5"/><circle cx="2159.1" cy="1808.6" r="5.5"/><circle cx="2163.6" cy="1814" r="5.5"/><circle cx="2168.2" cy="1814" r="5.5"/><circle cx="2172.8" cy="1813.6" r="5.5"/><circle cx="2175.6" cy="1813.6" r="5.5"/><circle cx="2171" cy="1841.7" r="5.5"/></g>
<g fill="#de9458"><circle cx="1632.3" cy="1609.4" r="5.5"/><circle cx="1774.9" cy="1606.8" r="5.5"/><circle cx="1644.2" cy="1637.4" r="5.5"/><circle cx="1639.2" cy="1645.7" r="5.5"/><circle cx="1659.4" cy="1640.1" r="5.5"/><circle cx="1607.5" cy="1652.4" r="5.5"/><circle cx="1632.9" cy="1661.1" r="5.5"/><circle cx="1632.5" cy="1678.5" r="5.5"/><circle cx="1588.3" cy="1685.7" r="5.5"/><circle cx="1595.7" cy="1685.7" r="5.5"/><circle cx="1598.5" cy="1685.7" r="5.5"/><circle cx="1659.2" cy="1694.9" r="5.5"/><circle cx="1629.9" cy="1701.8" r="5.5"/><circle cx="1619.4" cy="1709.2" r="5.5"/><circle cx="1595.7" cy="1708.1" r="5.5"/><circle cx="1599.4" cy="1709" r="5.5"/><circle cx="1601.1" cy="1715.1" r="5.5"/><circle cx="1695.8" cy="1645.5" r="5.5"/><circle cx="1694.7" cy="1650.7" r="5.5"/><circle cx="1693.8" cy="1655.3" r="5.5"/><circle cx="1692.9" cy="1658.1" r="5.5"/><circle cx="1695.6" cy="1661.4" r="5.5"/><circle cx="1686.4" cy="1672.4" r="5.5"/><circle cx="1691.9" cy="1675.7" r="5.5"/><circle cx="1695.6" cy="1670.1" r="5.5"/><circle cx="1700.3" cy="1672.9" r="5.5"/><circle cx="1702.7" cy="1676.6" r="5.5"/><circle cx="1708.2" cy="1695.5" r="5.5"/><circle cx="1718.8" cy="1690.5" r="5.5"/><circle cx="1720.6" cy="1694.2" r="5.5"/><circle cx="1726.2" cy="1687.7" r="5.5"/><circle cx="1728" cy="1695.7" r="5.5"/><circle cx="1732.7" cy="1687.7" r="5.5"/><circle cx="1736.4" cy="1682.2" r="5.5"/><circle cx="1734.5" cy="1673.3" r="5.5"/><circle cx="1741.9" cy="1676.1" r="5.5"/><circle cx="1753.6" cy="1674.8" r="5.5"/><circle cx="1768.2" cy="1678.6" r="5.5"/><circle cx="1780.2" cy="1677" r="5.5"/><circle cx="1783.6" cy="1686.8" r="5.5"/><circle cx="1791" cy="1686.8" r="5.5"/><circle cx="1795.6" cy="1686.8" r="5.5"/><circle cx="1796.5" cy="1679.4" r="5.5"/><circle cx="1802.1" cy="1679.4" r="5.5"/><circle cx="1827.1" cy="1657.4" r="5.5"/><circle cx="1618.6" cy="1745.5" r="5.5"/><circle cx="1618.5" cy="1754.4" r="5.5"/><circle cx="1642.5" cy="1746.9" r="5.5"/><circle cx="1574.4" cy="1756.8" r="5.5"/><circle cx="1604.9" cy="1764.9" r="5.5"/><circle cx="1577.9" cy="1769.3" r="5.5"/><circle cx="1584.9" cy="1775.8" r="5.5"/><circle cx="1571.4" cy="1783.4" r="5.5"/><circle cx="1656.2" cy="1765.1" r="5.5"/><circle cx="1651.6" cy="1773.8" r="5.5"/><circle cx="1761.7" cy="1759.3" r="5.5"/><circle cx="1741.9" cy="1777.5" r="5.5"/><circle cx="1746" cy="1777.5" r="5.5"/><circle cx="1636.4" cy="1798" r="5.5"/><circle cx="1522.4" cy="1805.6" r="5.5"/><circle cx="1524.4" cy="1812.1" r="5.5"/><circle cx="1526.3" cy="1823.8" r="5.5"/><circle cx="1541.6" cy="1823" r="5.5"/><circle cx="1568.5" cy="1810.4" r="5.5"/><circle cx="1581.8" cy="1808" r="5.5"/><circle cx="1563.3" cy="1819.1" r="5.5"/><circle cx="1569.8" cy="1819.1" r="5.5"/><circle cx="1572" cy="1824.3" r="5.5"/><circle cx="1556.8" cy="1828.4" r="5.5"/><circle cx="1561.4" cy="1831.2" r="5.5"/><circle cx="1555" cy="1835.8" r="5.5"/><circle cx="1563.3" cy="1835.8" r="5.5"/><circle cx="1568.5" cy="1835.8" r="5.5"/><circle cx="1538.9" cy="1837.1" r="5.5"/><circle cx="1537.4" cy="1841.3" r="5.5"/><circle cx="1554" cy="1842.3" r="5.5"/><circle cx="1559.6" cy="1843.2" r="5.5"/><circle cx="1564.2" cy="1844.1" r="5.5"/><circle cx="1546.6" cy="1846" r="5.5"/><circle cx="1553.1" cy="1847.8" r="5.5"/><circle cx="1556.8" cy="1848.7" r="5.5"/><circle cx="1547.6" cy="1849.7" r="5.5"/><circle cx="1530" cy="1852.5" r="5.5"/><circle cx="1537.7" cy="1855.6" r="5.5"/><circle cx="1500.9" cy="1863.6" r="5.5"/><circle cx="1505" cy="1863.7" r="5.5"/><circle cx="1515.7" cy="1869.1" r="5.5"/><circle cx="1522.6" cy="1869.1" r="5.5"/><circle cx="1525.3" cy="1866.9" r="5.5"/><circle cx="1545.3" cy="1866.3" r="5.5"/><circle cx="1543.9" cy="1869.1" r="5.5"/><circle cx="1544.8" cy="1874.7" r="5.5"/></g>
<rect x="1103.7" y="1568" width="1111.7" height="318.7" fill="none" stroke="#000" stroke-width="3"/>
<path d="M1097.2 1651.7H1103.7M1097.2 1732H1103.7M1097.2 1811.7H1103.7M1332.3 1886.7V1893.2M1621.6 1886.7V1893.2M1910.9 1886.7V1893.2M2200.2 1886.7V1893.2" stroke="#333333" stroke-width="1.9" fill="none"/>
<g stroke="#000" stroke-width="0.6">
<text transform="translate(1088.3 1664.9) scale(1 1.05)" font-size="36.6" style="font-kerning:none" text-anchor="end">9</text>
<text transform="translate(1088.3 1745.2) scale(1 1.05)" font-size="36.6" style="font-kerning:none" text-anchor="end">6</text>
<text transform="translate(1088.3 1824.9) scale(1 1.05)" font-size="36.6" style="font-kerning:none" text-anchor="end">3</text>
<text transform="translate(1322.3 1938.9) scale(1 1.05)" font-size="36.6" style="font-kerning:none" text-anchor="middle">44.25</text>
<text transform="translate(1611.6 1938.9) scale(1 1.05)" font-size="36.6" style="font-kerning:none" text-anchor="middle">44.30</text>
<text transform="translate(1900.9 1938.9) scale(1 1.05)" font-size="36.6" style="font-kerning:none" text-anchor="middle">44.35</text>
<text transform="translate(2190.2 1938.9) scale(1 1.05)" font-size="36.6" style="font-kerning:none" text-anchor="middle">44.40</text>
<text x="1118.5" y="1555.6" font-size="42" font-weight="bold" font-style="italic">ALX4</text>
<text x="1715.5" y="1997.5" font-size="42.4" style="font-kerning:none" text-anchor="middle">Position on Chr11 (Mb)</text>
<text transform="translate(1034.8 1712.3) rotate(-90)" font-size="42.6" text-anchor="middle">CMS value</text>
<text x="1440.5" y="1551" font-size="36.5" style="font-kerning:none">~52Kb (chr11:44291732-44343856)</text>
</g></g>
<g id="panelB">
<defs>
<linearGradient id="n0" x1="0" y1="0" x2="0" y2="1"><stop offset="0" stop-color="#9e967f"/><stop offset="0.5" stop-color="#d3c7a9"/><stop offset="1" stop-color="#ece5cf"/></linearGradient>
<linearGradient id="n1" x1="0" y1="0" x2="0" y2="1"><stop offset="0" stop-color="#4d5689"/><stop offset="0.5" stop-color="#6773b6"/><stop offset="1" stop-color="#a1a9d8"/></linearGradient>
<linearGradient id="n2" x1="0" y1="0" x2="0" y2="1"><stop offset="0" stop-color="#9e8579"/><stop offset="0.5" stop-color="#d2b0a1"/><stop offset="1" stop-color="#ecd4ca"/></linearGradient>
<linearGradient id="n3" x1="0" y1="0" x2="0" y2="1"><stop offset="0" stop-color="#74959c"/><stop offset="0.5" stop-color="#9ac7d0"/><stop offset="1" stop-color="#c5e4ea"/></linearGradient>
<linearGradient id="n4" x1="0" y1="0" x2="0" y2="1"><stop offset="0" stop-color="#6f9497"/><stop offset="0.5" stop-color="#93c5c8"/><stop offset="1" stop-color="#c0e3e5"/></linearGradient>
<linearGradient id="n5" x1="0" y1="0" x2="0" y2="1"><stop offset="0" stop-color="#9c7979"/><stop offset="0.5" stop-color="#d0a0a0"/><stop offset="1" stop-color="#eac9c9"/></linearGradient>
<linearGradient id="n6" x1="0" y1="0" x2="0" y2="1"><stop offset="0" stop-color="#729985"/><stop offset="0.5" stop-color="#97cbb1"/><stop offset="1" stop-color="#c3e7d5"/></linearGradient>
<linearGradient id="n7" x1="0" y1="0" x2="0" y2="1"><stop offset="0" stop-color="#9a9175"/><stop offset="0.5" stop-color="#cdc19c"/><stop offset="1" stop-color="#e8e0c6"/></linearGradient>
<linearGradient id="n8" x1="0" y1="0" x2="0" y2="1"><stop offset="0" stop-color="#9a8a72"/><stop offset="0.5" stop-color="#ccb898"/><stop offset="1" stop-color="#e8d9c3"/></linearGradient>
<linearGradient id="n9" x1="0" y1="0" x2="0" y2="1"><stop offset="0" stop-color="#729894"/><stop offset="0.5" stop-color="#97cac5"/><stop offset="1" stop-color="#c3e6e3"/></linearGradient>
<linearGradient id="n10" x1="0" y1="0" x2="0" y2="1"><stop offset="0" stop-color="#649187"/><stop offset="0.5" stop-color="#84c1b4"/><stop offset="1" stop-color="#b6e0d7"/></linearGradient>
<linearGradient id="n11" x1="0" y1="0" x2="0" y2="1"><stop offset="0" stop-color="#7d9872"/><stop offset="0.5" stop-color="#a7ca98"/><stop offset="1" stop-color="#cee6c3"/></linearGradient>
<linearGradient id="n12" x1="0" y1="0" x2="0" y2="1"><stop offset="0" stop-color="#9c7479"/><stop offset="0.5" stop-color="#d09aa0"/><stop offset="1" stop-color="#eac5c9"/></linearGradient>
<linearGradient id="n13" x1="0" y1="0" x2="0" y2="1"><stop offset="0" stop-color="#2c7671"/><stop offset="0.5" stop-color="#3a9d96"/><stop offset="1" stop-color="#82c7c2"/></linearGradient>
<linearGradient id="n14" x1="0" y1="0" x2="0" y2="1"><stop offset="0" stop-color="#667d9a"/><stop offset="0.5" stop-color="#88a6cc"/><stop offset="1" stop-color="#b8cde8"/></linearGradient>
<linearGradient id="n15" x1="0" y1="0" x2="0" y2="1"><stop offset="0" stop-color="#74699a"/><stop offset="0.5" stop-color="#9b8bcc"/><stop offset="1" stop-color="#c5bae8"/></linearGradient>
<linearGradient id="n16" x1="0" y1="0" x2="0" y2="1"><stop offset="0" stop-color="#979771"/><stop offset="0.5" stop-color="#c8c896"/><stop offset="1" stop-color="#e5e5c2"/></linearGradient>
<linearGradient id="n17" x1="0" y1="0" x2="0" y2="1"><stop offset="0" stop-color="#6d9598"/><stop offset="0.5" stop-color="#92c6ca"/><stop offset="1" stop-color="#bfe3e6"/></linearGradient>
<linearGradient id="n18" x1="0" y1="0" x2="0" y2="1"><stop offset="0" stop-color="#8c9770"/><stop offset="0.5" stop-color="#bac894"/><stop offset="1" stop-color="#dbe5c1"/></linearGradient>
<linearGradient id="n19" x1="0" y1="0" x2="0" y2="1"><stop offset="0" stop-color="#979470"/><stop offset="0.5" stop-color="#c8c594"/><stop offset="1" stop-color="#e5e3c1"/></linearGradient>
<linearGradient id="n20" x1="0" y1="0" x2="0" y2="1"><stop offset="0" stop-color="#8e9570"/><stop offset="0.5" stop-color="#bdc794"/><stop offset="1" stop-color="#dde4c1"/></linearGradient>
<linearGradient id="n21" x1="0" y1="0" x2="0" y2="1"><stop offset="0" stop-color="#709893"/><stop offset="0.5" stop-color="#94cac3"/><stop offset="1" stop-color="#c1e6e1"/></linearGradient>
<linearGradient id="n22" x1="0" y1="0" x2="0" y2="1"><stop offset="0" stop-color="#71939e"/><stop offset="0.5" stop-color="#96c3d2"/><stop offset="1" stop-color="#c2e1ec"/></linearGradient>
<linearGradient id="n23" x1="0" y1="0" x2="0" y2="1"><stop offset="0" stop-color="#70987c"/><stop offset="0.5" stop-color="#94caa5"/><stop offset="1" stop-color="#c1e6cc"/></linearGradient>
<linearGradient id="n24" x1="0" y1="0" x2="0" y2="1"><stop offset="0" stop-color="#6a9575"/><stop offset="0.5" stop-color="#8dc79c"/><stop offset="1" stop-color="#bce4c6"/></linearGradient>
<linearGradient id="n25" x1="0" y1="0" x2="0" y2="1"><stop offset="0" stop-color="#6a9370"/><stop offset="0.5" stop-color="#8dc394"/><stop offset="1" stop-color="#bce1c1"/></linearGradient>
<linearGradient id="n26" x1="0" y1="0" x2="0" y2="1"><stop offset="0" stop-color="#7d9370"/><stop offset="0.5" stop-color="#a7c394"/><stop offset="1" stop-color="#cee1c1"/></linearGradient>
<linearGradient id="n27" x1="0" y1="0" x2="0" y2="1"><stop offset="0" stop-color="#5f9376"/><stop offset="0.5" stop-color="#7ec39e"/><stop offset="1" stop-color="#b1e1c7"/></linearGradient>
<linearGradient id="n28" x1="0" y1="0" x2="0" y2="1"><stop offset="0" stop-color="#7c7c41"/><stop offset="0.5" stop-color="#a5a557"/><stop offset="1" stop-color="#cccc96"/></linearGradient>
<linearGradient id="n29" x1="0" y1="0" x2="0" y2="1"><stop offset="0" stop-color="#6a9582"/><stop offset="0.5" stop-color="#8dc7ac"/><stop offset="1" stop-color="#bce4d2"/></linearGradient>
<linearGradient id="n30" x1="0" y1="0" x2="0" y2="1"><stop offset="0" stop-color="#a38770"/><stop offset="0.5" stop-color="#d9b494"/><stop offset="1" stop-color="#f1d7c1"/></linearGradient>
<linearGradient id="n31" x1="0" y1="0" x2="0" y2="1"><stop offset="0" stop-color="#66879c"/><stop offset="0.5" stop-color="#87b4d0"/><stop offset="1" stop-color="#b8d7ea"/></linearGradient>
<linearGradient id="n32" x1="0" y1="0" x2="0" y2="1"><stop offset="0" stop-color="#9b7b75"/><stop offset="0.5" stop-color="#cea39c"/><stop offset="1" stop-color="#e9cbc6"/></linearGradient>
<linearGradient id="n33" x1="0" y1="0" x2="0" y2="1"><stop offset="0" stop-color="#7c9866"/><stop offset="0.5" stop-color="#a5ca87"/><stop offset="1" stop-color="#cce6b8"/></linearGradient>
<linearGradient id="n34" x1="0" y1="0" x2="0" y2="1"><stop offset="0" stop-color="#9e8776"/><stop offset="0.5" stop-color="#d2b49e"/><stop offset="1" stop-color="#ecd7c7"/></linearGradient>
<linearGradient id="n35" x1="0" y1="0" x2="0" y2="1"><stop offset="0" stop-color="#5f906b"/><stop offset="0.5" stop-color="#7ebf8f"/><stop offset="1" stop-color="#b1dfbd"/></linearGradient>
<linearGradient id="n36" x1="0" y1="0" x2="0" y2="1"><stop offset="0" stop-color="#9e3e3e"/><stop offset="0.5" stop-color="#d25353"/><stop offset="1" stop-color="#ec9393"/></linearGradient>
<linearGradient id="n37" x1="0" y1="0" x2="0" y2="1"><stop offset="0" stop-color="#86976b"/><stop offset="0.5" stop-color="#b2c88f"/><stop offset="1" stop-color="#d6e5bd"/></linearGradient>
<linearGradient id="n38" x1="0" y1="0" x2="0" y2="1"><stop offset="0" stop-color="#37753e"/><stop offset="0.5" stop-color="#499c53"/><stop offset="1" stop-color="#8cc693"/></linearGradient>
<linearGradient id="n39" x1="0" y1="0" x2="0" y2="1"><stop offset="0" stop-color="#6a936a"/><stop offset="0.5" stop-color="#8dc38d"/><stop offset="1" stop-color="#bce1bc"/></linearGradient>
<linearGradient id="n40" x1="0" y1="0" x2="0" y2="1"><stop offset="0" stop-color="#769571"/><stop offset="0.5" stop-color="#9ec796"/><stop offset="1" stop-color="#c7e4c2"/></linearGradient>
<linearGradient id="n41" x1="0" y1="0" x2="0" y2="1"><stop offset="0" stop-color="#668298"/><stop offset="0.5" stop-color="#87acca"/><stop offset="1" stop-color="#b8d2e6"/></linearGradient>
<linearGradient id="n42" x1="0" y1="0" x2="0" y2="1"><stop offset="0" stop-color="#66879b"/><stop offset="0.5" stop-color="#87b4ce"/><stop offset="1" stop-color="#b8d7e9"/></linearGradient>
<linearGradient id="hl" x1="0" y1="0" x2="0" y2="1"><stop offset="0" stop-color="#fff" stop-opacity="0.95"/><stop offset="1" stop-color="#fff" stop-opacity="0.05"/></linearGradient>
<filter id="sh" x="-50%" y="-50%" width="200%" height="200%"><feGaussianBlur stdDeviation="1.1"/></filter>
</defs>
<g fill="none" stroke="#88a3d6" stroke-width="4.1" stroke-dasharray="17.8 13.8">
<ellipse cx="378.9" cy="1263" rx="338.1" ry="233.6" transform="rotate(-23.4 378.9 1263)"/>
<ellipse cx="704.1" cy="1681.6" rx="250.2" ry="194.7" transform="rotate(-59.2 704.1 1681.6)"/>
</g>
<path d="M332.2 1109.9L406.2 1123.8M331.7 1108.3L249.1 1195.4M332.4 1109L329.8 1212.8M331.8 1109.8L471.4 1214.1M331.9 1109.8L582.1 1249.8M331.7 1108.3L173.2 1271.7M331.5 1109.4L400.3 1278.9M331.5 1108.8L300.3 1298.6M332.4 1109L148.3 1332.7M332.4 1109L468.7 1326M331.5 1108.9L303.6 1394.1M331.5 1109.1L373.3 1391M331.5 1108.6L167 1450.6M406.4 1122.9L249.8 1196.1M406.4 1122.9L329.8 1212.8M406.4 1122.9L401.2 1278.5M405.6 1122.4L300.4 1298.3M405.8 1122.2L147.7 1332M404.6 1123.5L466.9 1326.6M405.5 1122.6L303.6 1393.9M405.5 1122.8L373.3 1390.8M405.6 1122.3L167.1 1450.4M249.6 1197L329.6 1213.7M249.7 1197L471.9 1214.2M249.7 1197L582.5 1249.9M249.1 1195.4L173.2 1271.7M249.8 1196.1L401.2 1278.5M249 1196.5L300.4 1299.2M249.8 1196.1L148.3 1332.7M249.3 1196.9L468.2 1326.8M249.8 1196.1L304.5 1394.2M249 1196.6L373.4 1391.4M248.9 1195.8L167 1450.7M329.8 1212.8L173.9 1272.4M329.8 1212.8L401.2 1278.5M328.9 1212.5L300.3 1298.5M329.3 1212L147.8 1331.9M329.2 1213.5L468.1 1326.7M327.9 1212.5L302.6 1393.9M329.8 1212.8L374.2 1390.9M329 1212.3L167.1 1450.5M472 1213.3L582.6 1249M471.8 1212.4L173.7 1271.5M472 1213.3L301.2 1298.8M471.7 1212.4L148 1331.8M471.1 1213.3L467.8 1326M472 1213.3L304.5 1394.2M471.2 1212.8L373.4 1390.4M582.5 1248.1L173.8 1271.5M582.4 1248.1L401 1277.6M582.6 1249L301.2 1298.8M582.6 1249L148.3 1332.7M582.1 1248.2L468.2 1325.2M582.2 1248.2L304.1 1393.4M582.1 1248.2L373.7 1390.1M173.9 1272.4L401.2 1278.5M173.7 1273.3L301 1299.7M173 1272L147.4 1332.3M173.7 1273.3L468.5 1326.9M173.3 1273.1L303.9 1394.9M173.9 1272.4L374.2 1390.9M173 1272.4L167 1451M401 1277.6L301 1297.9M401 1277.6L148.1 1331.8M400.7 1279.3L468.2 1326.8M401.2 1278.5L304.5 1394.2M400.3 1278.3L373.3 1390.7M401.2 1278.5L167.9 1451M301 1297.9L148.1 1331.8M301 1299.7L468.5 1326.9M300.3 1298.8L303.6 1394.2M300.5 1299.4L373.5 1391.5M148.3 1332.7L468.7 1326M148 1333.6L304.2 1395.1M147.8 1334.5L373.7 1392.7M147.4 1332.9L167 1451.2M468.7 1326L374.2 1390.9M468.7 1326L167.9 1451M304.6 1396.1L374.3 1392.8M373.7 1389.1L167.4 1449.2M522.8 1425.9L249.8 1196.1M522.8 1425.9L329.8 1212.8M522.8 1425.9L582.6 1249M522.8 1425.9L173.9 1272.4M522.8 1425.9L401.2 1278.5M522.8 1425.9L301.2 1298.8M522.8 1425.9L148.3 1332.7M523.6 1425.4L469.5 1325.5M522.8 1425.9L304.5 1394.2M523 1425L374.4 1390M522.8 1425.9L167.9 1451M374.4 1490.9L168.1 1450.1M375 1491.2L305.3 1393.6M375.1 1491.8L375.1 1390.9M375.1 1491.5L302.1 1298.5M375.1 1491.9L402.1 1278.6M375 1492.3L469.5 1326.5M374.7 1491L148.8 1331.9M375.1 1491.7L330.7 1212.7M374.2 1491.8L582.6 1249M374.2 1491.8L249.8 1196.1M374.2 1491.8L173.9 1272.4M374.6 1492.7L523.2 1426.8M522.8 1488.5L591.2 1571.6M592.7 1570.4L664.1 1528.6M592.5 1569.5L734 1542.2M664.3 1527.7L734.4 1542.2M662.2 1528.8L681.6 1696.2M730.6 1541.9L679.9 1694.8M591.9 1571L682.7 1696.6M593.5 1570.8L537.2 1679.5M536.6 1677.2L683.7 1694.1M535.5 1679.1L536.5 1794.3M537.4 1794.3L683.5 1696M683.6 1697.9L794.7 1691.4M685.3 1695.5L713.6 1803.2M796.1 1690.6L713.3 1804.8M683.5 1696L815 1781.8M816.4 1779.3L907.6 1829M539.3 1796.4L444.3 1883.5M373.3 1491.9L397.6 1650.8M398.5 1650.7L421.9 1745" stroke="#a9c937" stroke-width="1.6" fill="none"/>
<path d="M737.8 1544.3L687.1 1697.2M813.6 1784.3L904.8 1834M535.5 1792.2L440.5 1879.3" stroke="#9a94dc" stroke-width="1.4" fill="none"/>
<path d="M664.1 1528.6L683.5 1696M732.4 1542.5L681.7 1695.4M815.5 1781L906.7 1830.7" stroke="#3fb8d8" stroke-width="1.4" fill="none"/>
<path d="M407.2 1122.3L472.8 1212.7M407.2 1123.4L302 1299.3M408.2 1122.3L470.5 1325.4M331.7 1213.1L306.4 1394.5M301.4 1297.9L468.9 1325.1M148.8 1330.9L374.7 1389.1M468.7 1326L304.5 1394.2M304.4 1392.3L374.1 1389M374.7 1392.7L168.4 1452.8M373.8 1490.9L522.4 1425M525.8 1486.1L594.2 1569.2M734.2 1543.1L683.5 1696M536.4 1679.1L683.5 1696M683.5 1696L794.6 1689.5M683.5 1696L711.8 1803.7M794.6 1689.5L711.8 1803.7M538 1795L443 1882.1" stroke="#c23fb4" stroke-width="1.4" fill="none"/>
<path d="M332.6 1108.1L406.6 1122M333.1 1109.7L250.5 1196.8M333 1108.2L472.6 1212.5M332.9 1108.2L583.1 1248.2M333.1 1109.7L174.6 1273.1M333.3 1108.6L402.1 1278.1M333.3 1109.2L302.1 1299M333.3 1109.1L305.4 1394.3M333.3 1108.9L375.1 1390.8M333.3 1109.4L168.8 1451.4M405.6 1123.5L471.2 1213.9M407 1123.6L148.9 1333.4M406.4 1122.9L468.7 1326M407.3 1123.2L305.4 1394.5M407.3 1123L375.1 1391M407.2 1123.5L168.7 1451.6M250 1195.2L330 1211.9M249.9 1195.2L472.1 1212.4M249.9 1195.2L582.7 1248.1M250.5 1196.8L174.6 1273.1M250.6 1195.7L302 1298.4M250.3 1195.3L469.2 1325.2M250.6 1195.6L375 1390.4M250.7 1196.4L168.8 1451.3M330.7 1213.1L302.1 1299.1M330.3 1213.6L148.8 1333.5M330.4 1212.1L469.3 1325.3M329.8 1212.8L304.5 1394.2M330.6 1213.3L168.7 1451.5M472.2 1214.2L174.1 1273.3M472.3 1214.2L148.6 1333.6M472.9 1213.3L469.6 1326M472.8 1213.8L375 1391.4M582.7 1249.9L174 1273.3M582.8 1249.9L401.4 1279.4M583.1 1249.8L469.2 1326.8M583 1249.8L304.9 1395M583.1 1249.8L374.7 1391.7M174.1 1271.5L301.4 1297.9M174.8 1272.8L149.2 1333.1M174.1 1271.5L468.9 1325.1M174.5 1271.7L305.1 1393.5M174.8 1272.4L168.8 1451M401.4 1279.4L301.4 1299.7M401.4 1279.4L148.5 1333.6M401.7 1277.7L469.2 1325.2M402.1 1278.7L375.1 1391.1M301.4 1299.7L148.5 1333.6M302.1 1298.8L305.4 1394.2M301.9 1298.2L374.9 1390.3M148.6 1331.8L304.8 1393.3M148.3 1332.7L374.2 1390.9M149.2 1332.5L168.8 1450.8M469.4 1327.8L305.2 1396M468 1324.2L303.8 1392.4M304.5 1394.2L374.2 1390.9M374.2 1390.9L167.9 1451M522 1426.4L467.9 1326.5M522.6 1426.8L374 1391.8M374 1492.7L167.7 1451.9M373.4 1492.4L303.7 1394.8M373.2 1491.8L373.2 1390.9M373.3 1492.1L300.3 1299.1M373.3 1491.7L400.3 1278.4M373.4 1491.3L467.9 1325.5M373.7 1492.6L147.8 1333.5M373.3 1491.9L328.9 1212.9M524.3 1487.3L592.7 1570.4M592.9 1571.3L734.4 1544M663.9 1529.5L734 1544M666 1528.4L685.4 1695.8M736 1543.7L685.3 1696.6M593.5 1569.8L684.3 1695.4M591.9 1570L535.6 1678.7M536.2 1681L683.3 1697.9M537.3 1679.1L538.3 1794.3M683.4 1694.1L794.5 1687.6M681.7 1696.5L710 1804.2M793.1 1688.4L710.3 1802.6M814.5 1782.6L905.7 1832.3M536.8 1793.6L441.8 1880.7M375.1 1491.7L399.4 1650.6" stroke="#3a3a3a" stroke-width="1.4" fill="none"/>
<ellipse cx="331.3" cy="1111.7" rx="16.6" ry="16.6" fill="#444" opacity="0.62" filter="url(#sh)"/>
<circle cx="332.4" cy="1109" r="16.6" fill="url(#n0)" stroke="#938b76" stroke-width="0.6"/>
<ellipse cx="332.7" cy="1099.4" rx="9.6" ry="4.6" fill="url(#hl)"/>
<ellipse cx="405.3" cy="1125.6" rx="16.6" ry="16.6" fill="#444" opacity="0.62" filter="url(#sh)"/>
<circle cx="406.4" cy="1122.9" r="16.6" fill="url(#n1)" stroke="#48507f" stroke-width="0.6"/>
<ellipse cx="406.7" cy="1113.3" rx="9.6" ry="4.6" fill="url(#hl)"/>
<ellipse cx="248.7" cy="1198.8" rx="16.6" ry="16.6" fill="#444" opacity="0.62" filter="url(#sh)"/>
<circle cx="249.8" cy="1196.1" r="16.6" fill="url(#n2)" stroke="#927b71" stroke-width="0.6"/>
<ellipse cx="250.1" cy="1186.5" rx="9.6" ry="4.6" fill="url(#hl)"/>
<ellipse cx="147.2" cy="1216" rx="16.6" ry="16.6" fill="#444" opacity="0.62" filter="url(#sh)"/>
<circle cx="148.3" cy="1213.3" r="16.6" fill="url(#n3)" stroke="#6b8b91" stroke-width="0.6"/>
<ellipse cx="148.6" cy="1203.7" rx="9.6" ry="4.6" fill="url(#hl)"/>
<ellipse cx="328.7" cy="1215.5" rx="16.6" ry="16.6" fill="#444" opacity="0.62" filter="url(#sh)"/>
<circle cx="329.8" cy="1212.8" r="16.6" fill="url(#n4)" stroke="#67898c" stroke-width="0.6"/>
<ellipse cx="330.1" cy="1203.2" rx="9.6" ry="4.6" fill="url(#hl)"/>
<ellipse cx="470.9" cy="1216" rx="16.6" ry="16.6" fill="#444" opacity="0.62" filter="url(#sh)"/>
<circle cx="472" cy="1213.3" r="16.6" fill="url(#n5)" stroke="#917070" stroke-width="0.6"/>
<ellipse cx="472.3" cy="1203.7" rx="9.6" ry="4.6" fill="url(#hl)"/>
<ellipse cx="589.1" cy="1194.8" rx="16.6" ry="16.6" fill="#444" opacity="0.62" filter="url(#sh)"/>
<circle cx="590.2" cy="1192.1" r="16.6" fill="url(#n6)" stroke="#698e7c" stroke-width="0.6"/>
<ellipse cx="590.5" cy="1182.5" rx="9.6" ry="4.6" fill="url(#hl)"/>
<ellipse cx="581.5" cy="1251.7" rx="16.6" ry="16.6" fill="#444" opacity="0.62" filter="url(#sh)"/>
<circle cx="582.6" cy="1249" r="16.6" fill="url(#n7)" stroke="#8f876d" stroke-width="0.6"/>
<ellipse cx="582.9" cy="1239.4" rx="9.6" ry="4.6" fill="url(#hl)"/>
<ellipse cx="172.8" cy="1275.1" rx="16.6" ry="16.6" fill="#444" opacity="0.62" filter="url(#sh)"/>
<circle cx="173.9" cy="1272.4" r="16.6" fill="url(#n8)" stroke="#8f806a" stroke-width="0.6"/>
<ellipse cx="174.2" cy="1262.8" rx="9.6" ry="4.6" fill="url(#hl)"/>
<ellipse cx="400.1" cy="1281.2" rx="16.6" ry="16.6" fill="#444" opacity="0.62" filter="url(#sh)"/>
<circle cx="401.2" cy="1278.5" r="16.6" fill="url(#n9)" stroke="#698d89" stroke-width="0.6"/>
<ellipse cx="401.5" cy="1268.9" rx="9.6" ry="4.6" fill="url(#hl)"/>
<ellipse cx="300.1" cy="1301.5" rx="16.6" ry="16.6" fill="#444" opacity="0.62" filter="url(#sh)"/>
<circle cx="301.2" cy="1298.8" r="16.6" fill="url(#n10)" stroke="#5c877e" stroke-width="0.6"/>
<ellipse cx="301.5" cy="1289.2" rx="9.6" ry="4.6" fill="url(#hl)"/>
<ellipse cx="651.8" cy="1300.4" rx="16.6" ry="16.6" fill="#444" opacity="0.62" filter="url(#sh)"/>
<circle cx="652.9" cy="1297.7" r="16.6" fill="url(#n11)" stroke="#758d6a" stroke-width="0.6"/>
<ellipse cx="653.2" cy="1288.1" rx="9.6" ry="4.6" fill="url(#hl)"/>
<ellipse cx="147.2" cy="1335.4" rx="16.6" ry="16.6" fill="#444" opacity="0.62" filter="url(#sh)"/>
<circle cx="148.3" cy="1332.7" r="16.6" fill="url(#n12)" stroke="#916b70" stroke-width="0.6"/>
<ellipse cx="148.6" cy="1323.1" rx="9.6" ry="4.6" fill="url(#hl)"/>
<ellipse cx="467.6" cy="1328.7" rx="16.6" ry="16.6" fill="#444" opacity="0.62" filter="url(#sh)"/>
<circle cx="468.7" cy="1326" r="16.6" fill="url(#n13)" stroke="#286d69" stroke-width="0.6"/>
<ellipse cx="469" cy="1316.4" rx="9.6" ry="4.6" fill="url(#hl)"/>
<ellipse cx="588.7" cy="1363.6" rx="16.6" ry="16.6" fill="#444" opacity="0.62" filter="url(#sh)"/>
<circle cx="589.8" cy="1360.9" r="16.6" fill="url(#n14)" stroke="#5f748f" stroke-width="0.6"/>
<ellipse cx="590.1" cy="1351.3" rx="9.6" ry="4.6" fill="url(#hl)"/>
<ellipse cx="303.4" cy="1396.9" rx="16.6" ry="16.6" fill="#444" opacity="0.62" filter="url(#sh)"/>
<circle cx="304.5" cy="1394.2" r="16.6" fill="url(#n15)" stroke="#6c618f" stroke-width="0.6"/>
<ellipse cx="304.8" cy="1384.6" rx="9.6" ry="4.6" fill="url(#hl)"/>
<ellipse cx="373.1" cy="1393.6" rx="16.6" ry="16.6" fill="#444" opacity="0.62" filter="url(#sh)"/>
<circle cx="374.2" cy="1390.9" r="16.6" fill="url(#n16)" stroke="#8c8c69" stroke-width="0.6"/>
<ellipse cx="374.5" cy="1381.3" rx="9.6" ry="4.6" fill="url(#hl)"/>
<ellipse cx="166.8" cy="1453.7" rx="16.6" ry="16.6" fill="#444" opacity="0.62" filter="url(#sh)"/>
<circle cx="167.9" cy="1451" r="16.6" fill="url(#n17)" stroke="#668a8d" stroke-width="0.6"/>
<ellipse cx="168.2" cy="1441.4" rx="9.6" ry="4.6" fill="url(#hl)"/>
<ellipse cx="521.7" cy="1428.6" rx="16.6" ry="16.6" fill="#444" opacity="0.62" filter="url(#sh)"/>
<circle cx="522.8" cy="1425.9" r="16.6" fill="url(#n18)" stroke="#828c68" stroke-width="0.6"/>
<ellipse cx="523.1" cy="1416.3" rx="9.6" ry="4.6" fill="url(#hl)"/>
<ellipse cx="630.6" cy="1426.4" rx="16.6" ry="16.6" fill="#444" opacity="0.62" filter="url(#sh)"/>
<circle cx="631.7" cy="1423.7" r="16.6" fill="url(#n19)" stroke="#8c8968" stroke-width="0.6"/>
<ellipse cx="632" cy="1414.1" rx="9.6" ry="4.6" fill="url(#hl)"/>
<ellipse cx="373.1" cy="1494.5" rx="16.6" ry="16.6" fill="#444" opacity="0.62" filter="url(#sh)"/>
<circle cx="374.2" cy="1491.8" r="16.6" fill="url(#n20)" stroke="#848b68" stroke-width="0.6"/>
<ellipse cx="374.5" cy="1482.2" rx="9.6" ry="4.6" fill="url(#hl)"/>
<ellipse cx="523.2" cy="1490" rx="16.6" ry="16.6" fill="#444" opacity="0.62" filter="url(#sh)"/>
<circle cx="524.3" cy="1487.3" r="16.6" fill="url(#n21)" stroke="#688d88" stroke-width="0.6"/>
<ellipse cx="524.6" cy="1477.7" rx="9.6" ry="4.6" fill="url(#hl)"/>
<ellipse cx="230.9" cy="1553" rx="16.6" ry="16.6" fill="#444" opacity="0.62" filter="url(#sh)"/>
<circle cx="232" cy="1550.3" r="16.6" fill="url(#n22)" stroke="#698892" stroke-width="0.6"/>
<ellipse cx="232.3" cy="1540.7" rx="9.6" ry="4.6" fill="url(#hl)"/>
<ellipse cx="336.3" cy="1553" rx="16.6" ry="16.6" fill="#444" opacity="0.62" filter="url(#sh)"/>
<circle cx="337.4" cy="1550.3" r="16.6" fill="url(#n23)" stroke="#688d73" stroke-width="0.6"/>
<ellipse cx="337.7" cy="1540.7" rx="9.6" ry="4.6" fill="url(#hl)"/>
<ellipse cx="483.3" cy="1553.2" rx="16.6" ry="16.6" fill="#444" opacity="0.62" filter="url(#sh)"/>
<circle cx="484.4" cy="1550.5" r="16.6" fill="url(#n24)" stroke="#628b6d" stroke-width="0.6"/>
<ellipse cx="484.7" cy="1540.9" rx="9.6" ry="4.6" fill="url(#hl)"/>
<ellipse cx="663" cy="1531.3" rx="16.6" ry="16.6" fill="#444" opacity="0.62" filter="url(#sh)"/>
<circle cx="664.1" cy="1528.6" r="16.6" fill="url(#n25)" stroke="#628868" stroke-width="0.6"/>
<ellipse cx="664.4" cy="1519" rx="9.6" ry="4.6" fill="url(#hl)"/>
<ellipse cx="733.1" cy="1545.8" rx="16.6" ry="16.6" fill="#444" opacity="0.62" filter="url(#sh)"/>
<circle cx="734.2" cy="1543.1" r="16.6" fill="url(#n26)" stroke="#758868" stroke-width="0.6"/>
<ellipse cx="734.5" cy="1533.5" rx="9.6" ry="4.6" fill="url(#hl)"/>
<ellipse cx="591.6" cy="1573.1" rx="16.6" ry="16.6" fill="#444" opacity="0.62" filter="url(#sh)"/>
<circle cx="592.7" cy="1570.4" r="16.6" fill="url(#n27)" stroke="#58886e" stroke-width="0.6"/>
<ellipse cx="593" cy="1560.8" rx="9.6" ry="4.6" fill="url(#hl)"/>
<ellipse cx="126" cy="1595" rx="16.6" ry="16.6" fill="#444" opacity="0.62" filter="url(#sh)"/>
<circle cx="127.1" cy="1592.3" r="16.6" fill="url(#n28)" stroke="#73733d" stroke-width="0.6"/>
<ellipse cx="127.4" cy="1582.7" rx="9.6" ry="4.6" fill="url(#hl)"/>
<ellipse cx="294.5" cy="1616.2" rx="16.6" ry="16.6" fill="#444" opacity="0.62" filter="url(#sh)"/>
<circle cx="295.6" cy="1613.5" r="16.6" fill="url(#n29)" stroke="#628b78" stroke-width="0.6"/>
<ellipse cx="295.9" cy="1603.9" rx="9.6" ry="4.6" fill="url(#hl)"/>
<ellipse cx="188.9" cy="1657.9" rx="16.6" ry="16.6" fill="#444" opacity="0.62" filter="url(#sh)"/>
<circle cx="190" cy="1655.2" r="16.6" fill="url(#n30)" stroke="#987e68" stroke-width="0.6"/>
<ellipse cx="190.3" cy="1645.6" rx="9.6" ry="4.6" fill="url(#hl)"/>
<ellipse cx="397.4" cy="1653.4" rx="16.6" ry="16.6" fill="#444" opacity="0.62" filter="url(#sh)"/>
<circle cx="398.5" cy="1650.7" r="16.6" fill="url(#n31)" stroke="#5e7e91" stroke-width="0.6"/>
<ellipse cx="398.8" cy="1641.1" rx="9.6" ry="4.6" fill="url(#hl)"/>
<ellipse cx="294.5" cy="1679.3" rx="16.6" ry="16.6" fill="#444" opacity="0.62" filter="url(#sh)"/>
<circle cx="295.6" cy="1676.6" r="16.6" fill="url(#n32)" stroke="#90726d" stroke-width="0.6"/>
<ellipse cx="295.9" cy="1667" rx="9.6" ry="4.6" fill="url(#hl)"/>
<ellipse cx="535.3" cy="1681.8" rx="16.6" ry="16.6" fill="#444" opacity="0.62" filter="url(#sh)"/>
<circle cx="536.4" cy="1679.1" r="16.6" fill="url(#n33)" stroke="#738d5e" stroke-width="0.6"/>
<ellipse cx="536.7" cy="1669.5" rx="9.6" ry="4.6" fill="url(#hl)"/>
<ellipse cx="682.4" cy="1698.7" rx="16.6" ry="16.6" fill="#444" opacity="0.62" filter="url(#sh)"/>
<circle cx="683.5" cy="1696" r="16.6" fill="url(#n34)" stroke="#927e6e" stroke-width="0.6"/>
<ellipse cx="683.8" cy="1686.4" rx="9.6" ry="4.6" fill="url(#hl)"/>
<ellipse cx="793.5" cy="1692.2" rx="16.6" ry="16.6" fill="#444" opacity="0.62" filter="url(#sh)"/>
<circle cx="794.6" cy="1689.5" r="16.6" fill="url(#n35)" stroke="#588564" stroke-width="0.6"/>
<ellipse cx="794.9" cy="1679.9" rx="9.6" ry="4.6" fill="url(#hl)"/>
<ellipse cx="188.9" cy="1721.1" rx="16.6" ry="16.6" fill="#444" opacity="0.62" filter="url(#sh)"/>
<circle cx="190" cy="1718.4" r="16.6" fill="url(#n36)" stroke="#923a3a" stroke-width="0.6"/>
<ellipse cx="190.3" cy="1708.8" rx="9.6" ry="4.6" fill="url(#hl)"/>
<ellipse cx="420.8" cy="1747.7" rx="16.6" ry="16.6" fill="#444" opacity="0.62" filter="url(#sh)"/>
<circle cx="421.9" cy="1745" r="16.6" fill="url(#n37)" stroke="#7c8c64" stroke-width="0.6"/>
<ellipse cx="422.2" cy="1735.4" rx="9.6" ry="4.6" fill="url(#hl)"/>
<ellipse cx="536.3" cy="1797" rx="16.6" ry="16.6" fill="#444" opacity="0.62" filter="url(#sh)"/>
<circle cx="537.4" cy="1794.3" r="16.6" fill="url(#n38)" stroke="#336d3a" stroke-width="0.6"/>
<ellipse cx="537.7" cy="1784.7" rx="9.6" ry="4.6" fill="url(#hl)"/>
<ellipse cx="710.7" cy="1806.4" rx="16.6" ry="16.6" fill="#444" opacity="0.62" filter="url(#sh)"/>
<circle cx="711.8" cy="1803.7" r="16.6" fill="url(#n39)" stroke="#628862" stroke-width="0.6"/>
<ellipse cx="712.1" cy="1794.1" rx="9.6" ry="4.6" fill="url(#hl)"/>
<ellipse cx="813.9" cy="1784.5" rx="16.6" ry="16.6" fill="#444" opacity="0.62" filter="url(#sh)"/>
<circle cx="815" cy="1781.8" r="16.6" fill="url(#n40)" stroke="#6e8b69" stroke-width="0.6"/>
<ellipse cx="815.3" cy="1772.2" rx="9.6" ry="4.6" fill="url(#hl)"/>
<ellipse cx="905.1" cy="1834.2" rx="16.6" ry="16.6" fill="#444" opacity="0.62" filter="url(#sh)"/>
<circle cx="906.2" cy="1831.5" r="16.6" fill="url(#n41)" stroke="#5e788d" stroke-width="0.6"/>
<ellipse cx="906.5" cy="1821.9" rx="9.6" ry="4.6" fill="url(#hl)"/>
<ellipse cx="441.3" cy="1884.1" rx="16.6" ry="16.6" fill="#444" opacity="0.62" filter="url(#sh)"/>
<circle cx="442.4" cy="1881.4" r="16.6" fill="url(#n42)" stroke="#5e7e90" stroke-width="0.6"/>
<ellipse cx="442.7" cy="1871.8" rx="9.6" ry="4.6" fill="url(#hl)"/>
<g font-size="24.8" fill="#000" stroke="#fff" stroke-opacity="0.8" stroke-width="3.4" stroke-linejoin="round">
<text x="247.5" y="1088.3">KRTAP19-7</text>
<text x="422" y="1112">KRTAP6-1</text>
<text x="204" y="1170.9">KRTAP20-3</text>
<text x="128.1" y="1194.3">KLK14</text>
<text x="284.4" y="1194.3">KRTAP22-2</text>
<text x="445.9" y="1191">KRTAP19-4</text>
<text x="598.2" y="1167.1">FRAS1</text>
<text x="562.4" y="1228.2">KRTAP19-3</text>
<text x="153.8" y="1252.4">KRTAP19-8</text>
<text x="381.5" y="1257.9">KRTAP20-1</text>
<text x="253.1" y="1275.8">KRTAP6-2</text>
<text x="633.2" y="1278">PRKCH</text>
<text x="128.1" y="1312.6">KRTAP19-1</text>
<text x="449" y="1305.4">KRTAP6-3</text>
<text x="569.6" y="1341">GAL</text>
<text x="224.1" y="1373.4">KRTAP13-4</text>
<text x="355.8" y="1370.1">KRTAP15-1</text>
<text x="148.2" y="1430.4">KRTAP19-5</text>
<text x="502.6" y="1405.9">KRTAP5-4</text>
<text x="616.5" y="1403.2">CCT8</text>
<text x="354.7" y="1470.1">KRTAP5-2</text>
<text x="503.7" y="1467.2">SYNC</text>
<text x="212.5" y="1530.2">EDAR</text>
<text x="317.8" y="1530.2">HOXC13</text>
<text x="464.2" y="1530.2">SLC44A4</text>
<text x="637.7" y="1505.6">HES5</text>
<text x="713.6" y="1529.8">DLL1</text>
<text x="572.5" y="1550.3">NES</text>
<text x="106.4" y="1572.2">ADCY5</text>
<text x="275.4" y="1593.4">KLK12</text>
<text x="138.6" y="1631.3">SMARCA2</text>
<text x="378.1" y="1630.2">KRTAP5-1</text>
<text x="275.4" y="1655.9">FUZ</text>
<text x="515.5" y="1657.5">DKK1</text>
<text x="663.3" y="1674.7">NOTCH1</text>
<text x="774.4" y="1669">MMP14</text>
<text x="138.6" y="1694.5">KRTAP5-3</text>
<text x="402.3" y="1725.7">KRTAP5-5</text>
<text x="517.2" y="1774.5">MSX2</text>
<text x="691.9" y="1784.1">COL5A1</text>
<text x="794.8" y="1760.7">KRT6B</text>
<text x="886.3" y="1811">KRT75</text>
<text x="421.6" y="1860.1">ALX4</text>
</g>
<g font-size="24.8" fill="#000" stroke="#000" stroke-width="0.45">
<text x="247.5" y="1088.3">KRTAP19-7</text>
<text x="422" y="1112">KRTAP6-1</text>
<text x="204" y="1170.9">KRTAP20-3</text>
<text x="128.1" y="1194.3">KLK14</text>
<text x="284.4" y="1194.3">KRTAP22-2</text>
<text x="445.9" y="1191">KRTAP19-4</text>
<text x="598.2" y="1167.1">FRAS1</text>
<text x="562.4" y="1228.2">KRTAP19-3</text>
<text x="153.8" y="1252.4">KRTAP19-8</text>
<text x="381.5" y="1257.9">KRTAP20-1</text>
<text x="253.1" y="1275.8">KRTAP6-2</text>
<text x="633.2" y="1278">PRKCH</text>
<text x="128.1" y="1312.6">KRTAP19-1</text>
<text x="449" y="1305.4">KRTAP6-3</text>
<text x="569.6" y="1341">GAL</text>
<text x="224.1" y="1373.4">KRTAP13-4</text>
<text x="355.8" y="1370.1">KRTAP15-1</text>
<text x="148.2" y="1430.4">KRTAP19-5</text>
<text x="502.6" y="1405.9">KRTAP5-4</text>
<text x="616.5" y="1403.2">CCT8</text>
<text x="354.7" y="1470.1">KRTAP5-2</text>
<text x="503.7" y="1467.2">SYNC</text>
<text x="212.5" y="1530.2">EDAR</text>
<text x="317.8" y="1530.2">HOXC13</text>
<text x="464.2" y="1530.2">SLC44A4</text>
<text x="637.7" y="1505.6">HES5</text>
<text x="713.6" y="1529.8">DLL1</text>
<text x="572.5" y="1550.3">NES</text>
<text x="106.4" y="1572.2">ADCY5</text>
<text x="275.4" y="1593.4">KLK12</text>
<text x="138.6" y="1631.3">SMARCA2</text>
<text x="378.1" y="1630.2">KRTAP5-1</text>
<text x="275.4" y="1655.9">FUZ</text>
<text x="515.5" y="1657.5">DKK1</text>
<text x="663.3" y="1674.7">NOTCH1</text>
<text x="774.4" y="1669">MMP14</text>
<text x="138.6" y="1694.5">KRTAP5-3</text>
<text x="402.3" y="1725.7">KRTAP5-5</text>
<text x="517.2" y="1774.5">MSX2</text>
<text x="691.9" y="1784.1">COL5A1</text>
<text x="794.8" y="1760.7">KRT6B</text>
<text x="886.3" y="1811">KRT75</text>
<text x="421.6" y="1860.1">ALX4</text>
</g>
</g>
</svg>
</body></html>
